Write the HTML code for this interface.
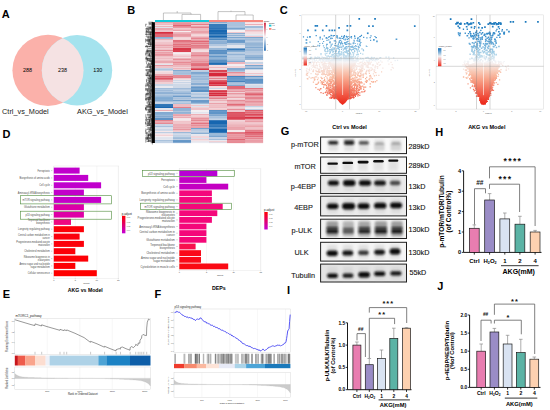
<!DOCTYPE html>
<html><head><meta charset="utf-8"><style>
html,body{margin:0;padding:0;background:#fff;}
svg{display:block;}
text{font-family:"Liberation Sans", sans-serif;}
</style></head><body>
<svg width="550" height="410" viewBox="0 0 550 410" font-family='"Liberation Sans", sans-serif'>
<rect width="550" height="410" fill="#fff"/>
<text x="1.8" y="18" font-size="11" font-weight="bold" fill="#000">A</text>
<text x="127.3" y="13.7" font-size="11" font-weight="bold" fill="#000">B</text>
<text x="279.8" y="13.7" font-size="11" font-weight="bold" fill="#000">C</text>
<text x="2.6" y="137.8" font-size="11" font-weight="bold" fill="#000">D</text>
<text x="2.8" y="297.8" font-size="11" font-weight="bold" fill="#000">E</text>
<text x="154.4" y="298" font-size="11" font-weight="bold" fill="#000">F</text>
<text x="280.8" y="135.2" font-size="11" font-weight="bold" fill="#000">G</text>
<text x="435.2" y="135.8" font-size="11" font-weight="bold" fill="#000">H</text>
<text x="437.2" y="290.4" font-size="11" font-weight="bold" fill="#000">J</text>
<text x="286.9" y="293.7" font-size="11" font-weight="bold" fill="#000">I</text>
<defs><clipPath id="vc"><circle cx="48" cy="70.3" r="35.6"/></clipPath></defs>
<circle cx="48" cy="70.3" r="35.6" fill="#FBB1AA"/>
<circle cx="77" cy="70.3" r="35.2" fill="#A5E3EE"/>
<circle cx="77" cy="70.3" r="35.2" fill="#F5E2E3" clip-path="url(#vc)"/>
<text x="27.6" y="72.2" font-size="5.4" text-anchor="middle" fill="#000">288</text>
<text x="62.6" y="72.2" font-size="5.4" text-anchor="middle" fill="#000">238</text>
<text x="97.8" y="72.2" font-size="5.4" text-anchor="middle" fill="#000">130</text>
<text x="2.1" y="114" font-size="7.3" fill="#222">Ctrl_vs_Model</text>
<text x="77.1" y="114" font-size="7.3" fill="#222">AKG_vs_Model</text>
<rect x="155" y="20" width="54" height="2.2" fill="#12C8DA"/>
<rect x="209" y="20" width="54" height="2.2" fill="#F7877E"/>
<rect x="155" y="22" width="18.1" height="1.6" fill="#eaa3ab"/>
<rect x="155" y="23.5" width="18.1" height="0.6" fill="#edb9c0"/>
<rect x="155" y="24" width="18.1" height="1.1" fill="#edbac1"/>
<rect x="155" y="25" width="18.1" height="1.1" fill="#f4e1e5"/>
<rect x="155" y="26" width="18.1" height="1.1" fill="#ecb3ba"/>
<rect x="155" y="27" width="18.1" height="1.1" fill="#dfe3ec"/>
<rect x="155" y="28" width="18.1" height="2" fill="#eba8b0"/>
<rect x="155" y="30" width="18.1" height="1.1" fill="#efc2c8"/>
<rect x="155" y="31" width="18.1" height="1.1" fill="#efc4ca"/>
<rect x="155" y="32" width="18.1" height="1.1" fill="#d72e3f"/>
<rect x="155" y="33" width="18.1" height="1.1" fill="#da4555"/>
<rect x="155" y="34" width="18.1" height="2" fill="#e06875"/>
<rect x="155" y="36" width="18.1" height="1.1" fill="#e06875"/>
<rect x="155" y="37" width="18.1" height="1.1" fill="#8db0d4"/>
<rect x="155" y="38" width="18.1" height="1.1" fill="#a1bdda"/>
<rect x="155" y="39" width="18.1" height="1.6" fill="#ecb2b9"/>
<rect x="155" y="40.5" width="18.1" height="1.1" fill="#f2d8dc"/>
<rect x="155" y="41.5" width="18.1" height="1.1" fill="#efc1c7"/>
<rect x="155" y="42.5" width="18.1" height="1.1" fill="#ecb2b9"/>
<rect x="155" y="43.5" width="18.1" height="1.1" fill="#edb7be"/>
<rect x="155" y="44.5" width="18.1" height="2" fill="#e9a2aa"/>
<rect x="155" y="46.5" width="18.1" height="2" fill="#ecb0b7"/>
<rect x="155" y="48.5" width="18.1" height="1.6" fill="#efc2c8"/>
<rect x="155" y="50" width="18.1" height="1.1" fill="#e68d97"/>
<rect x="155" y="51" width="18.1" height="1.1" fill="#efc2c8"/>
<rect x="155" y="52" width="18.1" height="1.6" fill="#e9a0a9"/>
<rect x="155" y="53.5" width="18.1" height="1.6" fill="#e7919b"/>
<rect x="155" y="55" width="18.1" height="1.6" fill="#e89aa3"/>
<rect x="155" y="56.5" width="18.1" height="1.1" fill="#eec0c5"/>
<rect x="155" y="57.5" width="18.1" height="2" fill="#eebcc2"/>
<rect x="155" y="59.5" width="18.1" height="1.6" fill="#eebdc3"/>
<rect x="155" y="61" width="18.1" height="2" fill="#eaa8b0"/>
<rect x="155" y="63" width="18.1" height="1.1" fill="#f2d6da"/>
<rect x="155" y="64" width="18.1" height="1.1" fill="#e2e5ed"/>
<rect x="155" y="65" width="18.1" height="1.6" fill="#e89ba4"/>
<rect x="155" y="66.5" width="18.1" height="1.6" fill="#efc4c9"/>
<rect x="155" y="68" width="18.1" height="1.1" fill="#c5d2e4"/>
<rect x="155" y="69" width="18.1" height="1.1" fill="#afc5de"/>
<rect x="155" y="70" width="18.1" height="1.1" fill="#c7d4e5"/>
<rect x="155" y="71" width="18.1" height="1.1" fill="#f4e1e4"/>
<rect x="155" y="72" width="18.1" height="2" fill="#f2d8dc"/>
<rect x="155" y="74" width="18.1" height="2" fill="#eaa7af"/>
<rect x="155" y="76" width="18.1" height="1.6" fill="#e06a77"/>
<rect x="155" y="77.5" width="18.1" height="2" fill="#dd5462"/>
<rect x="155" y="79.5" width="18.1" height="0.6" fill="#db4b5a"/>
<rect x="155" y="80" width="18.1" height="1.1" fill="#ecb0b7"/>
<rect x="155" y="81" width="18.1" height="1.1" fill="#ecb2b9"/>
<rect x="155" y="82" width="18.1" height="2" fill="#f1cfd3"/>
<rect x="155" y="84" width="18.1" height="2" fill="#c9d5e6"/>
<rect x="155" y="86" width="18.1" height="2" fill="#e9e9ef"/>
<rect x="155" y="88" width="18.1" height="1.6" fill="#a0bbd9"/>
<rect x="155" y="89.5" width="18.1" height="2" fill="#9ebad9"/>
<rect x="155" y="91.5" width="18.1" height="1.6" fill="#91b2d5"/>
<rect x="155" y="93" width="18.1" height="1.6" fill="#8fb1d4"/>
<rect x="155" y="94.5" width="18.1" height="2" fill="#a6bfdb"/>
<rect x="155" y="96.5" width="18.1" height="1.1" fill="#6194c6"/>
<rect x="155" y="97.5" width="18.1" height="1.1" fill="#6c9bca"/>
<rect x="155" y="98.5" width="18.1" height="1.1" fill="#5b91c5"/>
<rect x="155" y="99.5" width="18.1" height="0.6" fill="#6e9dca"/>
<rect x="155" y="100" width="18.1" height="1.1" fill="#82a9d0"/>
<rect x="155" y="101" width="18.1" height="1.6" fill="#a7c0dc"/>
<rect x="155" y="102.5" width="18.1" height="1.6" fill="#c5d3e5"/>
<rect x="155" y="104" width="18.1" height="1.1" fill="#3378b8"/>
<rect x="155" y="105" width="18.1" height="2" fill="#2e75b7"/>
<rect x="155" y="107" width="18.1" height="1.1" fill="#1a68b1"/>
<rect x="155" y="108" width="18.1" height="2" fill="#e2e5ed"/>
<rect x="155" y="110" width="18.1" height="1.1" fill="#ebaeb5"/>
<rect x="155" y="111" width="18.1" height="1.1" fill="#edecf1"/>
<rect x="155" y="112" width="18.1" height="1.6" fill="#82a9d0"/>
<rect x="155" y="113.5" width="18.1" height="1.1" fill="#548cc2"/>
<rect x="155" y="114.5" width="18.1" height="1.1" fill="#7da6cf"/>
<rect x="155" y="115.5" width="18.1" height="1.6" fill="#83a9d0"/>
<rect x="155" y="117" width="18.1" height="1.1" fill="#97b6d7"/>
<rect x="155" y="118" width="18.1" height="2" fill="#5f93c6"/>
<rect x="155" y="120" width="18.1" height="1.6" fill="#e4818c"/>
<rect x="155" y="121.5" width="18.1" height="1.6" fill="#eaa4ac"/>
<rect x="155" y="123" width="18.1" height="1.1" fill="#e58993"/>
<rect x="155" y="124" width="18.1" height="2" fill="#ccd7e7"/>
<rect x="155" y="126" width="18.1" height="1.6" fill="#a9c1dc"/>
<rect x="155" y="127.5" width="18.1" height="1.1" fill="#e7e8ef"/>
<rect x="155" y="128.5" width="18.1" height="1.6" fill="#ccd7e7"/>
<rect x="155" y="130" width="18.1" height="1.1" fill="#cfd9e8"/>
<rect x="155" y="131" width="18.1" height="1.1" fill="#f5e7ea"/>
<rect x="155" y="132" width="18.1" height="1.6" fill="#becee2"/>
<rect x="155" y="133.5" width="18.1" height="1.1" fill="#f5e8eb"/>
<rect x="155" y="134.5" width="18.1" height="1.6" fill="#f1d3d7"/>
<rect x="155" y="136" width="18.1" height="1.1" fill="#f6eff1"/>
<rect x="155" y="137" width="18.1" height="1.6" fill="#e2e5ed"/>
<rect x="155" y="138.5" width="18.1" height="1.1" fill="#d2dae8"/>
<rect x="155" y="139.5" width="18.1" height="0.6" fill="#e3e6ee"/>
<rect x="155" y="140" width="18.1" height="1.6" fill="#a9c2dc"/>
<rect x="155" y="141.5" width="18.1" height="1.1" fill="#b8cbe1"/>
<rect x="155" y="142.5" width="18.1" height="0.6" fill="#b2c7df"/>
<rect x="173" y="22" width="18.1" height="1.1" fill="#e99da6"/>
<rect x="173" y="23" width="18.1" height="2" fill="#e7929c"/>
<rect x="173" y="25" width="18.1" height="1.1" fill="#e06673"/>
<rect x="173" y="26" width="18.1" height="1.6" fill="#e68a94"/>
<rect x="173" y="27.5" width="18.1" height="0.6" fill="#e37a86"/>
<rect x="173" y="28" width="18.1" height="1.6" fill="#f0cacf"/>
<rect x="173" y="29.5" width="18.1" height="1.6" fill="#eaa2aa"/>
<rect x="173" y="31" width="18.1" height="1.1" fill="#f6edef"/>
<rect x="173" y="32" width="18.1" height="1.1" fill="#edb7be"/>
<rect x="173" y="33" width="18.1" height="1.1" fill="#ecaeb6"/>
<rect x="173" y="34" width="18.1" height="2" fill="#e899a2"/>
<rect x="173" y="36" width="18.1" height="1.1" fill="#eaa4ac"/>
<rect x="173" y="37" width="18.1" height="1.6" fill="#f1d3d7"/>
<rect x="173" y="38.5" width="18.1" height="1.1" fill="#f1d0d4"/>
<rect x="173" y="39.5" width="18.1" height="0.6" fill="#f0c9ce"/>
<rect x="173" y="40" width="18.1" height="1.1" fill="#e1707c"/>
<rect x="173" y="41" width="18.1" height="1.1" fill="#e2737f"/>
<rect x="173" y="42" width="18.1" height="1.6" fill="#e68b95"/>
<rect x="173" y="43.5" width="18.1" height="2" fill="#e2717d"/>
<rect x="173" y="45.5" width="18.1" height="1.1" fill="#df606d"/>
<rect x="173" y="46.5" width="18.1" height="1.1" fill="#dc4e5d"/>
<rect x="173" y="47.5" width="18.1" height="0.6" fill="#e58791"/>
<rect x="173" y="48" width="18.1" height="2" fill="#d83747"/>
<rect x="173" y="50" width="18.1" height="1.1" fill="#da4353"/>
<rect x="173" y="51" width="18.1" height="1.1" fill="#da4050"/>
<rect x="173" y="52" width="18.1" height="1.6" fill="#f4e4e7"/>
<rect x="173" y="53.5" width="18.1" height="1.1" fill="#f2eff2"/>
<rect x="173" y="54.5" width="18.1" height="1.1" fill="#efc3c9"/>
<rect x="173" y="55.5" width="18.1" height="1.1" fill="#f0cbd0"/>
<rect x="173" y="56.5" width="18.1" height="1.1" fill="#ebacb3"/>
<rect x="173" y="57.5" width="18.1" height="0.6" fill="#f3f0f3"/>
<rect x="173" y="58" width="18.1" height="1.1" fill="#ecb2b9"/>
<rect x="173" y="59" width="18.1" height="1.1" fill="#e68f99"/>
<rect x="173" y="60" width="18.1" height="1.6" fill="#edb4bb"/>
<rect x="173" y="61.5" width="18.1" height="2" fill="#e68a94"/>
<rect x="173" y="63.5" width="18.1" height="1.1" fill="#e5858f"/>
<rect x="173" y="64.5" width="18.1" height="0.6" fill="#e58590"/>
<rect x="173" y="65" width="18.1" height="2" fill="#edbac0"/>
<rect x="173" y="67" width="18.1" height="1.1" fill="#f1d2d7"/>
<rect x="173" y="68" width="18.1" height="1.1" fill="#edb6bd"/>
<rect x="173" y="69" width="18.1" height="1.1" fill="#f0ccd1"/>
<rect x="173" y="70" width="18.1" height="1.1" fill="#84aad1"/>
<rect x="173" y="71" width="18.1" height="2" fill="#a8c1dc"/>
<rect x="173" y="73" width="18.1" height="1.1" fill="#a3bdda"/>
<rect x="173" y="74" width="18.1" height="1.1" fill="#adc4dd"/>
<rect x="173" y="75" width="18.1" height="2" fill="#e68d97"/>
<rect x="173" y="77" width="18.1" height="1.1" fill="#e58691"/>
<rect x="173" y="78" width="18.1" height="1.1" fill="#f0cbd0"/>
<rect x="173" y="79" width="18.1" height="1.1" fill="#f3dee1"/>
<rect x="173" y="80" width="18.1" height="1.1" fill="#cfd9e7"/>
<rect x="173" y="81" width="18.1" height="1.1" fill="#e9e9ef"/>
<rect x="173" y="82" width="18.1" height="1.1" fill="#c9d5e6"/>
<rect x="173" y="83" width="18.1" height="1.1" fill="#e1e4ed"/>
<rect x="173" y="84" width="18.1" height="2" fill="#cfd9e7"/>
<rect x="173" y="86" width="18.1" height="2" fill="#cfd9e7"/>
<rect x="173" y="88" width="18.1" height="1.1" fill="#a0bbd9"/>
<rect x="173" y="89" width="18.1" height="1.6" fill="#b2c7df"/>
<rect x="173" y="90.5" width="18.1" height="1.1" fill="#abc3dd"/>
<rect x="173" y="91.5" width="18.1" height="1.1" fill="#89add2"/>
<rect x="173" y="92.5" width="18.1" height="2" fill="#8baed3"/>
<rect x="173" y="94.5" width="18.1" height="1.1" fill="#9dbad9"/>
<rect x="173" y="95.5" width="18.1" height="2" fill="#6e9cca"/>
<rect x="173" y="97.5" width="18.1" height="1.6" fill="#a7c0db"/>
<rect x="173" y="99" width="18.1" height="1.1" fill="#b4c8df"/>
<rect x="173" y="100" width="18.1" height="1.6" fill="#73a0cc"/>
<rect x="173" y="101.5" width="18.1" height="1.1" fill="#b6cae0"/>
<rect x="173" y="102.5" width="18.1" height="1.1" fill="#a3beda"/>
<rect x="173" y="103.5" width="18.1" height="0.6" fill="#87acd2"/>
<rect x="173" y="104" width="18.1" height="2" fill="#eebcc2"/>
<rect x="173" y="106" width="18.1" height="1.1" fill="#eebcc2"/>
<rect x="173" y="107" width="18.1" height="1.1" fill="#e47f8a"/>
<rect x="173" y="108" width="18.1" height="2" fill="#91b2d5"/>
<rect x="173" y="110" width="18.1" height="1.1" fill="#92b3d5"/>
<rect x="173" y="111" width="18.1" height="1.1" fill="#b1c6de"/>
<rect x="173" y="112" width="18.1" height="1.1" fill="#91b2d5"/>
<rect x="173" y="113" width="18.1" height="1.1" fill="#99b7d7"/>
<rect x="173" y="114" width="18.1" height="1.1" fill="#ebabb2"/>
<rect x="173" y="115" width="18.1" height="1.6" fill="#e9a1aa"/>
<rect x="173" y="116.5" width="18.1" height="1.1" fill="#eec0c6"/>
<rect x="173" y="117.5" width="18.1" height="0.6" fill="#e4808b"/>
<rect x="173" y="118" width="18.1" height="1.1" fill="#f4e2e6"/>
<rect x="173" y="119" width="18.1" height="1.6" fill="#f5e7ea"/>
<rect x="173" y="120.5" width="18.1" height="1.1" fill="#f1d1d6"/>
<rect x="173" y="121.5" width="18.1" height="1.1" fill="#eaa5ad"/>
<rect x="173" y="122.5" width="18.1" height="1.6" fill="#efc6cb"/>
<rect x="173" y="124" width="18.1" height="2" fill="#ecaeb6"/>
<rect x="173" y="126" width="18.1" height="1.1" fill="#ecb3ba"/>
<rect x="173" y="127" width="18.1" height="1.1" fill="#eaa8b0"/>
<rect x="173" y="128" width="18.1" height="1.1" fill="#ecb4bb"/>
<rect x="173" y="129" width="18.1" height="1.1" fill="#e898a1"/>
<rect x="173" y="130" width="18.1" height="1.6" fill="#efc2c8"/>
<rect x="173" y="131.5" width="18.1" height="0.6" fill="#efc4c9"/>
<rect x="173" y="132" width="18.1" height="1.1" fill="#9ab8d8"/>
<rect x="173" y="133" width="18.1" height="1.6" fill="#c9d5e6"/>
<rect x="173" y="134.5" width="18.1" height="2" fill="#c3d1e4"/>
<rect x="173" y="136.5" width="18.1" height="1.6" fill="#a8c1dc"/>
<rect x="173" y="138" width="18.1" height="1.1" fill="#a0bcd9"/>
<rect x="173" y="139" width="18.1" height="1.1" fill="#c4d2e4"/>
<rect x="173" y="140" width="18.1" height="1.1" fill="#6798c8"/>
<rect x="173" y="141" width="18.1" height="1.1" fill="#6396c7"/>
<rect x="173" y="142" width="18.1" height="1.1" fill="#84aad1"/>
<rect x="191" y="22" width="18.1" height="1.1" fill="#ecb2b9"/>
<rect x="191" y="23" width="18.1" height="1.1" fill="#ecb3ba"/>
<rect x="191" y="24" width="18.1" height="1.1" fill="#e47f8a"/>
<rect x="191" y="25" width="18.1" height="1.1" fill="#f0c8cd"/>
<rect x="191" y="26" width="18.1" height="1.1" fill="#e9a1a9"/>
<rect x="191" y="27" width="18.1" height="1.1" fill="#e4838e"/>
<rect x="191" y="28" width="18.1" height="1.1" fill="#edb9bf"/>
<rect x="191" y="29" width="18.1" height="2" fill="#edb9bf"/>
<rect x="191" y="31" width="18.1" height="2" fill="#e9a1a9"/>
<rect x="191" y="33" width="18.1" height="1.6" fill="#edb6bd"/>
<rect x="191" y="34.5" width="18.1" height="1.1" fill="#f1d3d7"/>
<rect x="191" y="35.5" width="18.1" height="1.1" fill="#f1cdd2"/>
<rect x="191" y="36.5" width="18.1" height="0.6" fill="#e9a0a9"/>
<rect x="191" y="37" width="18.1" height="1.1" fill="#eaa4ad"/>
<rect x="191" y="38" width="18.1" height="1.6" fill="#e58691"/>
<rect x="191" y="39.5" width="18.1" height="1.1" fill="#e99fa8"/>
<rect x="191" y="40.5" width="18.1" height="2" fill="#e06875"/>
<rect x="191" y="42.5" width="18.1" height="1.6" fill="#e37b86"/>
<rect x="191" y="44" width="18.1" height="1.1" fill="#eaa2aa"/>
<rect x="191" y="45" width="18.1" height="1.1" fill="#e37a85"/>
<rect x="191" y="46" width="18.1" height="2" fill="#e5848f"/>
<rect x="191" y="48" width="18.1" height="1.6" fill="#e9a2aa"/>
<rect x="191" y="49.5" width="18.1" height="1.6" fill="#f3dcdf"/>
<rect x="191" y="51" width="18.1" height="1.1" fill="#f3dee2"/>
<rect x="191" y="52" width="18.1" height="1.1" fill="#eaa5ad"/>
<rect x="191" y="53" width="18.1" height="2" fill="#e99fa8"/>
<rect x="191" y="55" width="18.1" height="1.6" fill="#e4818c"/>
<rect x="191" y="56.5" width="18.1" height="1.1" fill="#e7939d"/>
<rect x="191" y="57.5" width="18.1" height="1.1" fill="#e99fa7"/>
<rect x="191" y="58.5" width="18.1" height="1.1" fill="#e89ba4"/>
<rect x="191" y="59.5" width="18.1" height="1.1" fill="#e58993"/>
<rect x="191" y="60.5" width="18.1" height="1.6" fill="#e68f99"/>
<rect x="191" y="62" width="18.1" height="1.1" fill="#e99fa8"/>
<rect x="191" y="63" width="18.1" height="1.1" fill="#e27782"/>
<rect x="191" y="64" width="18.1" height="2" fill="#e16f7c"/>
<rect x="191" y="66" width="18.1" height="2" fill="#e89aa3"/>
<rect x="191" y="68" width="18.1" height="1.1" fill="#df6370"/>
<rect x="191" y="69" width="18.1" height="1.1" fill="#d83546"/>
<rect x="191" y="70" width="18.1" height="1.1" fill="#c1d0e3"/>
<rect x="191" y="71" width="18.1" height="1.1" fill="#bacce1"/>
<rect x="191" y="72" width="18.1" height="1.1" fill="#7da6cf"/>
<rect x="191" y="73" width="18.1" height="1.1" fill="#81a8d0"/>
<rect x="191" y="74" width="18.1" height="1.6" fill="#9ebbd9"/>
<rect x="191" y="75.5" width="18.1" height="2" fill="#94b4d6"/>
<rect x="191" y="77.5" width="18.1" height="0.6" fill="#84aad1"/>
<rect x="191" y="78" width="18.1" height="1.1" fill="#9dbad9"/>
<rect x="191" y="79" width="18.1" height="1.1" fill="#9bb8d8"/>
<rect x="191" y="80" width="18.1" height="1.1" fill="#b3c8df"/>
<rect x="191" y="81" width="18.1" height="1.1" fill="#abc3dd"/>
<rect x="191" y="82" width="18.1" height="1.1" fill="#b3c7df"/>
<rect x="191" y="83" width="18.1" height="2" fill="#8aaed3"/>
<rect x="191" y="85" width="18.1" height="1.1" fill="#bccde2"/>
<rect x="191" y="86" width="18.1" height="1.1" fill="#8cafd3"/>
<rect x="191" y="87" width="18.1" height="1.1" fill="#6597c8"/>
<rect x="191" y="88" width="18.1" height="2" fill="#79a4ce"/>
<rect x="191" y="90" width="18.1" height="2" fill="#5990c4"/>
<rect x="191" y="92" width="18.1" height="1.6" fill="#cdd8e7"/>
<rect x="191" y="93.5" width="18.1" height="1.1" fill="#92b3d5"/>
<rect x="191" y="94.5" width="18.1" height="1.1" fill="#a7c0db"/>
<rect x="191" y="95.5" width="18.1" height="1.6" fill="#c0d0e3"/>
<rect x="191" y="97" width="18.1" height="1.1" fill="#8db0d3"/>
<rect x="191" y="98" width="18.1" height="1.1" fill="#b4c8df"/>
<rect x="191" y="99" width="18.1" height="1.1" fill="#c6d4e5"/>
<rect x="191" y="100" width="18.1" height="2" fill="#6a9ac9"/>
<rect x="191" y="102" width="18.1" height="1.6" fill="#77a2cd"/>
<rect x="191" y="103.5" width="18.1" height="0.6" fill="#8fb1d4"/>
<rect x="191" y="104" width="18.1" height="1.1" fill="#dfe3ec"/>
<rect x="191" y="105" width="18.1" height="1.1" fill="#f0c7cc"/>
<rect x="191" y="106" width="18.1" height="1.1" fill="#dde2ec"/>
<rect x="191" y="107" width="18.1" height="1.1" fill="#f1d1d5"/>
<rect x="191" y="108" width="18.1" height="2" fill="#efc2c8"/>
<rect x="191" y="110" width="18.1" height="2" fill="#f3f0f3"/>
<rect x="191" y="112" width="18.1" height="1.1" fill="#e3e5ee"/>
<rect x="191" y="113" width="18.1" height="1.1" fill="#ebeaf0"/>
<rect x="191" y="114" width="18.1" height="1.6" fill="#ecb0b7"/>
<rect x="191" y="115.5" width="18.1" height="1.1" fill="#f0ccd1"/>
<rect x="191" y="116.5" width="18.1" height="1.6" fill="#edb5bc"/>
<rect x="191" y="118" width="18.1" height="1.6" fill="#e7949e"/>
<rect x="191" y="119.5" width="18.1" height="2" fill="#e58993"/>
<rect x="191" y="121.5" width="18.1" height="1.1" fill="#eaa5ad"/>
<rect x="191" y="122.5" width="18.1" height="2" fill="#e27581"/>
<rect x="191" y="124.5" width="18.1" height="2" fill="#e68f99"/>
<rect x="191" y="126.5" width="18.1" height="1.1" fill="#e58792"/>
<rect x="191" y="127.5" width="18.1" height="0.6" fill="#e68e98"/>
<rect x="191" y="128" width="18.1" height="1.6" fill="#76a2cd"/>
<rect x="191" y="129.5" width="18.1" height="1.6" fill="#bbcce2"/>
<rect x="191" y="131" width="18.1" height="1.1" fill="#c4d2e4"/>
<rect x="191" y="132" width="18.1" height="1.1" fill="#b0c6de"/>
<rect x="191" y="133" width="18.1" height="1.1" fill="#8aaed3"/>
<rect x="191" y="134" width="18.1" height="1.1" fill="#e8e9ef"/>
<rect x="191" y="135" width="18.1" height="1.1" fill="#e5e6ee"/>
<rect x="191" y="136" width="18.1" height="2" fill="#f2d6db"/>
<rect x="191" y="138" width="18.1" height="1.1" fill="#dce1ec"/>
<rect x="191" y="139" width="18.1" height="1.1" fill="#f1d0d4"/>
<rect x="191" y="140" width="18.1" height="1.6" fill="#f4e2e5"/>
<rect x="191" y="141.5" width="18.1" height="1.1" fill="#d9dfeb"/>
<rect x="191" y="142.5" width="18.1" height="0.6" fill="#edecf1"/>
<rect x="209" y="22" width="18.1" height="1.6" fill="#85abd1"/>
<rect x="209" y="23.5" width="18.1" height="0.6" fill="#b6cae0"/>
<rect x="209" y="24" width="18.1" height="2" fill="#377bba"/>
<rect x="209" y="26" width="18.1" height="2" fill="#397cba"/>
<rect x="209" y="28" width="18.1" height="1.1" fill="#2b73b6"/>
<rect x="209" y="29" width="18.1" height="1.1" fill="#3b7dbb"/>
<rect x="209" y="30" width="18.1" height="2" fill="#1867b0"/>
<rect x="209" y="32" width="18.1" height="1.1" fill="#2670b5"/>
<rect x="209" y="33" width="18.1" height="1.6" fill="#1b69b1"/>
<rect x="209" y="34.5" width="18.1" height="1.1" fill="#1666b0"/>
<rect x="209" y="35.5" width="18.1" height="1.6" fill="#1666b0"/>
<rect x="209" y="37" width="18.1" height="1.6" fill="#4583be"/>
<rect x="209" y="38.5" width="18.1" height="1.6" fill="#508ac1"/>
<rect x="209" y="40" width="18.1" height="1.1" fill="#9dbad8"/>
<rect x="209" y="41" width="18.1" height="2" fill="#8eb0d4"/>
<rect x="209" y="43" width="18.1" height="1.1" fill="#8aaed3"/>
<rect x="209" y="44" width="18.1" height="2" fill="#b2c7df"/>
<rect x="209" y="46" width="18.1" height="2" fill="#d2dbe8"/>
<rect x="209" y="48" width="18.1" height="2" fill="#98b7d7"/>
<rect x="209" y="50" width="18.1" height="1.1" fill="#588fc4"/>
<rect x="209" y="51" width="18.1" height="1.1" fill="#6094c6"/>
<rect x="209" y="52" width="18.1" height="1.1" fill="#5e93c5"/>
<rect x="209" y="53" width="18.1" height="1.6" fill="#5990c4"/>
<rect x="209" y="54.5" width="18.1" height="1.1" fill="#8aaed3"/>
<rect x="209" y="55.5" width="18.1" height="2" fill="#6396c7"/>
<rect x="209" y="57.5" width="18.1" height="1.1" fill="#6295c7"/>
<rect x="209" y="58.5" width="18.1" height="1.6" fill="#7fa7cf"/>
<rect x="209" y="60" width="18.1" height="2" fill="#5b91c4"/>
<rect x="209" y="62" width="18.1" height="1.1" fill="#508ac1"/>
<rect x="209" y="63" width="18.1" height="1.1" fill="#1f6cb2"/>
<rect x="209" y="64" width="18.1" height="1.1" fill="#3478b9"/>
<rect x="209" y="65" width="18.1" height="2" fill="#f3dbdf"/>
<rect x="209" y="67" width="18.1" height="1.6" fill="#edb8bf"/>
<rect x="209" y="68.5" width="18.1" height="1.1" fill="#e9e9ef"/>
<rect x="209" y="69.5" width="18.1" height="0.6" fill="#efc3c9"/>
<rect x="209" y="70" width="18.1" height="2" fill="#da4453"/>
<rect x="209" y="72" width="18.1" height="1.1" fill="#e5858f"/>
<rect x="209" y="73" width="18.1" height="2" fill="#d6283a"/>
<rect x="209" y="75" width="18.1" height="1.1" fill="#d6283a"/>
<rect x="209" y="76" width="18.1" height="1.1" fill="#e68e97"/>
<rect x="209" y="77" width="18.1" height="1.1" fill="#eebdc3"/>
<rect x="209" y="78" width="18.1" height="1.1" fill="#e4828d"/>
<rect x="209" y="79" width="18.1" height="1.1" fill="#efc2c8"/>
<rect x="209" y="80" width="18.1" height="1.1" fill="#df5f6d"/>
<rect x="209" y="81" width="18.1" height="1.1" fill="#dc505f"/>
<rect x="209" y="82" width="18.1" height="1.1" fill="#d83546"/>
<rect x="209" y="83" width="18.1" height="1.6" fill="#d6283a"/>
<rect x="209" y="84.5" width="18.1" height="1.6" fill="#d93d4d"/>
<rect x="209" y="86" width="18.1" height="2" fill="#f3dcdf"/>
<rect x="209" y="88" width="18.1" height="1.1" fill="#cad6e6"/>
<rect x="209" y="89" width="18.1" height="1.1" fill="#f6eef0"/>
<rect x="209" y="90" width="18.1" height="1.1" fill="#dc5260"/>
<rect x="209" y="91" width="18.1" height="1.1" fill="#d83848"/>
<rect x="209" y="92" width="18.1" height="1.1" fill="#e16b78"/>
<rect x="209" y="93" width="18.1" height="1.6" fill="#d62b3c"/>
<rect x="209" y="94.5" width="18.1" height="1.6" fill="#d62d3f"/>
<rect x="209" y="96" width="18.1" height="1.1" fill="#eaa4ac"/>
<rect x="209" y="97" width="18.1" height="1.1" fill="#e99fa7"/>
<rect x="209" y="98" width="18.1" height="1.1" fill="#e4818c"/>
<rect x="209" y="99" width="18.1" height="1.1" fill="#efc5ca"/>
<rect x="209" y="100" width="18.1" height="1.1" fill="#ecb0b7"/>
<rect x="209" y="101" width="18.1" height="2" fill="#f1d2d6"/>
<rect x="209" y="103" width="18.1" height="1.1" fill="#eaa3ab"/>
<rect x="209" y="104" width="18.1" height="1.6" fill="#efc5cb"/>
<rect x="209" y="105.5" width="18.1" height="1.1" fill="#e9a1a9"/>
<rect x="209" y="106.5" width="18.1" height="2" fill="#eebbc1"/>
<rect x="209" y="108.5" width="18.1" height="1.6" fill="#f0c8cd"/>
<rect x="209" y="110" width="18.1" height="1.6" fill="#5b91c5"/>
<rect x="209" y="111.5" width="18.1" height="1.1" fill="#3479b9"/>
<rect x="209" y="112.5" width="18.1" height="1.1" fill="#3c7dbb"/>
<rect x="209" y="113.5" width="18.1" height="0.6" fill="#367ab9"/>
<rect x="209" y="114" width="18.1" height="1.1" fill="#8bafd3"/>
<rect x="209" y="115" width="18.1" height="1.6" fill="#7fa7cf"/>
<rect x="209" y="116.5" width="18.1" height="2" fill="#a7c0dc"/>
<rect x="209" y="118.5" width="18.1" height="1.1" fill="#9dbad8"/>
<rect x="209" y="119.5" width="18.1" height="0.6" fill="#c5d3e5"/>
<rect x="209" y="120" width="18.1" height="1.1" fill="#3a7cbb"/>
<rect x="209" y="121" width="18.1" height="1.1" fill="#1666b0"/>
<rect x="209" y="122" width="18.1" height="1.1" fill="#1666b0"/>
<rect x="209" y="123" width="18.1" height="1.1" fill="#1666b0"/>
<rect x="209" y="124" width="18.1" height="2" fill="#387bba"/>
<rect x="209" y="126" width="18.1" height="1.6" fill="#2c74b6"/>
<rect x="209" y="127.5" width="18.1" height="1.1" fill="#3b7dbb"/>
<rect x="209" y="128.5" width="18.1" height="1.6" fill="#1666b0"/>
<rect x="209" y="130" width="18.1" height="2" fill="#1666b0"/>
<rect x="209" y="132" width="18.1" height="1.1" fill="#3479b9"/>
<rect x="209" y="133" width="18.1" height="1.6" fill="#99b8d7"/>
<rect x="209" y="134.5" width="18.1" height="1.1" fill="#76a2cd"/>
<rect x="209" y="135.5" width="18.1" height="1.6" fill="#7ca6cf"/>
<rect x="209" y="137" width="18.1" height="2" fill="#c6d3e5"/>
<rect x="209" y="139" width="18.1" height="1.1" fill="#a3beda"/>
<rect x="209" y="140" width="18.1" height="1.1" fill="#e7e8ef"/>
<rect x="209" y="141" width="18.1" height="1.6" fill="#f1d1d5"/>
<rect x="209" y="142.5" width="18.1" height="0.6" fill="#c9d5e6"/>
<rect x="227" y="22" width="18.1" height="2" fill="#abc2dd"/>
<rect x="227" y="24" width="18.1" height="2" fill="#aac2dd"/>
<rect x="227" y="26" width="18.1" height="1.6" fill="#b2c7df"/>
<rect x="227" y="27.5" width="18.1" height="2" fill="#78a3cd"/>
<rect x="227" y="29.5" width="18.1" height="0.6" fill="#8aaed3"/>
<rect x="227" y="30" width="18.1" height="2" fill="#f5f1f3"/>
<rect x="227" y="32" width="18.1" height="1.1" fill="#f0c8ce"/>
<rect x="227" y="33" width="18.1" height="1.1" fill="#8aaed3"/>
<rect x="227" y="34" width="18.1" height="1.1" fill="#c0d0e3"/>
<rect x="227" y="35" width="18.1" height="1.6" fill="#93b3d5"/>
<rect x="227" y="36.5" width="18.1" height="0.6" fill="#c6d3e5"/>
<rect x="227" y="37" width="18.1" height="1.1" fill="#7ca6cf"/>
<rect x="227" y="38" width="18.1" height="1.6" fill="#b3c7df"/>
<rect x="227" y="39.5" width="18.1" height="1.6" fill="#6899c9"/>
<rect x="227" y="41" width="18.1" height="1.1" fill="#6a9ac9"/>
<rect x="227" y="42" width="18.1" height="1.1" fill="#709ecb"/>
<rect x="227" y="43" width="18.1" height="2" fill="#b5c9e0"/>
<rect x="227" y="45" width="18.1" height="2" fill="#e2e5ed"/>
<rect x="227" y="47" width="18.1" height="1.1" fill="#e4e6ee"/>
<rect x="227" y="48" width="18.1" height="1.1" fill="#78a3cd"/>
<rect x="227" y="49" width="18.1" height="1.1" fill="#3378b8"/>
<rect x="227" y="50" width="18.1" height="1.6" fill="#6f9dcb"/>
<rect x="227" y="51.5" width="18.1" height="0.6" fill="#5f93c6"/>
<rect x="227" y="52" width="18.1" height="1.6" fill="#bdcee2"/>
<rect x="227" y="53.5" width="18.1" height="2" fill="#93b3d5"/>
<rect x="227" y="55.5" width="18.1" height="1.1" fill="#9fbbd9"/>
<rect x="227" y="56.5" width="18.1" height="2" fill="#b3c8df"/>
<rect x="227" y="58.5" width="18.1" height="1.1" fill="#96b6d6"/>
<rect x="227" y="59.5" width="18.1" height="1.1" fill="#9dbad8"/>
<rect x="227" y="60.5" width="18.1" height="1.6" fill="#83a9d1"/>
<rect x="227" y="62" width="18.1" height="2" fill="#edb5bc"/>
<rect x="227" y="64" width="18.1" height="1.1" fill="#f6ecef"/>
<rect x="227" y="65" width="18.1" height="1.1" fill="#f3eff3"/>
<rect x="227" y="66" width="18.1" height="2" fill="#f2d5d9"/>
<rect x="227" y="68" width="18.1" height="2" fill="#84aad1"/>
<rect x="227" y="70" width="18.1" height="1.1" fill="#97b6d7"/>
<rect x="227" y="71" width="18.1" height="1.1" fill="#b3c8df"/>
<rect x="227" y="72" width="18.1" height="1.1" fill="#e68e98"/>
<rect x="227" y="73" width="18.1" height="1.6" fill="#ecb2b9"/>
<rect x="227" y="74.5" width="18.1" height="1.6" fill="#ebacb3"/>
<rect x="227" y="76" width="18.1" height="1.6" fill="#4181bd"/>
<rect x="227" y="77.5" width="18.1" height="1.1" fill="#4080bc"/>
<rect x="227" y="78.5" width="18.1" height="1.1" fill="#3e7ebc"/>
<rect x="227" y="79.5" width="18.1" height="1.1" fill="#4a86bf"/>
<rect x="227" y="80.5" width="18.1" height="1.6" fill="#4583be"/>
<rect x="227" y="82" width="18.1" height="1.1" fill="#9fbbd9"/>
<rect x="227" y="83" width="18.1" height="1.1" fill="#abc2dd"/>
<rect x="227" y="84" width="18.1" height="1.1" fill="#abc2dd"/>
<rect x="227" y="85" width="18.1" height="1.1" fill="#7ea7cf"/>
<rect x="227" y="86" width="18.1" height="2" fill="#e06774"/>
<rect x="227" y="88" width="18.1" height="1.1" fill="#e06a77"/>
<rect x="227" y="89" width="18.1" height="1.6" fill="#eaa2ab"/>
<rect x="227" y="90.5" width="18.1" height="1.6" fill="#e7949e"/>
<rect x="227" y="92" width="18.1" height="1.1" fill="#f1d0d5"/>
<rect x="227" y="93" width="18.1" height="1.1" fill="#e897a0"/>
<rect x="227" y="94" width="18.1" height="1.6" fill="#edb6bd"/>
<rect x="227" y="95.5" width="18.1" height="1.1" fill="#eebbc1"/>
<rect x="227" y="96.5" width="18.1" height="1.6" fill="#eaa2aa"/>
<rect x="227" y="98" width="18.1" height="1.1" fill="#f2d8dc"/>
<rect x="227" y="99" width="18.1" height="1.1" fill="#f1ced3"/>
<rect x="227" y="100" width="18.1" height="1.6" fill="#e68d97"/>
<rect x="227" y="101.5" width="18.1" height="1.1" fill="#e896a0"/>
<rect x="227" y="102.5" width="18.1" height="1.6" fill="#eaa3ab"/>
<rect x="227" y="104" width="18.1" height="1.1" fill="#e16c78"/>
<rect x="227" y="105" width="18.1" height="1.1" fill="#e58892"/>
<rect x="227" y="106" width="18.1" height="1.6" fill="#edbac1"/>
<rect x="227" y="107.5" width="18.1" height="1.6" fill="#efc3c8"/>
<rect x="227" y="109" width="18.1" height="1.1" fill="#e68d97"/>
<rect x="227" y="110" width="18.1" height="2" fill="#efc4ca"/>
<rect x="227" y="112" width="18.1" height="1.1" fill="#dc4f5e"/>
<rect x="227" y="113" width="18.1" height="1.1" fill="#de5967"/>
<rect x="227" y="114" width="18.1" height="1.1" fill="#dd5866"/>
<rect x="227" y="115" width="18.1" height="2" fill="#dd5564"/>
<rect x="227" y="117" width="18.1" height="2" fill="#da4252"/>
<rect x="227" y="119" width="18.1" height="1.1" fill="#e06875"/>
<rect x="227" y="120" width="18.1" height="1.1" fill="#f2d5da"/>
<rect x="227" y="121" width="18.1" height="1.6" fill="#f0cdd2"/>
<rect x="227" y="122.5" width="18.1" height="1.1" fill="#eba9b1"/>
<rect x="227" y="123.5" width="18.1" height="1.6" fill="#edbac0"/>
<rect x="227" y="125" width="18.1" height="2" fill="#ecb3ba"/>
<rect x="227" y="127" width="18.1" height="1.1" fill="#eaa3ab"/>
<rect x="227" y="128" width="18.1" height="2" fill="#eaa6ae"/>
<rect x="227" y="130" width="18.1" height="2" fill="#f5e9eb"/>
<rect x="227" y="132" width="18.1" height="1.1" fill="#e37b87"/>
<rect x="227" y="133" width="18.1" height="1.6" fill="#e37883"/>
<rect x="227" y="134.5" width="18.1" height="1.1" fill="#e68f99"/>
<rect x="227" y="135.5" width="18.1" height="1.1" fill="#e2717d"/>
<rect x="227" y="136.5" width="18.1" height="2" fill="#e7929b"/>
<rect x="227" y="138.5" width="18.1" height="1.6" fill="#e06572"/>
<rect x="227" y="140" width="18.1" height="1.1" fill="#e68e98"/>
<rect x="227" y="141" width="18.1" height="1.6" fill="#e68c96"/>
<rect x="227" y="142.5" width="18.1" height="0.6" fill="#dd5866"/>
<rect x="245" y="22" width="18.1" height="1.1" fill="#f4e0e3"/>
<rect x="245" y="23" width="18.1" height="1.1" fill="#f5e8eb"/>
<rect x="245" y="24" width="18.1" height="1.1" fill="#ecaeb6"/>
<rect x="245" y="25" width="18.1" height="1.1" fill="#f5e7ea"/>
<rect x="245" y="26" width="18.1" height="2" fill="#a1bdda"/>
<rect x="245" y="28" width="18.1" height="1.1" fill="#d3dbe9"/>
<rect x="245" y="29" width="18.1" height="1.1" fill="#d1dae8"/>
<rect x="245" y="30" width="18.1" height="1.1" fill="#edbac0"/>
<rect x="245" y="31" width="18.1" height="1.1" fill="#f1cfd4"/>
<rect x="245" y="32" width="18.1" height="1.1" fill="#f3dee2"/>
<rect x="245" y="33" width="18.1" height="1.1" fill="#f4e0e3"/>
<rect x="245" y="34" width="18.1" height="1.1" fill="#ecebf0"/>
<rect x="245" y="35" width="18.1" height="1.1" fill="#e0e3ed"/>
<rect x="245" y="36" width="18.1" height="1.1" fill="#efc7cc"/>
<rect x="245" y="37" width="18.1" height="1.6" fill="#7fa7cf"/>
<rect x="245" y="38.5" width="18.1" height="1.6" fill="#a2bdda"/>
<rect x="245" y="40" width="18.1" height="1.6" fill="#abc2dd"/>
<rect x="245" y="41.5" width="18.1" height="1.6" fill="#a5bfdb"/>
<rect x="245" y="43" width="18.1" height="2" fill="#95b5d6"/>
<rect x="245" y="45" width="18.1" height="1.6" fill="#9ab8d7"/>
<rect x="245" y="46.5" width="18.1" height="1.6" fill="#84aad1"/>
<rect x="245" y="48" width="18.1" height="1.1" fill="#a8c1dc"/>
<rect x="245" y="49" width="18.1" height="2" fill="#9bb9d8"/>
<rect x="245" y="51" width="18.1" height="2" fill="#b4c8e0"/>
<rect x="245" y="53" width="18.1" height="2" fill="#bbcce1"/>
<rect x="245" y="55" width="18.1" height="2" fill="#96b5d6"/>
<rect x="245" y="57" width="18.1" height="1.1" fill="#80a8d0"/>
<rect x="245" y="58" width="18.1" height="2" fill="#93b4d5"/>
<rect x="245" y="60" width="18.1" height="2" fill="#f6f1f3"/>
<rect x="245" y="62" width="18.1" height="1.1" fill="#c5d3e5"/>
<rect x="245" y="63" width="18.1" height="1.1" fill="#c9d5e6"/>
<rect x="245" y="64" width="18.1" height="1.1" fill="#f2d5d9"/>
<rect x="245" y="65" width="18.1" height="1.1" fill="#7aa4ce"/>
<rect x="245" y="66" width="18.1" height="2" fill="#abc2dd"/>
<rect x="245" y="68" width="18.1" height="1.1" fill="#78a3cd"/>
<rect x="245" y="69" width="18.1" height="1.1" fill="#c9d5e6"/>
<rect x="245" y="70" width="18.1" height="1.1" fill="#f1eef2"/>
<rect x="245" y="71" width="18.1" height="2" fill="#f5eaec"/>
<rect x="245" y="73" width="18.1" height="1.1" fill="#efc5cb"/>
<rect x="245" y="74" width="18.1" height="1.1" fill="#e2e5ed"/>
<rect x="245" y="75" width="18.1" height="1.1" fill="#f0cbd0"/>
<rect x="245" y="76" width="18.1" height="1.6" fill="#6094c6"/>
<rect x="245" y="77.5" width="18.1" height="1.6" fill="#9ab8d8"/>
<rect x="245" y="79" width="18.1" height="2" fill="#5e93c6"/>
<rect x="245" y="81" width="18.1" height="2" fill="#6396c7"/>
<rect x="245" y="83" width="18.1" height="1.1" fill="#83a9d1"/>
<rect x="245" y="84" width="18.1" height="1.1" fill="#e0e4ed"/>
<rect x="245" y="85" width="18.1" height="1.1" fill="#d4dce9"/>
<rect x="245" y="86" width="18.1" height="2" fill="#d0dae8"/>
<rect x="245" y="88" width="18.1" height="1.6" fill="#e27581"/>
<rect x="245" y="89.5" width="18.1" height="2" fill="#e899a2"/>
<rect x="245" y="91.5" width="18.1" height="1.6" fill="#e99da6"/>
<rect x="245" y="93" width="18.1" height="1.1" fill="#e37884"/>
<rect x="245" y="94" width="18.1" height="1.6" fill="#df626f"/>
<rect x="245" y="95.5" width="18.1" height="0.6" fill="#e47e89"/>
<rect x="245" y="96" width="18.1" height="1.1" fill="#eaa7af"/>
<rect x="245" y="97" width="18.1" height="2" fill="#e5848f"/>
<rect x="245" y="99" width="18.1" height="1.6" fill="#eaa6ae"/>
<rect x="245" y="100.5" width="18.1" height="1.6" fill="#e68f99"/>
<rect x="245" y="102" width="18.1" height="1.6" fill="#e9a1aa"/>
<rect x="245" y="103.5" width="18.1" height="1.1" fill="#e899a2"/>
<rect x="245" y="104.5" width="18.1" height="1.1" fill="#e68d97"/>
<rect x="245" y="105.5" width="18.1" height="0.6" fill="#eaa4ac"/>
<rect x="245" y="106" width="18.1" height="1.6" fill="#c5d3e4"/>
<rect x="245" y="107.5" width="18.1" height="1.6" fill="#f0eef2"/>
<rect x="245" y="109" width="18.1" height="1.1" fill="#bdcee2"/>
<rect x="245" y="110" width="18.1" height="1.6" fill="#de5b69"/>
<rect x="245" y="111.5" width="18.1" height="2" fill="#e06875"/>
<rect x="245" y="113.5" width="18.1" height="1.6" fill="#db4858"/>
<rect x="245" y="115" width="18.1" height="1.1" fill="#df6370"/>
<rect x="245" y="116" width="18.1" height="1.1" fill="#e4838e"/>
<rect x="245" y="117" width="18.1" height="1.1" fill="#d72f40"/>
<rect x="245" y="118" width="18.1" height="1.1" fill="#dc4c5b"/>
<rect x="245" y="119" width="18.1" height="1.6" fill="#e9a0a8"/>
<rect x="245" y="120.5" width="18.1" height="2" fill="#e99ca5"/>
<rect x="245" y="122.5" width="18.1" height="1.1" fill="#edb9bf"/>
<rect x="245" y="123.5" width="18.1" height="2" fill="#eebcc3"/>
<rect x="245" y="125.5" width="18.1" height="1.1" fill="#e4838d"/>
<rect x="245" y="126.5" width="18.1" height="1.1" fill="#e7939c"/>
<rect x="245" y="127.5" width="18.1" height="2" fill="#efc1c7"/>
<rect x="245" y="129.5" width="18.1" height="0.6" fill="#e58792"/>
<rect x="245" y="130" width="18.1" height="1.6" fill="#e37c87"/>
<rect x="245" y="131.5" width="18.1" height="1.6" fill="#dd5564"/>
<rect x="245" y="133" width="18.1" height="1.1" fill="#e16b78"/>
<rect x="245" y="134" width="18.1" height="1.6" fill="#e16e7b"/>
<rect x="245" y="135.5" width="18.1" height="2" fill="#e16e7a"/>
<rect x="245" y="137.5" width="18.1" height="2" fill="#e58691"/>
<rect x="245" y="139.5" width="18.1" height="1.1" fill="#e7959e"/>
<rect x="245" y="140.5" width="18.1" height="1.1" fill="#e37b87"/>
<rect x="245" y="141.5" width="18.1" height="1.1" fill="#e68d97"/>
<rect x="245" y="142.5" width="18.1" height="0.6" fill="#e897a0"/>
<line x1="163.4" y1="13" x2="191" y2="13" stroke="#8a8a8a" stroke-width="0.5"/>
<line x1="163.4" y1="13" x2="163.4" y2="20" stroke="#8a8a8a" stroke-width="0.5"/>
<line x1="191" y1="13" x2="191" y2="14.4" stroke="#8a8a8a" stroke-width="0.5"/>
<line x1="182" y1="14.4" x2="200.6" y2="14.4" stroke="#8a8a8a" stroke-width="0.5"/>
<line x1="182" y1="14.4" x2="182" y2="20" stroke="#8a8a8a" stroke-width="0.5"/>
<line x1="200.6" y1="14.4" x2="200.6" y2="20" stroke="#8a8a8a" stroke-width="0.5"/>
<line x1="177.2" y1="11" x2="177.2" y2="13" stroke="#8a8a8a" stroke-width="0.5"/>
<line x1="218" y1="11.6" x2="245" y2="11.6" stroke="#8a8a8a" stroke-width="0.5"/>
<line x1="218" y1="11.6" x2="218" y2="20" stroke="#8a8a8a" stroke-width="0.5"/>
<line x1="245" y1="11.6" x2="245" y2="15" stroke="#8a8a8a" stroke-width="0.5"/>
<line x1="236" y1="15" x2="253.2" y2="15" stroke="#8a8a8a" stroke-width="0.5"/>
<line x1="236" y1="15" x2="236" y2="20" stroke="#8a8a8a" stroke-width="0.5"/>
<line x1="253.2" y1="15" x2="253.2" y2="20" stroke="#8a8a8a" stroke-width="0.5"/>
<line x1="231" y1="10.6" x2="231" y2="11.6" stroke="#8a8a8a" stroke-width="0.5"/>
<path d="M148.4 22.2H153M151.2 22.6H153M148.6 23.1H153M148.7 23.7H153M149.3 24.4H153M151 25H153M151.7 25.6H153M151.7 26.2H153M146.7 26.9H153M148.5 27.5H153M146.2 28.1H153M145.7 28.7H153M147 29.2H153M151 29.7H153M150.4 30.2H153M151.8 30.8H153M145.8 31.4H153M145.4 32H153M147.2 32.6H153M147.7 33.1H153M149.2 33.8H153M145.2 34.4H153M147.7 35H153M151.5 35.4H153M151.9 36.1H153M145.7 36.6H153M150.8 37.3H153M146.9 37.7H153M150.9 38.3H153M149.9 38.8H153M149.6 39.3H153M145.6 39.9H153M146.2 40.6H153M149 41.2H153M147.3 41.9H153M149.2 42.3H153M150.6 43H153M146.6 43.5H153M147.8 44.1H153M148.3 44.5H153M151.2 45H153M151.4 45.4H153M145.5 46.1H153M145.2 46.6H153M151.9 47.3H153M151.2 47.7H153M147.8 48.4H153M151.6 49H153M151.6 49.5H153M146.8 50.1H153M146.4 50.6H153M145.8 51.2H153M145.9 51.7H153M145.4 52.3H153M150.5 52.8H153M151.4 53.2H153M145.4 53.7H153M151.5 54.3H153M147.8 55H153M151.4 55.5H153M146.6 56H153M150.8 56.6H153M149.9 57.2H153M151.9 57.7H153M145.5 58.3H153M147.2 58.7H153M145.7 59.3H153M148.7 59.9H153M147.9 60.5H153M146.6 60.9H153M149.2 61.4H153M149.8 61.8H153M151.8 62.5H153M150.7 63.1H153M148.2 63.6H153M151 64.1H153M148.6 64.6H153M146.8 65.1H153M152 65.6H153M151.5 66.1H153M146.5 66.8H153M145.3 67.2H153M149.8 67.9H153M150.4 68.5H153M150.2 69H153M145.5 69.5H153M148.7 69.9H153M145.5 70.4H153M148.8 70.8H153M148.3 71.5H153M147.8 71.9H153M151.5 72.5H153M145.8 73H153M151.5 73.7H153M151.9 74.3H153M150.1 74.8H153M145.8 75.3H153M151 76H153M150.6 76.6H153M151.3 77.2H153M146.9 77.8H153M147.7 78.5H153M148.1 79H153M151.1 79.7H153M147.6 80.2H153M150 80.9H153M149.2 81.4H153M148.2 82H153M149.9 82.4H153M145.9 83.1H153M148.7 83.5H153M150.1 84.1H153M146.3 84.7H153M151.1 85.4H153M145.2 85.8H153M150 86.5H153M149.8 87.1H153M149.9 87.6H153M150.4 88H153M145 88.7H153M145.3 89.1H153M150.8 89.6H153M145.1 90H153M147 90.6H153M150.3 91.1H153M147.7 91.6H153M150.3 92H153M149 92.6H153M149.5 93H153M147.3 93.6H153M145.1 94.2H153M149 94.8H153M150.4 95.2H153M149.4 95.9H153M150.5 96.5H153M147.3 97.1H153M146.9 97.7H153M146.2 98.3H153M147.1 98.9H153M147.3 99.6H153M147.4 100H153M151.3 100.7H153M150 101.2H153M147.3 101.9H153M150.5 102.4H153M147.2 103H153M151.1 103.6H153M148.9 104.2H153M147.9 104.6H153M148.6 105.2H153M145.5 105.8H153M145.8 106.3H153M146.7 106.8H153M146.3 107.4H153M151.8 107.8H153M150.7 108.5H153M146.7 109.1H153M148.6 109.6H153M146.2 110H153M148.4 110.6H153M148.9 111.2H153M147.7 111.7H153M148.6 112.2H153M147 112.8H153M150.7 113.3H153M150.9 114H153M146.8 114.6H153M147.1 115.1H153M149.8 115.7H153M150.5 116.2H153M149.4 116.7H153M151.6 117.2H153M147.8 117.7H153M149.8 118.4H153M151.4 118.9H153M147 119.5H153M145.2 120.1H153M149 120.7H153M151.3 121.1H153M146.5 121.6H153M150.9 122.2H153M148.3 122.9H153M146.4 123.3H153M149.8 123.8H153M146.3 124.4H153M149 125H153M146.8 125.5H153M151.3 126.2H153M149.8 126.7H153M150.4 127.2H153M147.4 127.7H153M147.4 128.3H153M152 128.8H153M146.5 129.5H153M150.5 130H153M150 130.6H153M149.2 131.1H153M151.5 131.8H153M151.1 132.3H153M146.1 132.9H153M151.5 133.3H153M145.7 134H153M148.5 134.4H153M147.8 135H153M147.6 135.4H153M145.4 135.9H153M150.2 136.5H153M151.4 137.2H153M146.1 137.6H153M146.7 138.1H153M146.6 138.6H153M145.7 139.1H153M151 139.7H153M147.9 140.4H153M147.5 140.8H153M146.6 141.5H153M150.8 142H153M150.7 142.7H153" stroke="#111" stroke-width="0.45" fill="none"/>
<path d="M150.7 74.2V77.8M149.4 53.5V55M146.5 80.7V81.7M148.8 39.2V41.6M149 86.2V89.8M145.5 122.1V124.3M149.4 101.2V104.7M148.1 71.8V75.7M146 97.8V100.6M145.7 94.6V97.5M152 61.3V65.3M149.1 79.7V83.3M145.7 107.5V110.3M147.9 124.5V126.5M148.8 84.5V87.8M147 73.8V75.9M149.4 120.4V122.1M151.3 70V72.5M147.4 82.3V86.2M150.1 116.2V118.1M147.7 57.6V60.3M149.9 115.3V116.2M150.6 127.4V129.9M145.8 57.7V58.6M146.8 131.7V134.4M150.1 115.9V119.6M149.8 95.4V98.2M150.4 93V95.9M147 101.4V103.6M150.8 34.1V35.4M145.8 114.2V117.9M150.1 65.9V69.3M151 88.9V90.5M147.6 72.2V74M148.5 98.4V102.2M145.9 89.5V90.5M146.3 118.4V121.1M151.9 75.1V76M148.2 92.4V96.2M152.4 78.6V80.7M146.2 98.7V100.2M146.6 23.8V24.7M150.3 36.5V40.4M146.1 125.5V126.7M145.6 107.6V109.2M150.6 44.3V45.3M150.9 106.9V110.5M150.6 32V34.8M150.5 76.8V80.6M147.3 136.8V139.8M145.6 23.8V26.6M151.2 31.5V33.3M150.6 41.8V45.3M148.9 29.1V31.1M149.5 74.2V77.2M146.5 116.9V118.8M150 96.9V99.1M148.2 115.6V119.4M151 89.5V91.2M145.9 137.9V141M151.3 61.5V64.3M152.3 120.9V123.6M147.7 73V76.6M148.1 103.5V106.2M151.8 118.1V119.8M145.5 53.3V55.5M149.6 119.1V122.7M145.8 121.2V124.6M151.6 90.1V91.7M151.5 118V121M151.9 63.3V64.3M149.4 116.9V118.3M150.8 132.9V134.4M149.7 102.6V104.9M146.9 52.3V55.5M151 76.7V77.8M151.1 113.9V115.4M149.6 128.7V132.4M149.2 78.7V81.4M146.8 44.9V46.3M150.4 65.2V67.8M148.3 83.5V84.8M145.8 140.7V142.7M146.2 97.3V100.6M146.6 93.1V95M149.1 24.4V25.4M152.4 125.1V127.4M149.5 53.1V56.4M148.5 134.6V137.9M151.2 136.7V138.3M145.8 45.9V47.3M146.1 28.1V30.7M151.6 76.5V80.4M151.9 29.6V32.4M148.3 36.3V40.1M147.3 89.2V92M152.2 101.7V103.8M148.6 41V44.9M152.4 48.4V49.3M147.3 63.9V67.6M151.8 121.6V122.6M151 106.4V109.3M152.4 28.6V29.9M150.8 133.8V136.8M147.6 92.4V95.6M146.2 60.5V62.2M146.4 79.3V80.6M147.2 39V42M145.6 107.3V108.8M145.8 132.4V133.9M152 125.1V128.8M146.5 75.2V76.3M152 122.2V125M148.7 62.4V65.9M148.8 96.8V98M147.1 28.8V31.8M149.4 39.2V42.8M147.4 71V72.3M147.4 121.9V123.8M146.7 80.4V82.2M151.8 35.6V39.5M145.9 128.5V131.4M147 78.8V80.5M147.3 46V48M152.4 140.8V144.5M146.2 56.4V60.1M145.9 108.5V110.2M152.4 23.9V27.3M147.9 38.7V39.5M151.3 84.7V86.1M148.5 130.5V132M149.5 38.4V39.8M150.9 106.7V108.1M146.1 32.4V35.2M149 54.6V56.1M149.8 106.2V109.6M149.6 46.1V47.1M150.6 70.6V73.7M145.9 118.5V120.3M151.4 124.9V127.3M145.6 130.3V132.6M151.6 53.7V55.1M151.3 65.7V67M148.1 92.8V93.6M149.1 75V77.5M146.3 107V110.4M151.6 60.2V63.3M148.2 111.4V112.4M151.6 135.5V137.9M149.1 85.1V87.7M145.6 137.1V138.6M146.8 34.2V35.8M151.2 25.6V26.7M150.4 45.2V46.1M149.7 90.6V93.1M150.4 34.2V37.8M150.5 27.4V28.6M149 81.6V83.3M146.4 70.3V71.5M149.6 124.5V125.7M149.5 110.8V112.2M151.3 133.6V135.6M148.4 121.9V124.4M148.3 134V137.3M147.9 50.6V52.5M148.5 138.8V142.1M151.9 119V122.5M145.9 83.6V87.4M152 51.7V53.8M149.9 65.4V67.9M146 73.5V75.9M145.6 38.6V42.5M150.9 133.5V136.3M151.2 127.2V130.9M145.7 98.3V100M150.2 54.5V57.1M152 95.9V97.5M149.1 73.6V77.5M147.5 58.3V61.2M146.3 92.7V96.6M149.1 53.9V56.2M149.2 39.7V40.9M146.4 56.9V59M147.5 51V52M149.3 121.9V124.7M149.5 99.4V100.8M150.5 76.8V79.4M149.8 77.8V79.6M147.2 48.4V50.8M148.2 91.7V92.5M148 124.6V126.1M149.4 80.5V82.2M152.4 57.2V60.4M146.6 29.9V33.5M148.6 29.4V31.4M148.6 109.5V110.7M147.1 136.2V139.3M146.6 62.1V64M150.2 95.3V98.9M151.2 83.6V86.8" stroke="#222" stroke-width="0.45" fill="none"/>
<rect x="152" y="22.2" width="2.9" height="120.8" fill="#000"/>
<defs><linearGradient id="hmg" x1="0" y1="0" x2="0" y2="1"><stop offset="0" stop-color="#C8102E"/><stop offset="0.5" stop-color="#F7F4F6"/><stop offset="1" stop-color="#1061B0"/></linearGradient></defs>
<rect x="264.1" y="22.7" width="1.7" height="28" fill="url(#hmg)"/>
<text x="263.8" y="21.6" font-size="1.6" fill="#000">Groups</text>
<text x="269" y="24" font-size="1.6" fill="#000">Groups</text>
<rect x="269" y="24.7" width="2.4" height="1.8" fill="#12C8DA"/>
<rect x="269" y="28" width="2.4" height="1.8" fill="#F7877E"/>
<text x="272" y="26.2" font-size="1.3" fill="#444">AKG</text>
<text x="272" y="29.5" font-size="1.3" fill="#444">Model</text>
<text x="266.6" y="29.5" font-size="1.5" fill="#555">1</text>
<text x="266.6" y="37.5" font-size="1.5" fill="#555">0</text>
<text x="266.6" y="44.5" font-size="1.5" fill="#555">-1</text>
<text x="266.6" y="50.5" font-size="1.5" fill="#555">-2</text>
<rect x="301.8" y="14.9" width="117.4" height="94.3" fill="#fff" stroke="#d5d5d5" stroke-width="0.5"/>
<defs><linearGradient id="vg1c" gradientUnits="userSpaceOnUse" x1="0" y1="105" x2="0" y2="18.9"><stop offset="0" stop-color="#ec2416"/><stop offset="0.1" stop-color="#f04e3c"/><stop offset="0.2" stop-color="#f47963"/><stop offset="0.3" stop-color="#f8a48a"/><stop offset="0.4" stop-color="#f8cdbb"/><stop offset="0.5" stop-color="#f5f4f6"/><stop offset="0.6" stop-color="#aad2e8"/><stop offset="0.7" stop-color="#74b2db"/><stop offset="0.8" stop-color="#3e92ce"/><stop offset="0.9" stop-color="#2983c4"/><stop offset="1" stop-color="#1474ba"/></linearGradient></defs>
<polygon points="342.6,105 339.8,102.8 338.1,100.6 336.6,98.4 335.3,96.2 334.8,94 334.8,91.8 334.8,89.6 334.8,87.4 334.8,85.2 334.8,83 334.8,80.8 334.8,78.6 334.8,76.4 334.4,74.2 333.3,72 332.2,69.8 331.1,67.6 330,65.4 328.9,63.2 327.8,61 335.2,58 350,58 357.4,61 356.3,63.2 355.2,65.4 354.1,67.6 353,69.8 351.9,72 350.8,74.2 350.4,76.4 350.4,78.6 350.4,80.8 350.4,83 350.4,85.2 350.4,87.4 350.4,89.6 350.4,91.8 350.4,94 349.9,96.2 348.6,98.4 347.1,100.6 345.4,102.8 342.6,105" fill="url(#vg1c)"/>
<path d="M353.8 67.2h1.2v1.2h-1.2zM369.5 67.2h1.2v1.2h-1.2zM308.1 71.4h1.3v1.3h-1.3zM326.2 71.5h1.3v1.3h-1.3z" fill="#f6e5df"/>
<path d="M318.6 71.9h1.2v1.2h-1.2zM319.3 71.7h1.2v1.2h-1.2zM329.8 76h1.3v1.3h-1.3z" fill="#f8d0c0"/>
<path d="M321.3 81.1h1.2v1.2h-1.2zM349.5 81h1.2v1.2h-1.2zM365.7 81h1.2v1.2h-1.2zM332.7 81.1h1.2v1.2h-1.2zM360.5 81h1.2v1.2h-1.2z" fill="#f8a58b"/>
<path d="M349.4 73.8h1.2v1.2h-1.2zM322.6 73.8h1.2v1.2h-1.2zM324.3 73.9h1.2v1.2h-1.2zM349.2 73.8h1.2v1.2h-1.2z" fill="#f8c7b2"/>
<path d="M323.1 81.7h1.2v1.2h-1.2z" fill="#f7a188"/>
<path d="M317.5 61.7h1.2v1.2h-1.2zM359.9 66.2h1.2v1.2h-1.2zM318.8 64.1h1.2v1.2h-1.2zM367.8 63.8h1.2v1.2h-1.2zM319.1 64.5h1.2v1.2h-1.2zM379.9 64.1h1.2v1.2h-1.2zM324.5 65.1h1.2v1.2h-1.2zM359.2 62.6h1.2v1.2h-1.2zM323.3 65.8h1.2v1.2h-1.2zM360.4 64.6h1.2v1.2h-1.2zM355 65.8h1.2v1.2h-1.2zM358.5 64.6h1.2v1.2h-1.2zM329.3 65.9h1.2v1.2h-1.2zM377.1 63.2h1.2v1.2h-1.2zM323.1 63.7h1.2v1.2h-1.2zM324.2 62.1h1.2v1.2h-1.2zM315 64.8h1.2v1.2h-1.2zM304.7 62.1h1.2v1.2h-1.2zM388.3 63.5h1.2v1.2h-1.2zM319 65.9h1.2v1.2h-1.2zM329.7 63.7h1.2v1.2h-1.2zM302.2 64.7h1.2v1.2h-1.2zM364 61.7h1.2v1.2h-1.2zM312 61.7h1.2v1.2h-1.2zM325.1 63h1.2v1.2h-1.2zM314 61.6h1.2v1.2h-1.2zM324.8 65.9h1.2v1.2h-1.2zM323.1 65h1.2v1.2h-1.2zM324.4 66h1.2v1.2h-1.2zM362.5 63.2h1.2v1.2h-1.2zM352.2 66.5h1.2v1.2h-1.2zM366.7 61.6h1.2v1.2h-1.2zM370.7 61.6h1.2v1.2h-1.2zM307.5 65h1.2v1.2h-1.2zM313.4 61.7h1.2v1.2h-1.2zM371.8 64.2h1.2v1.2h-1.2zM361.6 66.3h1.2v1.2h-1.2zM312.8 65.7h1.2v1.2h-1.2zM327.5 66.1h1.2v1.2h-1.2zM354.2 63.8h1.2v1.2h-1.2zM329.3 61.8h1.2v1.2h-1.2zM356.6 65.5h1.2v1.2h-1.2zM324.9 63.1h1.2v1.2h-1.2zM369.8 62.4h1.2v1.2h-1.2zM328.5 64.2h1.2v1.2h-1.2zM360.4 64.7h1.2v1.2h-1.2zM361.7 64.7h1.2v1.2h-1.2zM319.2 62.3h1.2v1.2h-1.2zM359 66.1h1.2v1.2h-1.2zM355.2 64.7h1.2v1.2h-1.2zM360.2 61.7h1.2v1.2h-1.2zM360.8 65.3h1.2v1.2h-1.2zM367.1 64.4h1.2v1.2h-1.2zM362 65.3h1.2v1.2h-1.2zM378.2 61.7h1.2v1.2h-1.2zM327.8 65.1h1.2v1.2h-1.2zM313.1 63.1h1.2v1.2h-1.2zM313.8 65.5h1.2v1.2h-1.2zM372.9 64.2h1.2v1.2h-1.2zM328.2 65.3h1.2v1.2h-1.2zM315.8 62h1.2v1.2h-1.2zM372.3 65.1h1.2v1.2h-1.2zM325.7 65.1h1.2v1.2h-1.2zM364.1 64.1h1.2v1.2h-1.2zM328.8 62.4h1.2v1.2h-1.2zM329.1 62.6h1.2v1.2h-1.2zM328.9 62.6h1.2v1.2h-1.2zM310.7 65.4h1.2v1.2h-1.2zM312.1 61.5h1.2v1.2h-1.2zM361.2 64.3h1.2v1.2h-1.2zM330.2 65.2h1.2v1.2h-1.2zM358.2 65.9h1.2v1.2h-1.2zM357 65.7h1.2v1.2h-1.2zM363.3 62.7h1.2v1.2h-1.2zM367.1 65.9h1.2v1.2h-1.2zM326.9 66.4h1.2v1.2h-1.2zM328.4 66.1h1.2v1.2h-1.2zM317.4 61.5h1.2v1.2h-1.2zM327.6 62.9h1.2v1.2h-1.2zM353.5 66.4h1.2v1.2h-1.2zM326.3 66h1.2v1.2h-1.2zM354.5 63.7h1.2v1.2h-1.2zM368.6 62.2h1.2v1.2h-1.2zM323.6 62.9h1.2v1.2h-1.2zM326.1 63.3h1.2v1.2h-1.2zM319.5 66.3h1.2v1.2h-1.2zM324.2 63.3h1.2v1.2h-1.2zM365.2 62.4h1.2v1.2h-1.2zM353.5 63.2h1.2v1.2h-1.2zM321.7 63.4h1.2v1.2h-1.2zM331.7 66.1h1.2v1.2h-1.2zM367.5 65.2h1.2v1.2h-1.2zM367.4 62.3h1.2v1.2h-1.2zM322.7 64h1.2v1.2h-1.2zM390.5 61.8h1.2v1.2h-1.2zM316.3 64.8h1.2v1.2h-1.2zM322.2 61.5h1.2v1.2h-1.2zM325.1 63.3h1.2v1.2h-1.2zM369.5 63.9h1.2v1.2h-1.2zM330.2 63.2h1.2v1.2h-1.2zM359.7 61.7h1.2v1.2h-1.2zM362.4 65.1h1.2v1.2h-1.2zM324.1 64.7h1.2v1.2h-1.2zM355.7 65.1h1.2v1.2h-1.2zM313.1 64.6h1.2v1.2h-1.2zM357.4 63.1h1.2v1.2h-1.2zM376.7 63.7h1.2v1.2h-1.2zM381.4 61.6h1.2v1.2h-1.2zM356.9 65.7h1.2v1.2h-1.2zM359.2 62.6h1.2v1.2h-1.2zM316 63.4h1.2v1.2h-1.2zM330.8 64.7h1.2v1.2h-1.2zM309.4 62.8h1.2v1.2h-1.2zM374.8 65.3h1.2v1.2h-1.2zM308.5 62.8h1.2v1.2h-1.2zM366.8 65.1h1.2v1.2h-1.2zM365.1 63.2h1.2v1.2h-1.2zM320.9 62.1h1.2v1.2h-1.2zM358.7 65.9h1.2v1.2h-1.2zM357 65.5h1.2v1.2h-1.2zM321.1 61.8h1.2v1.2h-1.2zM322.5 66.2h1.2v1.2h-1.2zM354.2 61.9h1.2v1.2h-1.2zM362.5 66.1h1.2v1.2h-1.2zM312.2 64.8h1.2v1.2h-1.2zM322.8 63.2h1.2v1.2h-1.2zM308.4 62.3h1.2v1.2h-1.2zM377.2 66.1h1.2v1.2h-1.2zM376.1 62.4h1.2v1.2h-1.2zM328.1 64.2h1.2v1.2h-1.2zM366.2 66.4h1.2v1.2h-1.2zM367.8 63.6h1.2v1.2h-1.2zM328.6 61.8h1.2v1.2h-1.2zM314.8 66.5h1.3v1.3h-1.3zM365.5 66.3h1.3v1.3h-1.3zM376.4 65.9h1.3v1.3h-1.3zM309 67.4h1.3v1.3h-1.3zM321.8 70.5h1.3v1.3h-1.3zM366.3 69.6h1.3v1.3h-1.3zM361 69.9h1.3v1.3h-1.3zM373.8 70.2h1.3v1.3h-1.3zM361.6 65h1.3v1.3h-1.3zM308.9 69.7h1.3v1.3h-1.3zM323.4 65.9h1.3v1.3h-1.3zM369.1 69.3h1.3v1.3h-1.3zM392.7 67.4h1.3v1.3h-1.3zM312.6 70.6h1.3v1.3h-1.3zM373.5 69h1.3v1.3h-1.3zM376.9 63.3h1.3v1.3h-1.3zM374.2 69.4h1.3v1.3h-1.3zM310.9 68.4h1.3v1.3h-1.3zM369.3 63.8h1.3v1.3h-1.3zM308.6 63.7h1.3v1.3h-1.3zM374.3 66.4h1.3v1.3h-1.3zM363.7 64h1.3v1.3h-1.3zM316.7 67.4h1.3v1.3h-1.3zM323.5 63h1.3v1.3h-1.3zM309.3 61.8h1.3v1.3h-1.3zM390.5 69.1h1.3v1.3h-1.3zM317.9 70.1h1.3v1.3h-1.3zM324.3 61.3h1.3v1.3h-1.3zM373.4 70h1.3v1.3h-1.3zM325 65.5h1.3v1.3h-1.3zM367.1 66.6h1.3v1.3h-1.3zM305.8 69.9h1.3v1.3h-1.3zM376.9 67.6h1.3v1.3h-1.3zM374.5 67.2h1.3v1.3h-1.3zM361.6 62.3h1.3v1.3h-1.3zM378.8 64.6h1.3v1.3h-1.3zM313.1 63.3h1.3v1.3h-1.3zM323.2 68.4h1.3v1.3h-1.3zM317.3 68h1.3v1.3h-1.3zM310.2 63.3h1.3v1.3h-1.3zM321.6 64.4h1.3v1.3h-1.3zM370.9 67.2h1.3v1.3h-1.3zM359.1 70.7h1.3v1.3h-1.3zM391.6 66.8h1.3v1.3h-1.3zM316.7 65.1h1.3v1.3h-1.3zM366.7 65.3h1.3v1.3h-1.3zM369.6 69.9h1.3v1.3h-1.3zM360.6 70.1h1.3v1.3h-1.3zM367.7 62.1h1.3v1.3h-1.3zM369.4 63.2h1.3v1.3h-1.3zM302.3 62.3h1.3v1.3h-1.3zM382.2 67.4h1.3v1.3h-1.3zM319.8 66.3h1.3v1.3h-1.3zM365.5 64.5h1.3v1.3h-1.3zM391.6 64h1.3v1.3h-1.3z" fill="#f6e8e4"/>
<path d="M350.9 82.5h1.2v1.2h-1.2zM351.3 82.4h1.2v1.2h-1.2zM349.1 82.4h1.2v1.2h-1.2zM360.1 82.4h1.2v1.2h-1.2z" fill="#f79e84"/>
<path d="M354.4 83.6h1.2v1.2h-1.2zM335 83.6h1.2v1.2h-1.2zM333.8 83.6h1.2v1.2h-1.2zM321.6 83.7h1.2v1.2h-1.2zM350.9 83.6h1.2v1.2h-1.2zM349.2 83.5h1.2v1.2h-1.2zM363.5 83.5h1.2v1.2h-1.2zM332.8 83.5h1.2v1.2h-1.2zM348.6 83.6h1.2v1.2h-1.2zM358.6 83.5h1.2v1.2h-1.2zM328 87.8h1.3v1.3h-1.3z" fill="#f6987f"/>
<path d="M349.2 82h1.2v1.2h-1.2zM360.6 82h1.2v1.2h-1.2zM330.1 86.3h1.3v1.3h-1.3z" fill="#f7a086"/>
<path d="M352.9 67.1h1.2v1.2h-1.2zM355.6 67.1h1.2v1.2h-1.2z" fill="#f6e5e0"/>
<path d="M352.3 92.3h1.2v1.2h-1.2zM359.2 92.2h1.2v1.2h-1.2zM356.2 92.2h1.2v1.2h-1.2zM352.5 92.2h1.2v1.2h-1.2z" fill="#f26d58"/>
<path d="M331.1 74h1.2v1.2h-1.2zM329.7 74h1.2v1.2h-1.2zM324.8 74h1.2v1.2h-1.2zM307.2 78.2h1.3v1.3h-1.3zM358.6 78.3h1.3v1.3h-1.3z" fill="#f8c6b1"/>
<path d="M315.6 57.7h1.2v1.2h-1.2zM317 57.7h1.2v1.2h-1.2zM319.4 57.8h1.2v1.2h-1.2zM360 57.8h1.2v1.2h-1.2zM369.6 57.8h1.2v1.2h-1.2zM376.3 57.8h1.2v1.2h-1.2zM346.4 57.7h1.2v1.2h-1.2zM346.1 57.7h1.2v1.2h-1.2zM345.8 57.7h1.2v1.2h-1.2zM337.9 57.7h1.2v1.2h-1.2z" fill="#d5e5f0"/>
<path d="M322.8 58.3h1.2v1.2h-1.2z" fill="#dae7f0"/>
<path d="M349.1 96.4h1.2v1.2h-1.2zM348.5 96.4h1.2v1.2h-1.2zM350.6 96.5h1.2v1.2h-1.2zM335.3 96.4h1.2v1.2h-1.2z" fill="#f05845"/>
<path d="M356.8 85.3h1.2v1.2h-1.2z" fill="#f69077"/>
<path d="M355.6 76.7h1.2v1.2h-1.2zM332.1 76.6h1.2v1.2h-1.2zM329.4 76.7h1.2v1.2h-1.2zM331.6 80.9h1.3v1.3h-1.3z" fill="#f9ba9f"/>
<path d="M355.5 73.4h1.2v1.2h-1.2zM357.8 73.4h1.2v1.2h-1.2zM352.6 73.3h1.2v1.2h-1.2z" fill="#f8c9b5"/>
<path d="M330.6 79.4h1.2v1.2h-1.2zM334.2 79.4h1.2v1.2h-1.2zM330.4 79.3h1.2v1.2h-1.2zM329 79.4h1.2v1.2h-1.2z" fill="#f8ad92"/>
<path d="M353.1 94.2h1.2v1.2h-1.2z" fill="#f1634f"/>
<path d="M317.6 77.4h1.2v1.2h-1.2zM331.6 77.3h1.2v1.2h-1.2zM333.8 77.4h1.2v1.2h-1.2zM330.4 77.4h1.2v1.2h-1.2zM317.9 81.6h1.3v1.3h-1.3z" fill="#f9b79b"/>
<path d="M365 78h1.2v1.2h-1.2zM321.4 78h1.2v1.2h-1.2zM320.5 82.3h1.3v1.3h-1.3z" fill="#f9b498"/>
<path d="M354.8 94.5h1.2v1.2h-1.2zM331 94.4h1.2v1.2h-1.2zM354.4 94.5h1.2v1.2h-1.2zM326.4 94.5h1.2v1.2h-1.2z" fill="#f1624e"/>
<path d="M331.5 85h1.2v1.2h-1.2zM359 85h1.2v1.2h-1.2zM329.9 89.3h1.3v1.3h-1.3z" fill="#f69179"/>
<path d="M353.1 93.8h1.2v1.2h-1.2zM354.2 93.8h1.2v1.2h-1.2zM350.6 93.8h1.2v1.2h-1.2zM349.3 93.8h1.2v1.2h-1.2zM354.6 93.9h1.2v1.2h-1.2zM332.7 93.8h1.2v1.2h-1.2zM333.4 93.8h1.2v1.2h-1.2zM351.7 93.8h1.2v1.2h-1.2z" fill="#f26551"/>
<path d="M360.7 69.4h1.2v1.2h-1.2zM325.6 73.7h1.3v1.3h-1.3z" fill="#f7dbd0"/>
<path d="M332.5 77.2h1.2v1.2h-1.2zM326.4 77.2h1.2v1.2h-1.2zM323.7 77.2h1.2v1.2h-1.2zM356 77.1h1.2v1.2h-1.2zM313.3 77.2h1.2v1.2h-1.2zM333.2 77.1h1.2v1.2h-1.2zM357.7 81.4h1.3v1.3h-1.3zM312.8 81.5h1.3v1.3h-1.3z" fill="#f9b89c"/>
<path d="M333.5 74.7h1.2v1.2h-1.2zM359.9 74.7h1.2v1.2h-1.2zM349.1 74.7h1.2v1.2h-1.2zM357 74.8h1.2v1.2h-1.2zM354.3 74.8h1.2v1.2h-1.2zM316.9 78.9h1.3v1.3h-1.3z" fill="#f9c3ac"/>
<path d="M336.8 98.3h1.2v1.2h-1.2zM347.5 98.3h1.2v1.2h-1.2zM336.6 98.3h1.2v1.2h-1.2zM347.8 98.3h1.2v1.2h-1.2z" fill="#f04f3d"/>
<path d="M365.7 59.9h1.2v1.2h-1.2zM325.9 59.9h1.2v1.2h-1.2zM304.7 59.9h1.2v1.2h-1.2zM346.4 59.9h1.2v1.2h-1.2zM349.2 59.9h1.2v1.2h-1.2zM343.7 59.9h1.2v1.2h-1.2zM346.9 59.9h1.2v1.2h-1.2z" fill="#e8eef3"/>
<path d="M320.6 70.3h1.2v1.2h-1.2zM362 70.3h1.2v1.2h-1.2zM330.9 70.2h1.2v1.2h-1.2zM326.3 70.3h1.2v1.2h-1.2zM332.7 70.3h1.2v1.2h-1.2zM328.5 70.2h1.2v1.2h-1.2zM306.8 74.6h1.3v1.3h-1.3z" fill="#f7d7ca"/>
<path d="M356.1 91h1.2v1.2h-1.2zM328.3 91.1h1.2v1.2h-1.2z" fill="#f3735d"/>
<path d="M320.5 76.8h1.2v1.2h-1.2zM366.1 76.8h1.2v1.2h-1.2zM362.6 76.7h1.2v1.2h-1.2zM364.8 81h1.3v1.3h-1.3zM372.9 81.1h1.3v1.3h-1.3zM370.9 81h1.3v1.3h-1.3zM374.8 81.1h1.3v1.3h-1.3z" fill="#f9ba9e"/>
<path d="M353.4 74.3h1.2v1.2h-1.2zM335 74.3h1.2v1.2h-1.2zM332.9 74.3h1.2v1.2h-1.2zM305.8 74.3h1.2v1.2h-1.2zM362.9 74.3h1.2v1.2h-1.2zM328.7 78.6h1.3v1.3h-1.3z" fill="#f9c5af"/>
<path d="M334.8 97.2h1.2v1.2h-1.2zM335.4 97.2h1.2v1.2h-1.2zM350.5 97.2h1.2v1.2h-1.2z" fill="#f05442"/>
<path d="M322.3 74.1h1.2v1.2h-1.2zM362.7 74.1h1.2v1.2h-1.2zM352.5 74.1h1.2v1.2h-1.2zM361.1 74.2h1.2v1.2h-1.2z" fill="#f8c6b0"/>
<path d="M351.7 68.4h1.2v1.2h-1.2z" fill="#f6e0d7"/>
<path d="M331.5 72h1.2v1.2h-1.2zM375.2 72h1.2v1.2h-1.2zM315.9 76.2h1.3v1.3h-1.3zM314.7 76.2h1.3v1.3h-1.3zM331.7 76.2h1.3v1.3h-1.3z" fill="#f8cfbf"/>
<path d="M349.7 83.7h1.2v1.2h-1.2zM332 83.8h1.2v1.2h-1.2zM323.7 83.8h1.2v1.2h-1.2zM328 88.1h1.3v1.3h-1.3z" fill="#f6977e"/>
<path d="M349.4 89.2h1.2v1.2h-1.2zM353.8 89.2h1.2v1.2h-1.2zM334.5 89.1h1.2v1.2h-1.2zM350.8 89.2h1.2v1.2h-1.2zM353 89.2h1.2v1.2h-1.2zM358.2 89.1h1.2v1.2h-1.2z" fill="#f47c66"/>
<path d="M321.5 73.9h1.2v1.2h-1.2zM357 73.9h1.2v1.2h-1.2z" fill="#f8c7b1"/>
<path d="M332.2 87.9h1.2v1.2h-1.2zM332.3 88.1h1.2v1.2h-1.2zM356.5 88h1.2v1.2h-1.2zM353.3 88h1.2v1.2h-1.2z" fill="#f4826b"/>
<path d="M331.2 91.7h1.2v1.2h-1.2zM356.2 91.7h1.2v1.2h-1.2z" fill="#f3705a"/>
<path d="M358.1 80.8h1.2v1.2h-1.2zM331 80.8h1.2v1.2h-1.2zM355.9 80.8h1.2v1.2h-1.2zM358.8 80.7h1.2v1.2h-1.2zM330 80.7h1.2v1.2h-1.2zM329.9 85h1.3v1.3h-1.3z" fill="#f8a68c"/>
<path d="M324.1 58.5h1.2v1.2h-1.2zM312.3 58.5h1.2v1.2h-1.2z" fill="#dce8f1"/>
<path d="M323.3 70h1.2v1.2h-1.2zM354.4 70h1.2v1.2h-1.2zM321.9 70h1.2v1.2h-1.2zM360.7 74.2h1.3v1.3h-1.3z" fill="#f7d8cc"/>
<path d="M326.5 68.5h1.2v1.2h-1.2zM361.2 68.5h1.2v1.2h-1.2zM360.9 68.6h1.2v1.2h-1.2zM371.9 68.5h1.2v1.2h-1.2zM331.8 68.6h1.2v1.2h-1.2zM305.9 72.8h1.3v1.3h-1.3z" fill="#f6dfd6"/>
<path d="M332.9 82.5h1.2v1.2h-1.2zM325.9 82.5h1.2v1.2h-1.2z" fill="#f79d84"/>
<path d="M367.7 57.6h1.2v1.2h-1.2zM305.8 57.6h1.2v1.2h-1.2zM325.1 57.6h1.2v1.2h-1.2zM351 57.6h1.2v1.2h-1.2z" fill="#d4e5ef"/>
<path d="M352.8 84.3h1.2v1.2h-1.2zM328 84.3h1.2v1.2h-1.2zM332.5 84.4h1.2v1.2h-1.2zM355.6 84.3h1.2v1.2h-1.2zM363 88.6h1.3v1.3h-1.3z" fill="#f6947c"/>
<path d="M325.5 60.1h1.2v1.2h-1.2zM322.5 60.1h1.2v1.2h-1.2zM373.5 60h1.2v1.2h-1.2zM394.5 59.9h1.3v1.3h-1.3zM333.3 60.1h1.2v1.2h-1.2zM335.2 60h1.2v1.2h-1.2zM348.6 60h1.2v1.2h-1.2zM352.2 60h1.2v1.2h-1.2z" fill="#e9eef3"/>
<path d="M349.9 82.1h1.2v1.2h-1.2zM359.2 82.1h1.2v1.2h-1.2zM365 86.4h1.3v1.3h-1.3z" fill="#f79f86"/>
<path d="M334.1 96.9h1.2v1.2h-1.2zM335.7 96.9h1.2v1.2h-1.2zM352.1 96.8h1.2v1.2h-1.2zM332.4 96.8h1.2v1.2h-1.2zM334.6 96.9h1.2v1.2h-1.2z" fill="#f05643"/>
<path d="M335.2 84.1h1.2v1.2h-1.2zM324.8 84.1h1.2v1.2h-1.2zM323.1 84h1.2v1.2h-1.2zM354.9 84h1.2v1.2h-1.2zM325.4 88.3h1.3v1.3h-1.3zM353.5 88.3h1.3v1.3h-1.3zM319.8 88.2h1.3v1.3h-1.3z" fill="#f6967d"/>
<path d="M332.5 90.2h1.2v1.2h-1.2zM364.4 90.3h1.2v1.2h-1.2zM329.6 90.1h1.2v1.2h-1.2zM334.4 90.2h1.2v1.2h-1.2zM351.8 90.3h1.2v1.2h-1.2zM349.4 90.2h1.2v1.2h-1.2z" fill="#f37761"/>
<path d="M358.1 75.1h1.2v1.2h-1.2zM354.8 75.1h1.2v1.2h-1.2z" fill="#f9c1a9"/>
<path d="M358.8 89.3h1.2v1.2h-1.2zM352.6 89.4h1.2v1.2h-1.2zM350 89.4h1.2v1.2h-1.2zM349.6 89.4h1.2v1.2h-1.2zM350.3 89.4h1.2v1.2h-1.2z" fill="#f47b65"/>
<path d="M358.3 89.7h1.2v1.2h-1.2zM334.5 89.6h1.2v1.2h-1.2zM351.4 89.7h1.2v1.2h-1.2zM327.9 89.6h1.2v1.2h-1.2zM331.3 89.5h1.2v1.2h-1.2zM318.9 89.5h1.2v1.2h-1.2zM352.8 94h1.3v1.3h-1.3zM356.2 93.9h1.3v1.3h-1.3zM357.8 93.9h1.3v1.3h-1.3z" fill="#f47a64"/>
<path d="M373.2 58.8h1.2v1.2h-1.2zM321.8 58.9h1.2v1.2h-1.2zM377.7 58.8h1.2v1.2h-1.2zM328 58.9h1.2v1.2h-1.2zM349.4 58.8h1.2v1.2h-1.2zM349 58.9h1.2v1.2h-1.2z" fill="#dfeaf1"/>
<path d="M334.5 93.1h1.2v1.2h-1.2zM328.4 93.2h1.2v1.2h-1.2zM335 93.2h1.2v1.2h-1.2z" fill="#f26854"/>
<path d="M331.8 94.8h1.2v1.2h-1.2z" fill="#f1604d"/>
<path d="M354.4 94.7h1.2v1.2h-1.2zM332.7 94.6h1.2v1.2h-1.2zM350.8 94.7h1.2v1.2h-1.2zM334.5 94.6h1.2v1.2h-1.2zM350.8 94.6h1.2v1.2h-1.2zM333.5 94.7h1.2v1.2h-1.2zM359.2 94.7h1.2v1.2h-1.2z" fill="#f1614d"/>
<path d="M349.5 93.1h1.2v1.2h-1.2z" fill="#f26954"/>
<path d="M314.5 60.2h1.2v1.2h-1.2zM307.6 60.2h1.2v1.2h-1.2zM327.3 60.2h1.2v1.2h-1.2zM380.1 60.3h1.2v1.2h-1.2zM328 60.3h1.2v1.2h-1.2zM326.1 60.2h1.2v1.2h-1.2zM375 60.2h1.3v1.3h-1.3zM324.3 60.2h1.3v1.3h-1.3zM387.4 60.2h1.3v1.3h-1.3zM335.8 60.3h1.2v1.2h-1.2zM349.7 60.2h1.2v1.2h-1.2zM346.1 60.2h1.2v1.2h-1.2z" fill="#ebeff4"/>
<path d="M306.1 59.1h1.2v1.2h-1.2zM319.1 59.1h1.2v1.2h-1.2z" fill="#e1eaf2"/>
<path d="M353.5 70.5h1.2v1.2h-1.2zM322.5 70.5h1.2v1.2h-1.2zM378.2 74.8h1.3v1.3h-1.3z" fill="#f7d6c9"/>
<path d="M317.2 60.7h1.2v1.2h-1.2zM311.5 60.7h1.2v1.2h-1.2zM356.2 60.7h1.2v1.2h-1.2zM339.7 60.7h1.2v1.2h-1.2zM346.3 60.7h1.2v1.2h-1.2z" fill="#eff1f4"/>
<path d="M318.9 68.5h1.2v1.2h-1.2zM359.1 68.4h1.2v1.2h-1.2z" fill="#f6dfd7"/>
<path d="M355.2 80.3h1.2v1.2h-1.2zM352.9 80.3h1.2v1.2h-1.2zM329.3 80.3h1.2v1.2h-1.2z" fill="#f8a88e"/>
<path d="M328.9 91.8h1.2v1.2h-1.2zM348.8 91.8h1.2v1.2h-1.2zM329.7 91.7h1.2v1.2h-1.2zM333.4 91.8h1.2v1.2h-1.2zM335.2 91.8h1.2v1.2h-1.2zM357.8 91.7h1.2v1.2h-1.2z" fill="#f36f5a"/>
<path d="M362.4 74.5h1.2v1.2h-1.2zM350.6 74.5h1.2v1.2h-1.2zM334.6 74.4h1.2v1.2h-1.2zM354.6 74.5h1.2v1.2h-1.2z" fill="#f9c4ae"/>
<path d="M328.3 74.2h1.2v1.2h-1.2zM316.6 74.3h1.2v1.2h-1.2z" fill="#f8c5af"/>
<path d="M355.6 93.7h1.2v1.2h-1.2zM329.9 93.7h1.2v1.2h-1.2z" fill="#f26651"/>
<path d="M314.7 57.5h1.2v1.2h-1.2zM326.1 57.5h1.2v1.2h-1.2zM372.3 57.5h1.2v1.2h-1.2zM350.1 57.5h1.2v1.2h-1.2zM352.6 57.4h1.2v1.2h-1.2z" fill="#d3e4ef"/>
<path d="M313.9 66.9h1.2v1.2h-1.2zM328 67h1.2v1.2h-1.2zM320 67h1.2v1.2h-1.2zM323.6 66.9h1.2v1.2h-1.2zM314.3 67h1.2v1.2h-1.2zM328.8 66.9h1.2v1.2h-1.2zM367.7 67h1.2v1.2h-1.2zM319.8 71.2h1.3v1.3h-1.3zM306.3 71.1h1.3v1.3h-1.3z" fill="#f6e6e1"/>
<path d="M314.5 56.5h1.2v1.2h-1.2zM321.5 56.5h1.2v1.2h-1.2zM326.5 56.5h1.2v1.2h-1.2zM345.6 56.4h1.2v1.2h-1.2zM348.5 56.5h1.2v1.2h-1.2z" fill="#cae0ee"/>
<path d="M326.1 86.6h1.2v1.2h-1.2zM334.7 86.6h1.2v1.2h-1.2zM323 86.5h1.2v1.2h-1.2zM351.6 86.6h1.2v1.2h-1.2zM330.1 90.8h1.3v1.3h-1.3z" fill="#f58972"/>
<path d="M365.8 79.8h1.2v1.2h-1.2zM352.1 79.8h1.2v1.2h-1.2zM329 79.8h1.2v1.2h-1.2z" fill="#f8ab90"/>
<path d="M368.8 69.4h1.2v1.2h-1.2zM354 69.3h1.2v1.2h-1.2zM313 69.3h1.2v1.2h-1.2z" fill="#f7dbd1"/>
<path d="M334.9 89.7h1.2v1.2h-1.2zM353.4 89.7h1.2v1.2h-1.2zM334.6 89.8h1.2v1.2h-1.2z" fill="#f47963"/>
<path d="M321.4 77.8h1.2v1.2h-1.2zM369.3 77.8h1.2v1.2h-1.2zM352.5 82h1.3v1.3h-1.3z" fill="#f9b599"/>
<path d="M332.6 75.6h1.2v1.2h-1.2zM331.7 75.6h1.2v1.2h-1.2zM369.5 75.6h1.2v1.2h-1.2zM354.8 75.6h1.2v1.2h-1.2zM353.5 79.9h1.3v1.3h-1.3z" fill="#f9bfa6"/>
<path d="M318.3 57.9h1.2v1.2h-1.2zM303.3 57.9h1.2v1.2h-1.2zM365.2 57.9h1.2v1.2h-1.2zM349.8 58h1.2v1.2h-1.2zM347.4 57.9h1.2v1.2h-1.2z" fill="#d7e6f0"/>
<path d="M353 89.9h1.2v1.2h-1.2zM353.8 90h1.2v1.2h-1.2zM329.1 89.9h1.2v1.2h-1.2zM335.3 90h1.2v1.2h-1.2zM334.6 90.1h1.2v1.2h-1.2zM353.4 90h1.2v1.2h-1.2zM350.2 89.9h1.2v1.2h-1.2zM330.7 90h1.2v1.2h-1.2zM351.6 90.1h1.2v1.2h-1.2zM355.2 89.9h1.2v1.2h-1.2zM333.9 90.1h1.2v1.2h-1.2zM326.1 94.2h1.3v1.3h-1.3zM353.8 94.3h1.3v1.3h-1.3z" fill="#f37862"/>
<path d="M350.2 92.6h1.2v1.2h-1.2zM351.2 92.6h1.2v1.2h-1.2zM349.5 92.6h1.2v1.2h-1.2zM350.5 92.6h1.2v1.2h-1.2zM332.6 92.6h1.2v1.2h-1.2zM334.7 92.6h1.2v1.2h-1.2zM332.5 92.6h1.2v1.2h-1.2z" fill="#f26b56"/>
<path d="M352.5 88.2h1.2v1.2h-1.2zM351.4 88.2h1.2v1.2h-1.2zM331.3 88.2h1.2v1.2h-1.2zM360.3 88.3h1.2v1.2h-1.2zM355.9 88.3h1.2v1.2h-1.2z" fill="#f4816a"/>
<path d="M349.4 92.8h1.2v1.2h-1.2zM334.2 92.9h1.2v1.2h-1.2zM329.1 92.8h1.2v1.2h-1.2z" fill="#f26a55"/>
<path d="M326.7 68.7h1.2v1.2h-1.2zM355.5 68.7h1.2v1.2h-1.2zM363.6 68.7h1.2v1.2h-1.2zM323.4 68.8h1.2v1.2h-1.2zM310.4 72.9h1.3v1.3h-1.3z" fill="#f6ded5"/>
<path d="M323.7 84.4h1.2v1.2h-1.2zM350.6 84.4h1.2v1.2h-1.2zM335.3 84.5h1.2v1.2h-1.2zM354.9 84.4h1.2v1.2h-1.2z" fill="#f6947b"/>
<path d="M332.8 91.3h1.2v1.2h-1.2zM349.3 91.3h1.2v1.2h-1.2zM330.7 91.3h1.2v1.2h-1.2z" fill="#f3725c"/>
<path d="M355 73.3h1.2v1.2h-1.2zM328.9 73.2h1.2v1.2h-1.2zM314 77.5h1.3v1.3h-1.3z" fill="#f8cab6"/>
<path d="M347.3 97.9h1.2v1.2h-1.2zM333.8 97.8h1.2v1.2h-1.2zM336.4 97.9h1.2v1.2h-1.2zM330.6 97.9h1.2v1.2h-1.2z" fill="#f0513f"/>
<path d="M333.2 86.6h1.2v1.2h-1.2zM350.8 86.6h1.2v1.2h-1.2z" fill="#f58971"/>
<path d="M349.7 84.8h1.2v1.2h-1.2zM352.4 84.7h1.2v1.2h-1.2zM330.3 84.7h1.2v1.2h-1.2zM329.8 84.8h1.2v1.2h-1.2zM328 84.8h1.2v1.2h-1.2zM354.4 84.8h1.2v1.2h-1.2zM325.8 84.7h1.2v1.2h-1.2z" fill="#f6927a"/>
<path d="M348 97.9h1.2v1.2h-1.2zM333.7 98.1h1.2v1.2h-1.2zM349.3 98.1h1.2v1.2h-1.2zM347.2 97.9h1.2v1.2h-1.2zM336.8 97.9h1.2v1.2h-1.2z" fill="#f0503e"/>
<path d="M353.5 94.9h1.2v1.2h-1.2zM334.9 94.9h1.2v1.2h-1.2z" fill="#f1604c"/>
<path d="M362.7 58.2h1.2v1.2h-1.2zM362.7 58.2h1.2v1.2h-1.2zM324.9 58.2h1.2v1.2h-1.2zM320.9 58.2h1.2v1.2h-1.2zM328.4 58.2h1.2v1.2h-1.2zM310.3 58.2h1.2v1.2h-1.2zM371.2 58.2h1.2v1.2h-1.2zM368.6 58.2h1.2v1.2h-1.2zM333.5 58.2h1.2v1.2h-1.2zM349.2 58.2h1.2v1.2h-1.2zM348 58.2h1.2v1.2h-1.2zM337.4 58.2h1.2v1.2h-1.2z" fill="#d9e7f0"/>
<path d="M352.6 71.3h1.2v1.2h-1.2zM357.1 71.3h1.2v1.2h-1.2zM332.3 71.3h1.2v1.2h-1.2zM326 71.4h1.2v1.2h-1.2zM359.2 71.4h1.2v1.2h-1.2zM359.7 71.3h1.2v1.2h-1.2zM359.7 75.6h1.3v1.3h-1.3z" fill="#f7d2c3"/>
<path d="M327.2 71.6h1.2v1.2h-1.2zM323.9 71.7h1.2v1.2h-1.2zM353.8 71.7h1.2v1.2h-1.2z" fill="#f7d1c1"/>
<path d="M348.8 94.1h1.2v1.2h-1.2zM352.6 94.1h1.2v1.2h-1.2z" fill="#f16450"/>
<path d="M353.2 90.6h1.2v1.2h-1.2zM330.8 90.6h1.2v1.2h-1.2zM332 90.7h1.2v1.2h-1.2z" fill="#f3755f"/>
<path d="M327 88.3h1.2v1.2h-1.2zM352 88.4h1.2v1.2h-1.2zM360.2 88.3h1.2v1.2h-1.2zM333.1 88.4h1.2v1.2h-1.2zM349.2 88.3h1.2v1.2h-1.2zM327.1 92.6h1.3v1.3h-1.3z" fill="#f4806a"/>
<path d="M371.8 59.7h1.2v1.2h-1.2zM315.9 59.6h1.2v1.2h-1.2zM346.9 59.7h1.2v1.2h-1.2z" fill="#e6edf3"/>
<path d="M311.9 60.4h1.2v1.2h-1.2zM367.8 60.4h1.2v1.2h-1.2zM320.3 60.3h1.2v1.2h-1.2zM348.4 60.4h1.2v1.2h-1.2zM356.1 60.4h1.2v1.2h-1.2zM352 60.4h1.2v1.2h-1.2zM334.3 60.3h1.2v1.2h-1.2zM345.2 60.4h1.2v1.2h-1.2zM356.9 60.4h1.2v1.2h-1.2zM355.9 60.4h1.2v1.2h-1.2z" fill="#ecf0f4"/>
<path d="M329.9 73.1h1.2v1.2h-1.2zM359.9 73.1h1.2v1.2h-1.2zM322.2 73.1h1.2v1.2h-1.2zM310.4 77.4h1.3v1.3h-1.3z" fill="#f8cab7"/>
<path d="M349 96.1h1.2v1.2h-1.2zM332.4 96h1.2v1.2h-1.2z" fill="#f15a47"/>
<path d="M309.5 61h1.2v1.2h-1.2zM361.6 61h1.2v1.2h-1.2zM305.1 60.9h1.3v1.3h-1.3zM338.9 60.9h1.2v1.2h-1.2zM331.8 61h1.2v1.2h-1.2z" fill="#f1f2f5"/>
<path d="M358.1 78.7h1.2v1.2h-1.2zM356.6 78.7h1.2v1.2h-1.2zM330.2 78.7h1.2v1.2h-1.2z" fill="#f9b095"/>
<path d="M334.3 75.9h1.2v1.2h-1.2zM331.8 75.9h1.2v1.2h-1.2z" fill="#f9bea4"/>
<path d="M353.8 71.2h1.2v1.2h-1.2zM381 71.2h1.2v1.2h-1.2zM332.8 71.2h1.2v1.2h-1.2zM361 71.2h1.2v1.2h-1.2zM332.2 71.2h1.2v1.2h-1.2zM317.9 71.2h1.2v1.2h-1.2zM373.7 71.3h1.2v1.2h-1.2zM317.7 71.2h1.2v1.2h-1.2z" fill="#f7d3c4"/>
<path d="M325 67.3h1.2v1.2h-1.2zM315.3 67.4h1.2v1.2h-1.2z" fill="#f6e4de"/>
<path d="M329.3 83.3h1.2v1.2h-1.2z" fill="#f79980"/>
<path d="M331.9 75.4h1.2v1.2h-1.2zM359 75.3h1.2v1.2h-1.2zM369.2 75.3h1.2v1.2h-1.2z" fill="#f9c0a8"/>
<path d="M312.5 71.1h1.2v1.2h-1.2zM368.4 71.1h1.2v1.2h-1.2z" fill="#f7d3c5"/>
<path d="M350.4 76.1h1.2v1.2h-1.2zM358.9 76.1h1.2v1.2h-1.2zM322.8 80.2h1.3v1.3h-1.3z" fill="#f9bda3"/>
<path d="M329.2 79.2h1.2v1.2h-1.2zM314.2 79.1h1.2v1.2h-1.2zM350.3 79.1h1.2v1.2h-1.2zM369.6 83.3h1.3v1.3h-1.3zM327.4 83.3h1.3v1.3h-1.3z" fill="#f8ae93"/>
<path d="M321.1 67.5h1.2v1.2h-1.2zM360.9 67.6h1.2v1.2h-1.2zM325.8 67.6h1.2v1.2h-1.2zM332.3 67.6h1.2v1.2h-1.2z" fill="#f6e3dd"/>
<path d="M352.4 90.4h1.2v1.2h-1.2z" fill="#f37661"/>
<path d="M327.3 81.4h1.2v1.2h-1.2zM356.1 81.4h1.2v1.2h-1.2zM352.1 81.4h1.2v1.2h-1.2zM350.2 81.3h1.2v1.2h-1.2zM333.7 81.3h1.2v1.2h-1.2zM349.6 81.3h1.2v1.2h-1.2zM321.3 81.4h1.2v1.2h-1.2zM356.3 85.7h1.3v1.3h-1.3zM353.9 85.6h1.3v1.3h-1.3z" fill="#f7a389"/>
<path d="M329.6 82.8h1.2v1.2h-1.2zM351.1 82.7h1.2v1.2h-1.2zM353.9 87h1.3v1.3h-1.3zM356.1 86.9h1.3v1.3h-1.3z" fill="#f79c83"/>
<path d="M324.2 56.9h1.2v1.2h-1.2zM380.1 56.9h1.2v1.2h-1.2zM318.6 56.9h1.2v1.2h-1.2zM322.7 56.9h1.2v1.2h-1.2zM354.4 56.9h1.2v1.2h-1.2zM343.8 57h1.2v1.2h-1.2z" fill="#cee2ee"/>
<path d="M360.3 76.4h1.2v1.2h-1.2zM332.1 80.6h1.3v1.3h-1.3z" fill="#f9bca1"/>
<path d="M328 68.1h1.2v1.2h-1.2zM329.2 68.1h1.2v1.2h-1.2zM353.3 68.1h1.2v1.2h-1.2z" fill="#f6e1d9"/>
<path d="M355 83.5h1.2v1.2h-1.2zM356.9 83.4h1.2v1.2h-1.2z" fill="#f69980"/>
<path d="M331.9 79.9h1.2v1.2h-1.2zM332.9 79.9h1.2v1.2h-1.2z" fill="#f8aa90"/>
<path d="M333.5 77.9h1.2v1.2h-1.2zM353.3 77.9h1.2v1.2h-1.2zM331.7 77.9h1.2v1.2h-1.2z" fill="#f9b499"/>
<path d="M355.6 87.9h1.2v1.2h-1.2zM356.3 87.8h1.2v1.2h-1.2zM335.2 87.8h1.2v1.2h-1.2zM352.1 87.8h1.2v1.2h-1.2zM333.6 87.9h1.2v1.2h-1.2z" fill="#f4836c"/>
<path d="M329.4 88.8h1.2v1.2h-1.2zM333.8 88.7h1.2v1.2h-1.2zM349.1 88.7h1.2v1.2h-1.2zM329.3 88.8h1.2v1.2h-1.2zM356.1 93h1.3v1.3h-1.3z" fill="#f47e68"/>
<path d="M333.9 83.2h1.2v1.2h-1.2zM333.8 83.2h1.2v1.2h-1.2zM349.3 83.2h1.2v1.2h-1.2zM330.1 83.2h1.2v1.2h-1.2zM355.2 83.2h1.2v1.2h-1.2zM330.5 83.1h1.2v1.2h-1.2zM349.5 83.3h1.2v1.2h-1.2zM358.6 83.2h1.2v1.2h-1.2zM329.2 83.3h1.2v1.2h-1.2zM360.2 87.4h1.3v1.3h-1.3z" fill="#f79a81"/>
<path d="M329 72.2h1.2v1.2h-1.2z" fill="#f8cfbd"/>
<path d="M354.1 85.2h1.2v1.2h-1.2zM356.7 85.1h1.2v1.2h-1.2zM332.2 85.2h1.2v1.2h-1.2zM329 85.3h1.2v1.2h-1.2z" fill="#f69078"/>
<path d="M348.5 97.5h1.2v1.2h-1.2zM335.5 97.5h1.2v1.2h-1.2z" fill="#f05340"/>
<path d="M354.1 92.4h1.2v1.2h-1.2zM331.9 92.5h1.2v1.2h-1.2zM353.5 92.4h1.2v1.2h-1.2zM350.2 92.4h1.2v1.2h-1.2zM355.9 92.5h1.2v1.2h-1.2z" fill="#f26c57"/>
<path d="M353.8 86.9h1.2v1.2h-1.2zM333.2 87h1.2v1.2h-1.2zM350.5 87h1.2v1.2h-1.2zM359 87h1.2v1.2h-1.2zM360.9 91.2h1.3v1.3h-1.3zM354 91.2h1.3v1.3h-1.3z" fill="#f58770"/>
<path d="M361.2 69.8h1.2v1.2h-1.2zM329.2 69.7h1.2v1.2h-1.2zM359.8 69.8h1.2v1.2h-1.2zM351.5 69.8h1.2v1.2h-1.2zM361.7 69.8h1.2v1.2h-1.2z" fill="#f7d9ce"/>
<path d="M354.5 83.7h1.2v1.2h-1.2zM354 83.7h1.2v1.2h-1.2z" fill="#f6977f"/>
<path d="M366.2 70.2h1.2v1.2h-1.2zM324.2 70.2h1.2v1.2h-1.2z" fill="#f7d7cb"/>
<path d="M320.4 92.1h1.2v1.2h-1.2zM324.7 92.1h1.2v1.2h-1.2zM351 92.1h1.2v1.2h-1.2zM325.2 92.1h1.2v1.2h-1.2zM350.3 92h1.2v1.2h-1.2z" fill="#f26e59"/>
<path d="M332.2 73.8h1.2v1.2h-1.2z" fill="#f8c7b3"/>
<path d="M361.6 67.9h1.2v1.2h-1.2zM362.3 67.8h1.2v1.2h-1.2zM351.5 67.8h1.2v1.2h-1.2z" fill="#f6e2db"/>
<path d="M334.3 95.3h1.2v1.2h-1.2zM349.5 95.3h1.2v1.2h-1.2zM352.3 95.3h1.2v1.2h-1.2z" fill="#f15e4a"/>
<path d="M349.7 90.9h1.2v1.2h-1.2zM332 90.8h1.2v1.2h-1.2z" fill="#f3745e"/>
<path d="M332.4 87.6h1.2v1.2h-1.2zM349.2 87.5h1.2v1.2h-1.2z" fill="#f5846d"/>
<path d="M329.5 90.1h1.2v1.2h-1.2z" fill="#f37762"/>
<path d="M326.9 68.2h1.2v1.2h-1.2zM356.2 68.3h1.2v1.2h-1.2zM320.5 68.3h1.2v1.2h-1.2zM306.3 68.3h1.2v1.2h-1.2z" fill="#f6e0d8"/>
<path d="M353 97.3h1.2v1.2h-1.2zM332.8 97.2h1.2v1.2h-1.2z" fill="#f05441"/>
<path d="M355 72.1h1.2v1.2h-1.2zM330.8 72.1h1.2v1.2h-1.2z" fill="#f8cfbe"/>
<path d="M372.3 81.6h1.2v1.2h-1.2zM353.3 81.5h1.2v1.2h-1.2zM351.2 81.6h1.2v1.2h-1.2zM351 81.6h1.2v1.2h-1.2zM357.3 81.7h1.2v1.2h-1.2zM353 81.5h1.2v1.2h-1.2zM327.8 85.8h1.3v1.3h-1.3z" fill="#f7a288"/>
<path d="M328.9 73.7h1.2v1.2h-1.2zM349 73.6h1.2v1.2h-1.2zM317.5 73.7h1.2v1.2h-1.2zM334.1 73.7h1.2v1.2h-1.2zM306.7 77.9h1.3v1.3h-1.3z" fill="#f8c8b3"/>
<path d="M352.2 70.8h1.2v1.2h-1.2zM354 70.7h1.2v1.2h-1.2zM323.7 70.7h1.2v1.2h-1.2z" fill="#f7d5c7"/>
<path d="M349.5 78.4h1.2v1.2h-1.2z" fill="#f9b296"/>
<path d="M304 59h1.2v1.2h-1.2zM313.8 59h1.2v1.2h-1.2zM319.7 59h1.2v1.2h-1.2zM370.6 59h1.2v1.2h-1.2zM375.5 58.9h1.2v1.2h-1.2zM372.6 58.9h1.2v1.2h-1.2zM346.6 59h1.2v1.2h-1.2z" fill="#e0eaf2"/>
<path d="M332.8 93.3h1.2v1.2h-1.2z" fill="#f26853"/>
<path d="M358.5 58.9h1.2v1.2h-1.2zM370.4 58.9h1.2v1.2h-1.2z" fill="#dfeaf2"/>
<path d="M367.2 60.6h1.2v1.2h-1.2zM322.2 60.6h1.2v1.2h-1.2zM335 60.6h1.2v1.2h-1.2zM331.9 60.6h1.2v1.2h-1.2zM332.7 60.5h1.2v1.2h-1.2z" fill="#eef0f4"/>
<path d="M326.2 60.5h1.2v1.2h-1.2zM320 60.4h1.2v1.2h-1.2zM328.6 60.5h1.2v1.2h-1.2zM336.7 60.5h1.2v1.2h-1.2zM350.1 60.4h1.2v1.2h-1.2zM345.1 60.5h1.2v1.2h-1.2z" fill="#edf0f4"/>
<path d="M318.5 70.7h1.2v1.2h-1.2zM321 70.6h1.2v1.2h-1.2z" fill="#f7d5c8"/>
<path d="M354.8 95.9h1.2v1.2h-1.2zM335.2 95.7h1.2v1.2h-1.2zM334.9 95.7h1.2v1.2h-1.2z" fill="#f15b48"/>
<path d="M310.2 58.7h1.2v1.2h-1.2zM357 58.8h1.2v1.2h-1.2zM376 58.7h1.2v1.2h-1.2zM375 58.7h1.2v1.2h-1.2zM305.9 58.7h1.3v1.3h-1.3zM388.6 58.7h1.3v1.3h-1.3zM342.5 58.8h1.2v1.2h-1.2zM341.3 58.8h1.2v1.2h-1.2zM350.9 58.8h1.2v1.2h-1.2z" fill="#dee9f1"/>
<path d="M336.3 97.1h1.2v1.2h-1.2zM330.5 97h1.2v1.2h-1.2zM331.6 97.1h1.2v1.2h-1.2zM333.9 97.1h1.2v1.2h-1.2zM336.1 97.1h1.2v1.2h-1.2zM350.2 97.1h1.2v1.2h-1.2z" fill="#f05542"/>
<path d="M329.2 88.7h1.2v1.2h-1.2zM350.3 88.7h1.2v1.2h-1.2zM349.8 88.6h1.2v1.2h-1.2zM351.6 88.6h1.2v1.2h-1.2zM335 88.7h1.2v1.2h-1.2zM355.8 88.7h1.2v1.2h-1.2z" fill="#f47f68"/>
<path d="M317.2 56.6h1.2v1.2h-1.2zM385.5 56.6h1.2v1.2h-1.2zM302.4 56.6h1.2v1.2h-1.2zM388.2 56.6h1.2v1.2h-1.2zM328.9 56.6h1.2v1.2h-1.2zM352.1 56.6h1.2v1.2h-1.2zM332.8 56.6h1.2v1.2h-1.2zM347.7 56.6h1.2v1.2h-1.2zM333.9 56.6h1.2v1.2h-1.2zM341 56.6h1.2v1.2h-1.2zM350.2 56.6h1.2v1.2h-1.2z" fill="#cbe1ee"/>
<path d="M349 91.6h1.2v1.2h-1.2zM348.7 91.7h1.2v1.2h-1.2zM334.7 91.6h1.2v1.2h-1.2zM326.8 91.5h1.2v1.2h-1.2zM330.7 91.7h1.2v1.2h-1.2z" fill="#f3705b"/>
<path d="M318.1 69.6h1.2v1.2h-1.2zM323.3 69.6h1.2v1.2h-1.2zM371 69.6h1.2v1.2h-1.2zM315.7 73.8h1.3v1.3h-1.3z" fill="#f7dacf"/>
<path d="M356.8 92.8h1.2v1.2h-1.2zM355.3 92.7h1.2v1.2h-1.2zM357.1 92.8h1.2v1.2h-1.2zM349.4 92.8h1.2v1.2h-1.2z" fill="#f26a56"/>
<path d="M308.6 69.1h1.2v1.2h-1.2z" fill="#f6dcd3"/>
<path d="M333.5 95.7h1.2v1.2h-1.2zM333 95.7h1.2v1.2h-1.2z" fill="#f15c48"/>
<path d="M353.8 93.3h1.2v1.2h-1.2z" fill="#f26753"/>
<path d="M371.1 56.7h1.2v1.2h-1.2zM342.8 56.7h1.2v1.2h-1.2zM333.4 56.7h1.2v1.2h-1.2zM351.1 56.7h1.2v1.2h-1.2z" fill="#cce1ee"/>
<path d="M352.1 67.7h1.2v1.2h-1.2zM323.9 71.9h1.3v1.3h-1.3zM321.9 71.9h1.3v1.3h-1.3z" fill="#f6e3dc"/>
<path d="M334.3 87.1h1.2v1.2h-1.2zM356.1 87.3h1.2v1.2h-1.2zM329.9 87.1h1.2v1.2h-1.2zM352.6 91.5h1.3v1.3h-1.3z" fill="#f5866f"/>
<path d="M367.2 57.1h1.2v1.2h-1.2zM393.1 57.2h1.2v1.2h-1.2zM315.1 57.2h1.2v1.2h-1.2zM315.8 57.2h1.2v1.2h-1.2zM345 57.2h1.2v1.2h-1.2zM335.2 57.2h1.2v1.2h-1.2zM346.3 57.1h1.2v1.2h-1.2z" fill="#d0e3ef"/>
<path d="M303.5 56.8h1.2v1.2h-1.2zM367.3 56.8h1.2v1.2h-1.2z" fill="#cde1ee"/>
<path d="M350.8 78.6h1.2v1.2h-1.2z" fill="#f9b195"/>
<path d="M350.5 73.5h1.2v1.2h-1.2zM350.7 73.6h1.2v1.2h-1.2zM325.9 73.5h1.2v1.2h-1.2zM365.6 73.6h1.2v1.2h-1.2zM331.7 73.6h1.2v1.2h-1.2zM327.2 73.5h1.2v1.2h-1.2zM321.3 73.6h1.2v1.2h-1.2z" fill="#f8c8b4"/>
<path d="M328.2 83.5h1.2v1.2h-1.2zM326.4 87.7h1.3v1.3h-1.3z" fill="#f69880"/>
<path d="M357.7 72.7h1.2v1.2h-1.2zM307 72.7h1.2v1.2h-1.2zM311.7 77h1.3v1.3h-1.3z" fill="#f8ccba"/>
<path d="M330.1 95.4h1.2v1.2h-1.2zM352.8 95.4h1.2v1.2h-1.2zM332.8 95.5h1.2v1.2h-1.2z" fill="#f15d4a"/>
<path d="M353.5 87.4h1.2v1.2h-1.2zM328.4 87.4h1.2v1.2h-1.2zM326.6 87.4h1.2v1.2h-1.2zM358.2 87.4h1.2v1.2h-1.2zM326 87.5h1.2v1.2h-1.2z" fill="#f5856e"/>
<path d="M352.6 95.6h1.2v1.2h-1.2zM348.7 95.6h1.2v1.2h-1.2zM348.3 95.5h1.2v1.2h-1.2zM334.7 95.7h1.2v1.2h-1.2zM350.5 95.5h1.2v1.2h-1.2zM334.4 95.6h1.2v1.2h-1.2zM335.1 95.6h1.2v1.2h-1.2z" fill="#f15c49"/>
<path d="M327.8 70.1h1.2v1.2h-1.2zM312.6 70.2h1.2v1.2h-1.2z" fill="#f7d8cb"/>
<path d="M322.8 71.5h1.2v1.2h-1.2zM326.9 71.4h1.2v1.2h-1.2zM321.7 71.5h1.2v1.2h-1.2z" fill="#f7d2c2"/>
<path d="M355 84.9h1.2v1.2h-1.2zM325.8 84.9h1.2v1.2h-1.2z" fill="#f69279"/>
<path d="M360.1 68.9h1.2v1.2h-1.2zM363.2 73.1h1.3v1.3h-1.3z" fill="#f6ddd4"/>
<path d="M328.2 79.7h1.2v1.2h-1.2zM349.3 79.5h1.2v1.2h-1.2zM355 79.7h1.2v1.2h-1.2zM357.1 79.5h1.2v1.2h-1.2zM316.3 83.8h1.3v1.3h-1.3zM315.3 83.8h1.3v1.3h-1.3zM327.6 83.9h1.3v1.3h-1.3zM357.9 83.8h1.3v1.3h-1.3z" fill="#f8ac91"/>
<path d="M368 69.8h1.2v1.2h-1.2zM352.5 69.8h1.2v1.2h-1.2zM321 69.9h1.2v1.2h-1.2zM326.8 69.9h1.2v1.2h-1.2zM330.1 69.9h1.2v1.2h-1.2z" fill="#f7d9cd"/>
<path d="M350.7 72.2h1.2v1.2h-1.2zM358 72.2h1.2v1.2h-1.2zM308.6 76.4h1.3v1.3h-1.3z" fill="#f8cebd"/>
<path d="M351.8 93h1.2v1.2h-1.2z" fill="#f26955"/>
<path d="M349.9 96.6h1.2v1.2h-1.2zM347.9 96.6h1.2v1.2h-1.2zM335 96.5h1.2v1.2h-1.2z" fill="#f05745"/>
<path d="M333.9 82.6h1.2v1.2h-1.2zM315.2 86.9h1.3v1.3h-1.3z" fill="#f79d83"/>
<path d="M355.3 81.3h1.2v1.2h-1.2zM351.1 81.2h1.2v1.2h-1.2z" fill="#f7a48a"/>
<path d="M354.2 72.4h1.2v1.2h-1.2zM365.6 72.4h1.2v1.2h-1.2zM355.2 72.4h1.2v1.2h-1.2z" fill="#f8cdbc"/>
<path d="M356.3 66.6h1.2v1.2h-1.2zM360.5 66.7h1.2v1.2h-1.2zM324.9 66.7h1.2v1.2h-1.2zM324.5 66.6h1.2v1.2h-1.2zM352.3 66.7h1.2v1.2h-1.2z" fill="#f6e7e3"/>
<path d="M365.9 81.9h1.2v1.2h-1.2zM351.9 81.9h1.2v1.2h-1.2zM326.6 81.9h1.2v1.2h-1.2zM369.5 86.1h1.3v1.3h-1.3z" fill="#f7a087"/>
<path d="M331.5 66.6h1.2v1.2h-1.2zM327.6 70.8h1.3v1.3h-1.3z" fill="#f6e8e3"/>
<path d="M353.9 80.1h1.2v1.2h-1.2zM353.5 80.1h1.2v1.2h-1.2zM366.9 80.2h1.2v1.2h-1.2zM356.8 80.1h1.2v1.2h-1.2z" fill="#f8a98f"/>
<path d="M329.9 91h1.2v1.2h-1.2zM363.7 91h1.2v1.2h-1.2z" fill="#f3735e"/>
<path d="M331.3 76.9h1.2v1.2h-1.2zM354.3 77h1.2v1.2h-1.2zM355 81.2h1.3v1.3h-1.3z" fill="#f9b99d"/>
<path d="M333.8 95.2h1.2v1.2h-1.2zM357.3 95.2h1.2v1.2h-1.2zM352.9 95.2h1.2v1.2h-1.2z" fill="#f15e4b"/>
<path d="M333.7 94.1h1.2v1.2h-1.2z" fill="#f16350"/>
<path d="M350.8 90.6h1.2v1.2h-1.2zM354.1 90.5h1.2v1.2h-1.2zM331.9 90.5h1.2v1.2h-1.2zM349.9 90.5h1.2v1.2h-1.2z" fill="#f37560"/>
<path d="M349.1 82.3h1.2v1.2h-1.2zM330.3 82.3h1.2v1.2h-1.2zM359.9 86.5h1.3v1.3h-1.3z" fill="#f79e85"/>
<path d="M352.3 75.1h1.2v1.2h-1.2zM327.2 75h1.2v1.2h-1.2zM351.7 75h1.2v1.2h-1.2zM331 79.3h1.3v1.3h-1.3zM369 79.3h1.3v1.3h-1.3z" fill="#f9c2aa"/>
<path d="M357.2 59.2h1.2v1.2h-1.2zM322.5 59.3h1.2v1.2h-1.2zM376.6 59.3h1.2v1.2h-1.2zM335.9 59.3h1.2v1.2h-1.2z" fill="#e2ebf2"/>
<path d="M363.2 59.3h1.2v1.2h-1.2zM344 59.3h1.2v1.2h-1.2z" fill="#e3ebf2"/>
<path d="M334.6 96.3h1.2v1.2h-1.2z" fill="#f05846"/>
<path d="M352.4 77.5h1.2v1.2h-1.2z" fill="#f9b69b"/>
<path d="M370.7 58.5h1.2v1.2h-1.2zM375.4 58.5h1.2v1.2h-1.2zM376.1 58.4h1.2v1.2h-1.2zM355.3 58.4h1.2v1.2h-1.2zM336.2 58.4h1.2v1.2h-1.2zM335.8 58.4h1.2v1.2h-1.2z" fill="#dbe8f1"/>
<path d="M350.3 89h1.2v1.2h-1.2zM329.8 89h1.2v1.2h-1.2zM334.4 89h1.2v1.2h-1.2z" fill="#f47d67"/>
<path d="M326.6 80.6h1.2v1.2h-1.2zM328.9 80.6h1.2v1.2h-1.2zM355.7 80.5h1.2v1.2h-1.2zM356.1 84.8h1.3v1.3h-1.3z" fill="#f8a78d"/>
<path d="M332.1 86.1h1.2v1.2h-1.2zM356.6 86h1.2v1.2h-1.2zM357.6 90.3h1.3v1.3h-1.3zM355.9 90.3h1.3v1.3h-1.3z" fill="#f58c74"/>
<path d="M359.2 85.4h1.2v1.2h-1.2zM356.5 85.4h1.2v1.2h-1.2zM357.9 85.4h1.2v1.2h-1.2zM351.3 85.4h1.2v1.2h-1.2z" fill="#f68f77"/>
<path d="M379.2 57.2h1.2v1.2h-1.2zM340.2 57.3h1.2v1.2h-1.2z" fill="#d1e3ef"/>
<path d="M352.9 96.8h1.2v1.2h-1.2z" fill="#f05644"/>
<path d="M360.1 86.2h1.2v1.2h-1.2zM333.5 86.2h1.2v1.2h-1.2z" fill="#f58b73"/>
<path d="M326.8 61h1.2v1.2h-1.2zM314.2 61h1.2v1.2h-1.2zM304.7 61.1h1.2v1.2h-1.2zM322.9 61h1.2v1.2h-1.2zM352.5 61.1h1.2v1.2h-1.2zM347.9 61.1h1.2v1.2h-1.2zM335.2 61.1h1.2v1.2h-1.2zM347.7 61.1h1.2v1.2h-1.2zM337.9 61.1h1.2v1.2h-1.2zM347.1 61.1h1.2v1.2h-1.2zM350.8 61h1.2v1.2h-1.2zM353.1 61h1.2v1.2h-1.2zM337.5 61h1.2v1.2h-1.2z" fill="#f2f2f5"/>
<path d="M325.2 75.7h1.2v1.2h-1.2z" fill="#f9bfa5"/>
<path d="M348.9 78.2h1.2v1.2h-1.2z" fill="#f9b397"/>
<path d="M324 79h1.2v1.2h-1.2zM332 79h1.2v1.2h-1.2zM353.3 79h1.2v1.2h-1.2z" fill="#f8af94"/>
<path d="M360.2 85.7h1.2v1.2h-1.2zM350 85.7h1.2v1.2h-1.2z" fill="#f58e76"/>
<path d="M353.5 93.5h1.2v1.2h-1.2z" fill="#f26752"/>
<path d="M328.4 74.5h1.2v1.2h-1.2zM368.3 78.8h1.3v1.3h-1.3zM359.3 78.8h1.3v1.3h-1.3z" fill="#f9c4ad"/>
<path d="M332.8 75.1h1.2v1.2h-1.2zM357.4 79.3h1.3v1.3h-1.3z" fill="#f9c1aa"/>
<path d="M330.9 96.7h1.2v1.2h-1.2zM353.3 96.7h1.2v1.2h-1.2z" fill="#f05744"/>
<path d="M356.4 59.6h1.2v1.2h-1.2zM338.9 59.6h1.2v1.2h-1.2z" fill="#e5ecf3"/>
<path d="M348.8 82.2h1.2v1.2h-1.2zM361.5 82.3h1.2v1.2h-1.2zM363.8 86.4h1.3v1.3h-1.3zM362.9 86.5h1.3v1.3h-1.3z" fill="#f79f85"/>
<path d="M318.4 70.9h1.2v1.2h-1.2zM330.5 70.8h1.2v1.2h-1.2zM316.9 71h1.2v1.2h-1.2zM365.7 70.9h1.2v1.2h-1.2zM333.3 71h1.2v1.2h-1.2zM373.8 75.1h1.3v1.3h-1.3z" fill="#f7d4c6"/>
<path d="M369.9 74.8h1.2v1.2h-1.2z" fill="#f9c3ab"/>
<path d="M353.5 81.9h1.2v1.2h-1.2zM356.7 81.8h1.2v1.2h-1.2zM330.2 81.7h1.2v1.2h-1.2zM322.1 81.9h1.2v1.2h-1.2zM359 81.7h1.2v1.2h-1.2zM334.1 81.9h1.2v1.2h-1.2zM331 81.8h1.2v1.2h-1.2zM360.3 86.1h1.3v1.3h-1.3z" fill="#f7a187"/>
<path d="M315.4 69.7h1.2v1.2h-1.2zM331.7 69.7h1.2v1.2h-1.2z" fill="#f7dace"/>
<path d="M325.1 67.5h1.2v1.2h-1.2z" fill="#f6e4dd"/>
<path d="M373.6 57.1h1.2v1.2h-1.2z" fill="#cfe3ef"/>
<path d="M327.2 66.9h1.2v1.2h-1.2zM367.1 66.8h1.2v1.2h-1.2z" fill="#f6e6e2"/>
<path d="M332.5 92.3h1.2v1.2h-1.2z" fill="#f26c58"/>
<path d="M355.6 91.2h1.2v1.2h-1.2zM349.2 91.2h1.2v1.2h-1.2z" fill="#f3725d"/>
<path d="M333 83.3h1.2v1.2h-1.2z" fill="#f79a80"/>
<path d="M328.2 80h1.2v1.2h-1.2zM319.9 80.1h1.2v1.2h-1.2z" fill="#f8aa8f"/>
<path d="M353 93.7h1.2v1.2h-1.2zM350.4 93.7h1.2v1.2h-1.2z" fill="#f26652"/>
<path d="M360.1 74.9h1.2v1.2h-1.2zM333.8 74.9h1.2v1.2h-1.2z" fill="#f9c2ab"/>
<path d="M367.7 66.8h1.2v1.2h-1.2zM362.1 66.7h1.2v1.2h-1.2zM312.3 66.8h1.2v1.2h-1.2zM322.6 66.8h1.2v1.2h-1.2z" fill="#f6e7e2"/>
<path d="M333 95.5h1.2v1.2h-1.2zM348.8 95.5h1.2v1.2h-1.2z" fill="#f15d49"/>
<path d="M308.3 59.3h1.2v1.2h-1.2zM313.7 59.3h1.2v1.2h-1.2zM345.5 59.4h1.2v1.2h-1.2z" fill="#e3ecf2"/>
<path d="M354.6 60.6h1.2v1.2h-1.2zM362.2 60.6h1.2v1.2h-1.2zM366.2 60.6h1.2v1.2h-1.2zM346.1 60.7h1.2v1.2h-1.2zM336.4 60.7h1.2v1.2h-1.2zM337.3 60.6h1.2v1.2h-1.2z" fill="#eef1f4"/>
<path d="M332.8 86.8h1.2v1.2h-1.2z" fill="#f58870"/>
<path d="M362.1 58h1.2v1.2h-1.2zM352.8 58.1h1.2v1.2h-1.2z" fill="#d8e6f0"/>
<path d="M334 97.7h1.2v1.2h-1.2z" fill="#f0523f"/>
<path d="M323.2 68.2h1.2v1.2h-1.2z" fill="#f6e0d9"/>
<path d="M326.8 78.4h1.2v1.2h-1.2zM354.7 78.4h1.2v1.2h-1.2z" fill="#f9b297"/>
<path d="M332 78.9h1.2v1.2h-1.2zM330.9 78.9h1.2v1.2h-1.2z" fill="#f9af94"/>
<path d="M359 84.2h1.2v1.2h-1.2zM327.8 84.2h1.2v1.2h-1.2z" fill="#f6957c"/>
<path d="M350.5 89.8h1.2v1.2h-1.2z" fill="#f37963"/>
<path d="M328.6 71h1.2v1.2h-1.2zM315.7 71.1h1.2v1.2h-1.2z" fill="#f7d4c5"/>
<path d="M365 72.6h1.2v1.2h-1.2zM331.9 72.6h1.2v1.2h-1.2zM353.3 72.5h1.2v1.2h-1.2zM357.6 72.5h1.2v1.2h-1.2z" fill="#f8cdbb"/>
<path d="M350.5 75.5h1.2v1.2h-1.2zM332.6 75.4h1.2v1.2h-1.2z" fill="#f9c0a7"/>
<path d="M370.5 76.6h1.2v1.2h-1.2zM349.9 76.6h1.2v1.2h-1.2z" fill="#f9bb9f"/>
<path d="M329.2 81.1h1.2v1.2h-1.2zM362 85.4h1.3v1.3h-1.3z" fill="#f8a48a"/>
<path d="M354.4 84.1h1.2v1.2h-1.2z" fill="#f6957d"/>
<path d="M313.9 57.8h1.2v1.2h-1.2zM351.5 57.9h1.2v1.2h-1.2zM344.7 57.8h1.2v1.2h-1.2zM327.3 57.9h1.2v1.2h-1.2z" fill="#d6e6f0"/>
<path d="M328 72.6h1.2v1.2h-1.2z" fill="#f8cdba"/>
<path d="M318.6 56.8h1.2v1.2h-1.2zM311 56.8h1.2v1.2h-1.2zM309.9 56.8h1.2v1.2h-1.2zM365.5 56.9h1.2v1.2h-1.2zM340 56.8h1.2v1.2h-1.2z" fill="#cde2ee"/>
<path d="M333.4 93.9h1.2v1.2h-1.2z" fill="#f26550"/>
<path d="M326.3 86.7h1.2v1.2h-1.2zM350.4 86.8h1.2v1.2h-1.2z" fill="#f58871"/>
<path d="M328.6 70.5h1.2v1.2h-1.2zM359.9 70.6h1.2v1.2h-1.2zM375.7 74.8h1.3v1.3h-1.3z" fill="#f7d6c8"/>
<path d="M357.9 60.2h1.2v1.2h-1.2zM347.9 60.2h1.2v1.2h-1.2zM344 60.1h1.2v1.2h-1.2zM348.2 60.2h1.2v1.2h-1.2zM352.1 60.2h1.2v1.2h-1.2z" fill="#eaeff4"/>
<path d="M329.2 89.5h1.2v1.2h-1.2zM357.3 89.5h1.2v1.2h-1.2z" fill="#f47b64"/>
<path d="M326.2 58.7h1.2v1.2h-1.2zM327.4 58.6h1.2v1.2h-1.2zM302.4 58.6h1.3v1.3h-1.3zM360.4 58.6h1.3v1.3h-1.3zM338.8 58.7h1.2v1.2h-1.2zM337.5 58.6h1.2v1.2h-1.2zM350.4 58.7h1.2v1.2h-1.2zM328.7 58.6h1.2v1.2h-1.2zM336.9 58.7h1.2v1.2h-1.2z" fill="#dde9f1"/>
<path d="M318.4 69h1.2v1.2h-1.2zM323.3 69h1.2v1.2h-1.2zM358.6 69h1.2v1.2h-1.2zM356.2 73.3h1.3v1.3h-1.3zM372.8 73.2h1.3v1.3h-1.3zM317.4 73.2h1.3v1.3h-1.3zM361.1 73.3h1.3v1.3h-1.3z" fill="#f6ddd3"/>
<path d="M315 73.3h1.2v1.2h-1.2z" fill="#f8c9b6"/>
<path d="M331.4 86.4h1.2v1.2h-1.2zM352.9 90.7h1.3v1.3h-1.3zM354 90.7h1.3v1.3h-1.3z" fill="#f58a72"/>
<path d="M329.2 97.3h1.2v1.2h-1.2zM351 97.4h1.2v1.2h-1.2z" fill="#f05341"/>
<path d="M349.4 72.9h1.2v1.2h-1.2z" fill="#f8cbb9"/>
<path d="M365.1 72.9h1.2v1.2h-1.2zM323.4 73h1.2v1.2h-1.2z" fill="#f8cbb8"/>
<path d="M352 95h1.2v1.2h-1.2z" fill="#f15f4b"/>
<path d="M322.7 69.9h1.2v1.2h-1.2z" fill="#f7d8cd"/>
<path d="M354.6 79.7h1.2v1.2h-1.2zM323.9 79.7h1.2v1.2h-1.2z" fill="#f8ab91"/>
<path d="M350.1 78.8h1.2v1.2h-1.2z" fill="#f9b094"/>
<path d="M332.4 89.1h1.2v1.2h-1.2z" fill="#f47d66"/>
<path d="M353.9 83.9h1.2v1.2h-1.2zM354.4 88.1h1.3v1.3h-1.3z" fill="#f6967e"/>
<path d="M328 59.1h1.2v1.2h-1.2zM348.7 59.2h1.2v1.2h-1.2zM352.1 59.1h1.2v1.2h-1.2zM328 59.1h1.2v1.2h-1.2zM333.4 59.1h1.2v1.2h-1.2zM330.5 59.1h1.2v1.2h-1.2zM348.6 59.1h1.2v1.2h-1.2z" fill="#e1ebf2"/>
<path d="M351.4 86.1h1.2v1.2h-1.2zM330 90.4h1.3v1.3h-1.3z" fill="#f58b74"/>
<path d="M360.4 78.6h1.2v1.2h-1.2zM329.4 78.5h1.2v1.2h-1.2zM327.3 82.8h1.3v1.3h-1.3zM317.4 82.8h1.3v1.3h-1.3z" fill="#f9b196"/>
<path d="M359.1 71.5h1.2v1.2h-1.2z" fill="#f7d1c2"/>
<path d="M356.5 76.5h1.2v1.2h-1.2zM332.5 76.5h1.2v1.2h-1.2zM324.6 80.8h1.3v1.3h-1.3z" fill="#f9bba0"/>
<path d="M334.1 93.9h1.2v1.2h-1.2z" fill="#f26450"/>
<path d="M355.8 68.8h1.2v1.2h-1.2z" fill="#f6ded4"/>
<path d="M351.5 79.3h1.2v1.2h-1.2z" fill="#f8ad93"/>
<path d="M365.8 57.4h1.2v1.2h-1.2zM356.6 57.4h1.2v1.2h-1.2z" fill="#d2e4ef"/>
<path d="M350.5 88.8h1.2v1.2h-1.2zM350.6 88.9h1.2v1.2h-1.2zM334.3 88.9h1.2v1.2h-1.2zM332.7 88.8h1.2v1.2h-1.2z" fill="#f47e67"/>
<path d="M354.1 83h1.2v1.2h-1.2zM348.9 83h1.2v1.2h-1.2zM321.8 83h1.2v1.2h-1.2zM328.2 87.1h1.3v1.3h-1.3zM326.2 87.2h1.3v1.3h-1.3z" fill="#f79b82"/>
<path d="M331.6 96.2h1.2v1.2h-1.2z" fill="#f15946"/>
<path d="M325.2 60.8h1.2v1.2h-1.2z" fill="#eff1f5"/>
<path d="M332.1 84.7h1.2v1.2h-1.2zM332.1 84.6h1.2v1.2h-1.2z" fill="#f6937a"/>
<path d="M371.6 78.1h1.2v1.2h-1.2z" fill="#f9b398"/>
<path d="M362.6 76.4h1.2v1.2h-1.2z" fill="#f9bba1"/>
<path d="M323.3 73h1.2v1.2h-1.2z" fill="#f8cbb7"/>
<path d="M356.8 57.6h1.2v1.2h-1.2z" fill="#d3e5ef"/>
<path d="M318.5 59.6h1.2v1.2h-1.2z" fill="#e5edf3"/>
<path d="M353.6 80.9h1.2v1.2h-1.2z" fill="#f8a68b"/>
<path d="M349.7 98.1h1.2v1.2h-1.2z" fill="#f0503d"/>
<path d="M368.8 72.8h1.2v1.2h-1.2z" fill="#f8ccb9"/>
<path d="M324.8 68.6h1.2v1.2h-1.2z" fill="#f6ded6"/>
<path d="M350.6 90.8h1.2v1.2h-1.2z" fill="#f3745f"/>
<path d="M333.5 91.4h1.2v1.2h-1.2zM333.7 91.4h1.2v1.2h-1.2z" fill="#f3715c"/>
<path d="M332.8 76.1h1.2v1.2h-1.2zM366.4 80.4h1.3v1.3h-1.3z" fill="#f9bda2"/>
<path d="M311.8 61.3h1.2v1.2h-1.2zM336 61.3h1.2v1.2h-1.2zM335.8 61.3h1.2v1.2h-1.2z" fill="#f4f3f5"/>
<path d="M349.6 95h1.2v1.2h-1.2zM335.2 95h1.2v1.2h-1.2z" fill="#f15f4c"/>
<path d="M352 77.7h1.2v1.2h-1.2z" fill="#f9b59a"/>
<path d="M369.1 59.8h1.2v1.2h-1.2zM396.9 59.7h1.3v1.3h-1.3zM343 59.8h1.2v1.2h-1.2zM332.1 59.8h1.2v1.2h-1.2zM354.4 59.8h1.2v1.2h-1.2zM350.8 59.8h1.2v1.2h-1.2z" fill="#e7edf3"/>
<path d="M353.2 71.9h1.2v1.2h-1.2z" fill="#f8d0bf"/>
<path d="M335.3 84.5h1.2v1.2h-1.2zM358.3 88.8h1.3v1.3h-1.3zM317.4 88.8h1.3v1.3h-1.3zM331.2 88.8h1.3v1.3h-1.3z" fill="#f6937b"/>
<path d="M320.3 88.1h1.2v1.2h-1.2z" fill="#f4816b"/>
<path d="M308.9 59.5h1.2v1.2h-1.2zM339.8 59.4h1.2v1.2h-1.2zM352.5 59.4h1.2v1.2h-1.2z" fill="#e4ecf2"/>
<path d="M306.9 58.4h1.2v1.2h-1.2z" fill="#dae8f1"/>
<path d="M313.7 79.5h1.3v1.3h-1.3z" fill="#f9c1a8"/>
<path d="M325.4 91.3h1.3v1.3h-1.3zM362.2 91.3h1.3v1.3h-1.3z" fill="#f5876f"/>
<path d="M353.2 91.9h1.3v1.3h-1.3z" fill="#f4846d"/>
<path d="M352.6 92.8h1.3v1.3h-1.3zM322.6 92.8h1.3v1.3h-1.3z" fill="#f47f69"/>
<path d="M328.4 92.2h1.3v1.3h-1.3z" fill="#f4826c"/>
<path d="M376.2 80h1.3v1.3h-1.3z" fill="#f9bea5"/>
<path d="M322.3 73.5h1.3v1.3h-1.3z" fill="#f7dcd1"/>
<path d="M326.1 89.9h1.3v1.3h-1.3z" fill="#f58d76"/>
<path d="M352.4 81.8h1.3v1.3h-1.3zM321.1 81.8h1.3v1.3h-1.3z" fill="#f9b69a"/>
<path d="M368.8 60.8h1.3v1.3h-1.3zM347.1 60.9h1.2v1.2h-1.2zM334.6 60.9h1.2v1.2h-1.2z" fill="#f0f2f5"/>
<path d="M344.5 39.3h1.2v1.2h-1.2zM328.2 39.3h1.2v1.2h-1.2zM373 39h1.7v1.7h-1.7z" fill="#55a0d3"/>
<path d="M358.6 46.7h1.2v1.2h-1.2zM341.2 46.7h1.2v1.2h-1.2z" fill="#84bbde"/>
<path d="M334.2 56.1h1.2v1.2h-1.2zM349.8 56.1h1.2v1.2h-1.2zM342.7 56.1h1.2v1.2h-1.2zM350.4 56.2h1.2v1.2h-1.2zM350.5 56.1h1.2v1.2h-1.2zM346 56.1h1.2v1.2h-1.2zM336.5 56.1h1.2v1.2h-1.2zM354.7 56.1h1.2v1.2h-1.2zM344.8 56.2h1.2v1.2h-1.2z" fill="#c7dfed"/>
<path d="M332.9 55.8h1.2v1.2h-1.2z" fill="#c4deed"/>
<path d="M349.4 61.4h1.2v1.2h-1.2zM332 61.4h1.2v1.2h-1.2zM334.7 61.4h1.2v1.2h-1.2zM334.3 61.5h1.2v1.2h-1.2zM347 61.4h1.2v1.2h-1.2zM347.2 61.4h1.2v1.2h-1.2zM331.8 61.5h1.2v1.2h-1.2zM351.8 61.4h1.2v1.2h-1.2zM333.6 61.4h1.2v1.2h-1.2zM337.2 61.4h1.2v1.2h-1.2z" fill="#f5f3f5"/>
<path d="M347.8 61.5h1.2v1.2h-1.2zM353.9 61.5h1.2v1.2h-1.2zM346.1 61.6h1.2v1.2h-1.2zM348.3 61.6h1.2v1.2h-1.2zM340.4 61.5h1.2v1.2h-1.2zM354.7 61.5h1.2v1.2h-1.2z" fill="#f5f3f4"/>
<path d="M337.4 47.3h1.2v1.2h-1.2zM352.9 47.4h1.2v1.2h-1.2z" fill="#88bddf"/>
<path d="M345.2 38.6h1.2v1.2h-1.2zM359.2 38.7h1.2v1.2h-1.2zM343.2 38.6h1.2v1.2h-1.2zM346.9 38.7h1.2v1.2h-1.2zM395.6 38.4h1.7v1.7h-1.7z" fill="#519dd2"/>
<path d="M347.4 35.9h1.2v1.2h-1.2zM354.1 36h1.2v1.2h-1.2zM350.9 35.9h1.2v1.2h-1.2zM359.2 36h1.2v1.2h-1.2zM374.4 35.9h1.2v1.2h-1.2z" fill="#4093ce"/>
<path d="M352.1 52h1.2v1.2h-1.2zM337.9 52h1.2v1.2h-1.2zM349.4 52h1.2v1.2h-1.2zM341.6 52h1.2v1.2h-1.2z" fill="#a5cfe6"/>
<path d="M353 54.4h1.2v1.2h-1.2zM325 54.5h1.2v1.2h-1.2zM339.9 54.4h1.2v1.2h-1.2zM346.9 54.4h1.2v1.2h-1.2z" fill="#b8d8ea"/>
<path d="M338.8 46.9h1.2v1.2h-1.2zM352.3 46.9h1.2v1.2h-1.2zM323.7 47h1.2v1.2h-1.2zM339.5 46.8h1.2v1.2h-1.2zM326.4 47h1.2v1.2h-1.2z" fill="#85bcdf"/>
<path d="M355.9 48.2h1.2v1.2h-1.2zM333.4 48.2h1.2v1.2h-1.2z" fill="#8dc1e1"/>
<path d="M321.9 38.5h1.2v1.2h-1.2z" fill="#509dd2"/>
<path d="M349.9 53h1.2v1.2h-1.2zM342.5 53.1h1.2v1.2h-1.2zM328.9 53h1.2v1.2h-1.2zM333.8 53h1.2v1.2h-1.2zM341.3 53h1.2v1.2h-1.2z" fill="#acd3e8"/>
<path d="M347.9 38h1.2v1.2h-1.2zM330.2 38h1.2v1.2h-1.2z" fill="#4d9bd1"/>
<path d="M339.4 37.5h1.2v1.2h-1.2z" fill="#4a99d1"/>
<path d="M332.9 54.1h1.2v1.2h-1.2zM341.4 54.1h1.2v1.2h-1.2zM342 54.1h1.2v1.2h-1.2z" fill="#b5d7ea"/>
<path d="M344.6 42h1.2v1.2h-1.2z" fill="#66aad7"/>
<path d="M339.3 61.6h1.2v1.2h-1.2zM354.8 61.6h1.2v1.2h-1.2zM335.2 61.6h1.2v1.2h-1.2zM349.4 61.6h1.2v1.2h-1.2z" fill="#f5f2f4"/>
<path d="M335.4 41.4h1.2v1.2h-1.2z" fill="#63a7d6"/>
<path d="M324.9 48.4h1.2v1.2h-1.2zM345.6 48.3h1.2v1.2h-1.2zM344.5 48.3h1.2v1.2h-1.2zM361.4 48.3h1.2v1.2h-1.2z" fill="#8ec1e1"/>
<path d="M357.7 53.8h1.2v1.2h-1.2z" fill="#b2d6e9"/>
<path d="M350.3 48.9h1.2v1.2h-1.2z" fill="#92c3e2"/>
<path d="M337.7 43.9h1.2v1.2h-1.2z" fill="#72b1da"/>
<path d="M348.1 50.2h1.2v1.2h-1.2zM329.3 50.2h1.2v1.2h-1.2zM324.2 50.2h1.2v1.2h-1.2zM353.9 50.2h1.2v1.2h-1.2z" fill="#9ac8e4"/>
<path d="M339.4 61.1h1.2v1.2h-1.2zM337.4 61.2h1.2v1.2h-1.2zM350.4 61.2h1.2v1.2h-1.2zM335.6 61.2h1.2v1.2h-1.2z" fill="#f3f3f5"/>
<path d="M326.2 47.3h1.2v1.2h-1.2zM358 47.2h1.2v1.2h-1.2zM344.5 47.3h1.2v1.2h-1.2zM332.4 47.2h1.2v1.2h-1.2z" fill="#87bddf"/>
<path d="M352.6 55.7h1.2v1.2h-1.2zM345.5 55.7h1.2v1.2h-1.2zM348.4 55.7h1.2v1.2h-1.2z" fill="#c4ddec"/>
<path d="M343.2 53.9h1.2v1.2h-1.2zM342.5 54h1.2v1.2h-1.2zM331.9 53.9h1.2v1.2h-1.2z" fill="#b4d6e9"/>
<path d="M315.3 48.6h1.2v1.2h-1.2zM352.5 48.7h1.2v1.2h-1.2z" fill="#90c2e1"/>
<path d="M335.7 57.7h1.2v1.2h-1.2z" fill="#d4e5f0"/>
<path d="M337.8 55.2h1.2v1.2h-1.2z" fill="#bfdbec"/>
<path d="M329.8 46.6h1.2v1.2h-1.2zM345 46.6h1.2v1.2h-1.2zM357.9 46.6h1.2v1.2h-1.2z" fill="#83bbde"/>
<path d="M358.8 50.6h1.2v1.2h-1.2zM354.1 50.7h1.2v1.2h-1.2zM331.7 50.6h1.2v1.2h-1.2z" fill="#9ccae4"/>
<path d="M337.4 45.8h1.2v1.2h-1.2zM341.6 45.8h1.2v1.2h-1.2zM347.9 45.8h1.2v1.2h-1.2zM357.7 45.8h1.2v1.2h-1.2z" fill="#7eb8dd"/>
<path d="M342.9 54.9h1.2v1.2h-1.2zM343.6 54.8h1.2v1.2h-1.2zM336 54.9h1.2v1.2h-1.2zM332.2 54.9h1.2v1.2h-1.2zM345.4 54.9h1.2v1.2h-1.2z" fill="#bcdaeb"/>
<path d="M329.6 51h1.2v1.2h-1.2zM325.2 51.1h1.2v1.2h-1.2zM335.2 51h1.2v1.2h-1.2z" fill="#9fcbe5"/>
<path d="M343.8 35h1.2v1.2h-1.2zM315.6 35.1h1.2v1.2h-1.2z" fill="#3c91cd"/>
<path d="M319 44.8h1.2v1.2h-1.2zM334.2 44.8h1.2v1.2h-1.2zM355 44.9h1.2v1.2h-1.2z" fill="#78b4dc"/>
<path d="M358.8 40.8h1.2v1.2h-1.2zM347.4 40.7h1.2v1.2h-1.2z" fill="#5ea5d5"/>
<path d="M345.3 55.9h1.2v1.2h-1.2zM328.8 55.9h1.2v1.2h-1.2zM328.3 55.9h1.2v1.2h-1.2zM351.7 55.9h1.2v1.2h-1.2z" fill="#c5deed"/>
<path d="M323.7 35.3h1.2v1.2h-1.2zM354 35.3h1.2v1.2h-1.2zM331.1 35.1h1.2v1.2h-1.2zM370.4 35.3h1.2v1.2h-1.2zM332.8 35.2h1.2v1.2h-1.2zM336.2 35.3h1.2v1.2h-1.2z" fill="#3d91cd"/>
<path d="M333 50.8h1.2v1.2h-1.2z" fill="#9dcae5"/>
<path d="M317.3 44.8h1.2v1.2h-1.2z" fill="#77b4db"/>
<path d="M345.8 35.8h1.2v1.2h-1.2zM360 35.8h1.2v1.2h-1.2z" fill="#3f93ce"/>
<path d="M306.9 36.6h1.2v1.2h-1.2z" fill="#4496cf"/>
<path d="M342.6 54.7h1.2v1.2h-1.2zM339.1 54.7h1.2v1.2h-1.2z" fill="#bbd9eb"/>
<path d="M329.5 42.4h1.2v1.2h-1.2zM337.9 42.5h1.2v1.2h-1.2zM344.4 42.5h1.2v1.2h-1.2zM305.6 42.1h1.7v1.7h-1.7z" fill="#69abd8"/>
<path d="M343 36.2h1.2v1.2h-1.2zM343.3 36.2h1.2v1.2h-1.2zM343.9 36.3h1.2v1.2h-1.2z" fill="#4294cf"/>
<path d="M334.8 45h1.2v1.2h-1.2z" fill="#79b5dc"/>
<path d="M331.9 49.3h1.2v1.2h-1.2zM338.8 49.3h1.2v1.2h-1.2zM362.8 49.3h1.2v1.2h-1.2zM327 49.2h1.2v1.2h-1.2zM356.2 49.4h1.2v1.2h-1.2z" fill="#94c5e2"/>
<path d="M338.9 40.3h1.2v1.2h-1.2zM334.8 40.3h1.2v1.2h-1.2z" fill="#5ba3d5"/>
<path d="M334 47.6h1.2v1.2h-1.2zM346.3 47.5h1.2v1.2h-1.2zM337.7 47.5h1.2v1.2h-1.2z" fill="#89bee0"/>
<path d="M330.9 48.5h1.2v1.2h-1.2zM348.6 48.5h1.2v1.2h-1.2zM355.6 48.5h1.2v1.2h-1.2zM349.7 48.6h1.2v1.2h-1.2zM331.4 48.5h1.2v1.2h-1.2z" fill="#8fc2e1"/>
<path d="M340.6 51.3h1.2v1.2h-1.2zM326.7 51.1h1.2v1.2h-1.2zM344 51.2h1.2v1.2h-1.2zM344.5 51.3h1.2v1.2h-1.2z" fill="#a0cce5"/>
<path d="M366.3 37.3h1.2v1.2h-1.2zM350.9 37.2h1.2v1.2h-1.2z" fill="#4898d0"/>
<path d="M350.7 46.5h1.2v1.2h-1.2z" fill="#83bade"/>
<path d="M341.9 52.5h1.2v1.2h-1.2z" fill="#a8d1e7"/>
<path d="M331.6 37.7h1.2v1.2h-1.2zM354.5 37.7h1.2v1.2h-1.2zM326.4 37.7h1.2v1.2h-1.2z" fill="#4b9ad1"/>
<path d="M349.5 36.6h1.2v1.2h-1.2zM328 36.5h1.2v1.2h-1.2z" fill="#4495cf"/>
<path d="M341.1 35.8h1.2v1.2h-1.2z" fill="#3f92ce"/>
<path d="M336.2 53h1.2v1.2h-1.2zM338.7 53h1.2v1.2h-1.2z" fill="#acd2e8"/>
<path d="M346.9 51.3h1.2v1.2h-1.2zM334.9 51.3h1.2v1.2h-1.2z" fill="#a1cce5"/>
<path d="M359.7 42.6h1.2v1.2h-1.2zM344.5 42.6h1.2v1.2h-1.2zM339.9 42.7h1.2v1.2h-1.2z" fill="#6aacd8"/>
<path d="M345.9 58.1h1.2v1.2h-1.2zM339.9 58.1h1.2v1.2h-1.2zM357.2 58.1h1.2v1.2h-1.2zM344.4 58.1h1.2v1.2h-1.2z" fill="#d8e7f0"/>
<path d="M332.4 61.6h1.2v1.2h-1.2zM335.4 61.7h1.2v1.2h-1.2zM347.7 61.7h1.2v1.2h-1.2zM345.8 61.7h1.2v1.2h-1.2zM350.8 61.7h1.2v1.2h-1.2z" fill="#f5f2f3"/>
<path d="M357.4 40.5h1.2v1.2h-1.2z" fill="#5da4d5"/>
<path d="M342.7 51.7h1.2v1.2h-1.2z" fill="#a3cee6"/>
<path d="M348.6 54.6h1.2v1.2h-1.2zM348.6 54.7h1.2v1.2h-1.2z" fill="#bad9eb"/>
<path d="M357 43.4h1.2v1.2h-1.2zM347.4 43.3h1.2v1.2h-1.2zM349.1 43.4h1.2v1.2h-1.2z" fill="#6fafd9"/>
<path d="M340.3 37.7h1.2v1.2h-1.2z" fill="#4b99d1"/>
<path d="M342 37.9h1.2v1.2h-1.2z" fill="#4c9ad1"/>
<path d="M340.1 53.4h1.2v1.2h-1.2zM352.8 53.4h1.2v1.2h-1.2z" fill="#afd4e9"/>
<path d="M341.9 47.4h1.2v1.2h-1.2z" fill="#88bedf"/>
<path d="M325.9 45.2h1.2v1.2h-1.2zM336.1 45.2h1.2v1.2h-1.2zM359.8 45.1h1.2v1.2h-1.2z" fill="#7ab5dc"/>
<path d="M322.9 45.3h1.2v1.2h-1.2zM339.5 45.4h1.2v1.2h-1.2zM330.7 45.3h1.2v1.2h-1.2zM312.7 45.4h1.2v1.2h-1.2zM336.8 45.4h1.2v1.2h-1.2zM342.7 45.3h1.2v1.2h-1.2z" fill="#7bb6dc"/>
<path d="M344.8 43.8h1.2v1.2h-1.2zM359.2 43.7h1.2v1.2h-1.2zM345.9 43.8h1.2v1.2h-1.2z" fill="#71b0da"/>
<path d="M339 41.8h1.2v1.2h-1.2zM329.2 41.8h1.2v1.2h-1.2zM360.3 41.9h1.2v1.2h-1.2z" fill="#65a9d7"/>
<path d="M347.9 52.9h1.2v1.2h-1.2zM337.7 53h1.2v1.2h-1.2zM326.2 52.9h1.2v1.2h-1.2zM320.4 52.9h1.2v1.2h-1.2z" fill="#abd2e8"/>
<path d="M357.5 37.1h1.2v1.2h-1.2zM342.9 37h1.2v1.2h-1.2zM375.5 37h1.2v1.2h-1.2zM326 37.1h1.2v1.2h-1.2zM369.6 37.1h1.2v1.2h-1.2z" fill="#4797d0"/>
<path d="M325.3 37.4h1.2v1.2h-1.2zM330.4 37.4h1.2v1.2h-1.2z" fill="#4998d0"/>
<path d="M333.4 56.1h1.2v1.2h-1.2zM330.8 56h1.2v1.2h-1.2z" fill="#c6dfed"/>
<path d="M329.6 49.1h1.2v1.2h-1.2zM324.4 49.2h1.2v1.2h-1.2zM333.4 49.1h1.2v1.2h-1.2z" fill="#93c4e2"/>
<path d="M340 43.6h1.2v1.2h-1.2z" fill="#70b0da"/>
<path d="M329.5 41.2h1.2v1.2h-1.2zM353.6 41.2h1.2v1.2h-1.2zM341 41.2h1.2v1.2h-1.2z" fill="#61a7d6"/>
<path d="M309.4 41.6h1.2v1.2h-1.2z" fill="#64a8d7"/>
<path d="M319.5 38.3h1.2v1.2h-1.2zM357.2 38.3h1.2v1.2h-1.2z" fill="#4f9cd2"/>
<path d="M354.5 42.9h1.2v1.2h-1.2zM334.8 42.9h1.2v1.2h-1.2zM342 42.9h1.2v1.2h-1.2zM319.2 42.9h1.2v1.2h-1.2z" fill="#6cadd9"/>
<path d="M353.8 48h1.2v1.2h-1.2z" fill="#8cc0e0"/>
<path d="M333.9 55.5h1.2v1.2h-1.2zM334.4 55.5h1.2v1.2h-1.2z" fill="#c2dcec"/>
<path d="M331.6 43.6h1.2v1.2h-1.2zM350.2 43.5h1.2v1.2h-1.2z" fill="#70afda"/>
<path d="M357.1 38.1h1.2v1.2h-1.2z" fill="#4e9bd1"/>
<path d="M352.4 46.5h1.2v1.2h-1.2z" fill="#82bade"/>
<path d="M327.3 47.7h1.2v1.2h-1.2zM326.3 47.8h1.2v1.2h-1.2zM354.7 47.8h1.2v1.2h-1.2z" fill="#8abfe0"/>
<path d="M355.8 58.6h1.2v1.2h-1.2z" fill="#dce9f1"/>
<path d="M345.8 49.5h1.2v1.2h-1.2zM330.9 49.5h1.2v1.2h-1.2z" fill="#95c5e3"/>
<path d="M333.8 34.9h1.2v1.2h-1.2zM360.9 34.7h1.2v1.2h-1.2zM330.5 34.8h1.2v1.2h-1.2z" fill="#3c90cd"/>
<path d="M336.4 36.8h1.2v1.2h-1.2zM363.1 36.7h1.2v1.2h-1.2z" fill="#4596cf"/>
<path d="M334.3 55.1h1.2v1.2h-1.2zM348.5 55h1.2v1.2h-1.2zM336.5 55.1h1.2v1.2h-1.2z" fill="#bedbeb"/>
<path d="M341.9 43.3h1.2v1.2h-1.2z" fill="#6eaed9"/>
<path d="M344.6 47.5h1.2v1.2h-1.2z" fill="#88bee0"/>
<path d="M347.1 53.1h1.2v1.2h-1.2zM337.5 53.2h1.2v1.2h-1.2z" fill="#add3e8"/>
<path d="M355.6 45.7h1.2v1.2h-1.2zM352.1 45.6h1.2v1.2h-1.2zM342.4 45.7h1.2v1.2h-1.2zM351.4 45.7h1.2v1.2h-1.2zM338 45.6h1.2v1.2h-1.2z" fill="#7db7dd"/>
<path d="M360 52.8h1.2v1.2h-1.2zM348.5 52.8h1.2v1.2h-1.2z" fill="#aad2e8"/>
<path d="M350.8 49.9h1.2v1.2h-1.2z" fill="#97c7e3"/>
<path d="M357.4 55.5h1.2v1.2h-1.2zM346.9 55.4h1.2v1.2h-1.2z" fill="#c1dcec"/>
<path d="M341 48.8h1.2v1.2h-1.2zM343.2 48.9h1.2v1.2h-1.2zM352.8 48.9h1.2v1.2h-1.2zM357.6 48.8h1.2v1.2h-1.2zM351.5 48.9h1.2v1.2h-1.2zM329.1 48.9h1.2v1.2h-1.2z" fill="#91c3e2"/>
<path d="M341.5 51.5h1.2v1.2h-1.2z" fill="#a2cde6"/>
<path d="M333.7 40.3h1.2v1.2h-1.2zM358.8 40.3h1.2v1.2h-1.2z" fill="#5ca3d5"/>
<path d="M335.7 50.4h1.2v1.2h-1.2zM327.7 50.4h1.2v1.2h-1.2zM327.5 50.4h1.2v1.2h-1.2zM348.4 50.5h1.2v1.2h-1.2zM351.1 50.4h1.2v1.2h-1.2z" fill="#9bc9e4"/>
<path d="M356.6 53.8h1.2v1.2h-1.2z" fill="#b3d6e9"/>
<path d="M330.8 59.8h1.2v1.2h-1.2z" fill="#e7eef3"/>
<path d="M348.2 43.1h1.2v1.2h-1.2zM352.7 43.1h1.2v1.2h-1.2z" fill="#6daed9"/>
<path d="M302.9 36.3h1.2v1.2h-1.2zM319.6 36.4h1.2v1.2h-1.2zM309.1 36.1h1.7v1.7h-1.7z" fill="#4395cf"/>
<path d="M334.9 51h1.2v1.2h-1.2zM338 51h1.2v1.2h-1.2zM338.9 50.9h1.2v1.2h-1.2z" fill="#9ecbe5"/>
<path d="M343.3 55.7h1.2v1.2h-1.2zM329.7 55.7h1.2v1.2h-1.2zM330.3 55.7h1.2v1.2h-1.2z" fill="#c3ddec"/>
<path d="M337.3 56h1.2v1.2h-1.2zM350.2 56h1.2v1.2h-1.2zM343 56h1.2v1.2h-1.2z" fill="#c6deed"/>
<path d="M338.6 37.5h1.2v1.2h-1.2z" fill="#4a99d0"/>
<path d="M356.8 51.6h1.2v1.2h-1.2zM345.7 51.6h1.2v1.2h-1.2z" fill="#a3cde6"/>
<path d="M357.2 53.5h1.2v1.2h-1.2zM343.4 53.6h1.2v1.2h-1.2zM362.2 53.6h1.2v1.2h-1.2z" fill="#b1d5e9"/>
<path d="M340.1 39.8h1.2v1.2h-1.2zM370 39.7h1.2v1.2h-1.2zM326.4 39.7h1.2v1.2h-1.2z" fill="#58a1d4"/>
<path d="M319.6 36.9h1.2v1.2h-1.2zM346.5 36.9h1.2v1.2h-1.2zM375.6 36.9h1.2v1.2h-1.2z" fill="#4697d0"/>
<path d="M327.5 55.8h1.2v1.2h-1.2z" fill="#c4deec"/>
<path d="M359.3 44.5h1.2v1.2h-1.2z" fill="#76b3db"/>
<path d="M342.9 55.2h1.2v1.2h-1.2z" fill="#bfdbeb"/>
<path d="M357.8 46.1h1.2v1.2h-1.2zM349.5 46.1h1.2v1.2h-1.2zM345.9 46.1h1.2v1.2h-1.2z" fill="#80b9dd"/>
<path d="M324.6 53.3h1.2v1.2h-1.2zM335.8 53.2h1.2v1.2h-1.2z" fill="#aed4e8"/>
<path d="M332.3 52.1h1.2v1.2h-1.2zM329.7 52.2h1.2v1.2h-1.2zM338.3 52.1h1.2v1.2h-1.2z" fill="#a6cfe7"/>
<path d="M322 42.8h1.2v1.2h-1.2z" fill="#6bacd8"/>
<path d="M336.7 35.5h1.2v1.2h-1.2z" fill="#3e92ce"/>
<path d="M347.5 53.5h1.2v1.2h-1.2z" fill="#b0d5e9"/>
<path d="M350.4 54.3h1.2v1.2h-1.2zM352.8 54.3h1.2v1.2h-1.2zM331.2 54.3h1.2v1.2h-1.2z" fill="#b7d8ea"/>
<path d="M346.9 52.5h1.2v1.2h-1.2z" fill="#a8d0e7"/>
<path d="M336.4 48.1h1.2v1.2h-1.2z" fill="#8dc0e1"/>
<path d="M359.5 40.4h1.2v1.2h-1.2z" fill="#5ca4d5"/>
<path d="M338.6 41.3h1.2v1.2h-1.2z" fill="#62a7d6"/>
<path d="M366.3 45.9h1.2v1.2h-1.2zM354.2 46h1.2v1.2h-1.2z" fill="#7fb8dd"/>
<path d="M334.9 53.3h1.2v1.2h-1.2z" fill="#afd4e8"/>
<path d="M329.1 36.1h1.2v1.2h-1.2z" fill="#4194ce"/>
<path d="M362.9 50h1.2v1.2h-1.2zM346.4 50h1.2v1.2h-1.2zM342.4 49.9h1.2v1.2h-1.2z" fill="#98c7e3"/>
<path d="M335.7 49.5h1.2v1.2h-1.2z" fill="#95c6e3"/>
<path d="M357.2 50.2h1.2v1.2h-1.2zM347.9 50.2h1.2v1.2h-1.2z" fill="#99c8e4"/>
<path d="M338 48.1h1.2v1.2h-1.2z" fill="#8cc0e1"/>
<path d="M341 42.2h1.2v1.2h-1.2z" fill="#67aad8"/>
<path d="M337.2 60.1h1.2v1.2h-1.2z" fill="#e9eff3"/>
<path d="M352.4 60.8h1.2v1.2h-1.2zM347.1 60.8h1.2v1.2h-1.2z" fill="#f0f1f5"/>
<path d="M335 56.3h1.2v1.2h-1.2z" fill="#c8e0ed"/>
<path d="M337.3 56.4h1.2v1.2h-1.2zM331.5 56.4h1.2v1.2h-1.2z" fill="#c9e0ed"/>
<path d="M365.7 45.5h1.2v1.2h-1.2zM318.7 45.5h1.2v1.2h-1.2z" fill="#7cb7dd"/>
<path d="M346.5 41h1.2v1.2h-1.2zM317.7 41h1.2v1.2h-1.2z" fill="#60a6d6"/>
<path d="M355.9 54.2h1.2v1.2h-1.2zM338.9 54.1h1.2v1.2h-1.2z" fill="#b6d7ea"/>
<path d="M353.3 52.3h1.2v1.2h-1.2z" fill="#a7d0e7"/>
<path d="M345.2 51.8h1.2v1.2h-1.2zM329.7 51.9h1.2v1.2h-1.2z" fill="#a4cee6"/>
<path d="M338.8 49h1.2v1.2h-1.2z" fill="#92c4e2"/>
<path d="M340.5 42.3h1.2v1.2h-1.2z" fill="#68abd8"/>
<path d="M349.1 54h1.2v1.2h-1.2zM320.4 54h1.2v1.2h-1.2zM341.1 54h1.2v1.2h-1.2z" fill="#b4d6ea"/>
<path d="M331.1 55.6h1.2v1.2h-1.2zM326.3 55.5h1.2v1.2h-1.2zM345.2 55.6h1.2v1.2h-1.2z" fill="#c2ddec"/>
<path d="M345.8 50.5h1.2v1.2h-1.2z" fill="#9cc9e4"/>
<path d="M347.3 46.3h1.2v1.2h-1.2zM351.3 46.3h1.2v1.2h-1.2zM350.4 46.3h1.2v1.2h-1.2z" fill="#81bade"/>
<path d="M339.9 53.4h1.2v1.2h-1.2z" fill="#b0d4e9"/>
<path d="M338.5 56.2h1.2v1.2h-1.2z" fill="#c8dfed"/>
<path d="M346.1 42.1h1.2v1.2h-1.2zM344.1 42.1h1.2v1.2h-1.2z" fill="#67aad7"/>
<path d="M346.4 52.2h1.2v1.2h-1.2z" fill="#a6d0e7"/>
<path d="M353.5 39.7h1.2v1.2h-1.2z" fill="#57a1d4"/>
<path d="M335.2 50.3h1.2v1.2h-1.2z" fill="#9ac9e4"/>
<path d="M340 58.8h1.2v1.2h-1.2z" fill="#deeaf1"/>
<path d="M327.7 55.3h1.2v1.2h-1.2z" fill="#c0dcec"/>
<path d="M326.7 43.8h1.2v1.2h-1.2zM326 43.8h1.2v1.2h-1.2z" fill="#72b0da"/>
<path d="M356.5 40h1.2v1.2h-1.2z" fill="#59a2d4"/>
<path d="M352.7 42.2h1.2v1.2h-1.2z" fill="#68aad8"/>
<path d="M323 40.9h1.2v1.2h-1.2z" fill="#5fa6d6"/>
<path d="M336.8 37.4h1.2v1.2h-1.2z" fill="#4999d0"/>
<path d="M330.6 44.3h1.2v1.2h-1.2z" fill="#74b2db"/>
<path d="M343.7 47.8h1.2v1.2h-1.2z" fill="#8bbfe0"/>
<path d="M314.6 25.1h1.7v1.7h-1.7zM316.4 25.1h1.7v1.7h-1.7zM325.6 25.1h1.7v1.7h-1.7zM346.5 25.1h1.7v1.7h-1.7zM349.6 25.1h1.7v1.7h-1.7zM368.1 25.3h1.7v1.7h-1.7zM372.1 25.3h1.7v1.7h-1.7zM413.9 25.3h1.7v1.7h-1.7z" fill="#2580c2"/>
<path d="M314.6 29.6h1.7v1.7h-1.7zM321.9 29.6h1.7v1.7h-1.7zM331.3 29.6h1.7v1.7h-1.7zM333.8 29.6h1.7v1.7h-1.7zM346.5 29.6h1.7v1.7h-1.7zM328.6 29.6h1.7v1.7h-1.7zM307.1 29.6h1.7v1.7h-1.7z" fill="#3088c7"/>
<path d="M338.2 27.1h1.7v1.7h-1.7z" fill="#2a83c4"/>
<path d="M358.4 18h1.7v1.7h-1.7zM374.2 18h1.7v1.7h-1.7z" fill="#1474ba"/>
<path d="M366.9 32.4h1.7v1.7h-1.7z" fill="#368cca"/>
<path d="M376.1 40.6h1.7v1.7h-1.7z" fill="#5fa5d6"/>
<path d="M305.6 39.1h1.7v1.7h-1.7z" fill="#56a0d3"/>
<line x1="342.6" y1="46.3" x2="342.6" y2="95" stroke="#fff" stroke-width="0.6"/>
<line x1="301.8" y1="58.3" x2="419.2" y2="58.3" stroke="#8a8a8a" stroke-width="0.45" stroke-opacity="0.75"/>
<line x1="335.7" y1="14.9" x2="335.7" y2="109.2" stroke="#7a7a7a" stroke-width="0.45" stroke-opacity="0.7"/>
<line x1="349.5" y1="14.9" x2="349.5" y2="109.2" stroke="#7a7a7a" stroke-width="0.45" stroke-opacity="0.7"/>
<text x="306" y="111.8" font-size="1.8" text-anchor="middle" fill="#666">-10</text>
<text x="342.6" y="111.8" font-size="1.8" text-anchor="middle" fill="#666">0</text>
<text x="379.2" y="111.8" font-size="1.8" text-anchor="middle" fill="#666">10</text>
<text x="415.5" y="111.8" font-size="1.8" text-anchor="middle" fill="#666">20</text>
<text x="300.5" y="16.1" font-size="1.8" text-anchor="end" fill="#666">8</text>
<text x="300.5" y="34.4" font-size="1.8" text-anchor="end" fill="#666">6</text>
<text x="300.5" y="51.8" font-size="1.8" text-anchor="end" fill="#666">4</text>
<text x="300.5" y="69.6" font-size="1.8" text-anchor="end" fill="#666">2</text>
<text x="300.5" y="87.1" font-size="1.8" text-anchor="end" fill="#666">1</text>
<text x="300.5" y="105.1" font-size="1.8" text-anchor="end" fill="#666">0</text>
<text x="359" y="114.4" font-size="2.0" text-anchor="middle" fill="#555">log2FC</text>
<text x="295.8" y="73.1" font-size="1.8" text-anchor="middle" fill="#555" transform="rotate(-90 295.8 73.1)">-log10(P)</text>
<defs><linearGradient id="vg1" x1="0" y1="0" x2="0" y2="1"><stop offset="0" stop-color="#1471BA"/><stop offset="0.45" stop-color="#F2F2F4"/><stop offset="1" stop-color="#EC2A1C"/></linearGradient></defs>
<text x="303.9" y="46.5" font-size="2.2" fill="#444">-log10_pvalue</text>
<rect x="303.6" y="47.5" width="3.4" height="18" fill="url(#vg1)"/>
<text x="309.1" y="50.5" font-size="1.5" fill="#666">2.0</text>
<text x="309.1" y="54.8" font-size="1.5" fill="#666">1.5</text>
<text x="309.1" y="59.1" font-size="1.5" fill="#666">1.0</text>
<text x="309.1" y="63.4" font-size="1.5" fill="#666">0.5</text>
<text x="349.6" y="128.6" font-size="5.5" font-weight="bold" text-anchor="middle" fill="#000">Ctrl vs Model</text>
<rect x="436.1" y="14.9" width="107.5" height="94.2" fill="#fff" stroke="#d5d5d5" stroke-width="0.5"/>
<defs><linearGradient id="vg2c" gradientUnits="userSpaceOnUse" x1="0" y1="105.2" x2="0" y2="18.9"><stop offset="0" stop-color="#ec2416"/><stop offset="0.1" stop-color="#f04e3c"/><stop offset="0.2" stop-color="#f47963"/><stop offset="0.3" stop-color="#f8a48a"/><stop offset="0.4" stop-color="#f8cdbb"/><stop offset="0.5" stop-color="#f5f4f6"/><stop offset="0.6" stop-color="#aad2e8"/><stop offset="0.7" stop-color="#74b2db"/><stop offset="0.8" stop-color="#3e92ce"/><stop offset="0.9" stop-color="#2983c4"/><stop offset="1" stop-color="#1474ba"/></linearGradient></defs>
<polygon points="483.5,105.2 482.2,103.2 481.2,101.2 480.3,99.2 479.4,97.2 478.5,95.2 477.7,93.2 476.9,91.2 476.1,89.2 475.3,87.2 474.6,85.2 473.8,83.2 473.1,81.2 472.4,79.2 471.7,77.2 471,75.2 470.3,73.2 469.6,71.2 468.9,69.2 468.2,67.2 467.5,65.2 475.5,62.2 491.5,62.2 499.5,65.2 498.8,67.2 498.1,69.2 497.4,71.2 496.7,73.2 496,75.2 495.3,77.2 494.6,79.2 493.9,81.2 493.2,83.2 492.4,85.2 491.7,87.2 490.9,89.2 490.1,91.2 489.3,93.2 488.5,95.2 487.6,97.2 486.7,99.2 485.8,101.2 484.8,103.2 483.5,105.2" fill="url(#vg2c)"/>
<path d="M473.2 82.3h1.2v1.2h-1.2zM472.7 82.3h1.2v1.2h-1.2zM474.3 82.3h1.2v1.2h-1.2z" fill="#f6927a"/>
<path d="M488.5 94.9h1.2v1.2h-1.2zM478.7 95h1.2v1.2h-1.2z" fill="#f05341"/>
<path d="M469.5 66.5h1.2v1.2h-1.2zM496.1 66.6h1.2v1.2h-1.2zM489.5 66.3h1.5v1.5h-1.5zM475.6 66.3h1.5v1.5h-1.5zM479.1 66.4h1.5v1.5h-1.5z" fill="#f6ddd3"/>
<path d="M484.1 103.3h1.2v1.2h-1.2zM482 103.3h1.2v1.2h-1.2z" fill="#ec2a1b"/>
<path d="M476.2 92.3h1.2v1.2h-1.2zM488.6 92.3h1.2v1.2h-1.2zM476.9 92.2h1.2v1.2h-1.2z" fill="#f1614d"/>
<path d="M473.3 78h1.2v1.2h-1.2zM494.8 78.1h1.2v1.2h-1.2z" fill="#f8a78d"/>
<path d="M465.1 64.4h1.2v1.2h-1.2z" fill="#f6e6e2"/>
<path d="M493 77.1h1.2v1.2h-1.2zM494.2 77.2h1.2v1.2h-1.2z" fill="#f8ac91"/>
<path d="M487.2 94.6h1.2v1.2h-1.2zM487.5 94.5h1.2v1.2h-1.2z" fill="#f05543"/>
<path d="M473.7 90.3h1.2v1.2h-1.2z" fill="#f26a56"/>
<path d="M485.8 100.6h1.2v1.2h-1.2zM486.1 100.7h1.2v1.2h-1.2z" fill="#ed3727"/>
<path d="M477.9 92.7h1.2v1.2h-1.2zM490.1 92.7h1.2v1.2h-1.2zM489 92.7h1.2v1.2h-1.2z" fill="#f15f4b"/>
<path d="M464.6 64.7h1.2v1.2h-1.2zM498.8 64.6h1.2v1.2h-1.2zM486.6 64.5h1.5v1.5h-1.5zM487.8 64.5h1.5v1.5h-1.5z" fill="#f6e5e0"/>
<path d="M477.1 93h1.2v1.2h-1.2zM476.4 92.9h1.2v1.2h-1.2z" fill="#f15d4a"/>
<path d="M486 99.1h1.2v1.2h-1.2z" fill="#ee3f2e"/>
<path d="M489 89.7h1.2v1.2h-1.2zM491.5 89.7h1.2v1.2h-1.2zM475.1 89.6h1.2v1.2h-1.2z" fill="#f26e59"/>
<path d="M489 91.6h1.2v1.2h-1.2zM489.7 91.5h1.2v1.2h-1.2z" fill="#f26450"/>
<path d="M484.6 103.1h1.2v1.2h-1.2zM481.3 103.2h1.2v1.2h-1.2zM481.3 103.1h1.2v1.2h-1.2z" fill="#ec2b1c"/>
<path d="M474 85.4h1.2v1.2h-1.2zM490.9 85.5h1.2v1.2h-1.2z" fill="#f4836c"/>
<path d="M478.4 94h1.2v1.2h-1.2zM488.3 94.1h1.2v1.2h-1.2zM488.5 94h1.2v1.2h-1.2z" fill="#f05845"/>
<path d="M480.4 99.9h1.2v1.2h-1.2zM480.1 99.8h1.2v1.2h-1.2zM480 99.8h1.2v1.2h-1.2zM485.8 99.8h1.2v1.2h-1.2zM480.4 99.9h1.2v1.2h-1.2zM480.1 99.8h1.2v1.2h-1.2zM479.7 99.9h1.2v1.2h-1.2z" fill="#ee3b2b"/>
<path d="M498 70.4h1.2v1.2h-1.2z" fill="#f8cbb9"/>
<path d="M468 68.3h1.2v1.2h-1.2zM496.4 68.3h1.2v1.2h-1.2zM487.1 68.1h1.5v1.5h-1.5z" fill="#f7d5c7"/>
<path d="M470.8 80.4h1.2v1.2h-1.2z" fill="#f79c82"/>
<path d="M469.5 67.6h1.2v1.2h-1.2zM469.6 67.7h1.2v1.2h-1.2z" fill="#f7d8cb"/>
<path d="M469.3 67.9h1.2v1.2h-1.2zM485 67.6h1.5v1.5h-1.5zM471.8 67.6h1.5v1.5h-1.5z" fill="#f7d7ca"/>
<path d="M484.8 101.3h1.2v1.2h-1.2zM480.9 101.3h1.2v1.2h-1.2z" fill="#ed3424"/>
<path d="M469.2 78h1.2v1.2h-1.2z" fill="#f8a88d"/>
<path d="M486.1 98.3h1.2v1.2h-1.2zM487.5 98.2h1.2v1.2h-1.2z" fill="#ee4332"/>
<path d="M467.5 62.5h1.2v1.2h-1.2zM467.1 62.5h1.2v1.2h-1.2zM500.7 62.4h1.2v1.2h-1.2zM479.5 62.3h1.5v1.5h-1.5z" fill="#f5efef"/>
<path d="M478.2 94.3h1.2v1.2h-1.2zM477.2 94.3h1.2v1.2h-1.2zM488.1 94.2h1.2v1.2h-1.2zM478.4 94.3h1.2v1.2h-1.2zM478.5 94.3h1.2v1.2h-1.2z" fill="#f05744"/>
<path d="M481.4 103.4h1.2v1.2h-1.2z" fill="#ec291b"/>
<path d="M480.8 100.3h1.2v1.2h-1.2zM480.4 100.2h1.2v1.2h-1.2z" fill="#ee3929"/>
<path d="M467.6 66.3h1.2v1.2h-1.2z" fill="#f6ded4"/>
<path d="M486.1 99.6h1.2v1.2h-1.2z" fill="#ee3d2c"/>
<path d="M471.4 77.4h1.2v1.2h-1.2z" fill="#f8aa90"/>
<path d="M477.8 95.8h1.2v1.2h-1.2zM487.1 95.8h1.2v1.2h-1.2zM488.3 95.8h1.2v1.2h-1.2zM478.9 95.8h1.2v1.2h-1.2zM477.3 95.9h1.2v1.2h-1.2zM486.9 95.7h1.2v1.2h-1.2z" fill="#f04f3d"/>
<path d="M472.2 81.4h1.2v1.2h-1.2zM472.2 81.4h1.2v1.2h-1.2zM473.9 81.4h1.2v1.2h-1.2z" fill="#f6977e"/>
<path d="M480.2 99.3h1.2v1.2h-1.2z" fill="#ee3e2e"/>
<path d="M485.8 99h1.2v1.2h-1.2z" fill="#ee3f2f"/>
<path d="M496.5 72.1h1.2v1.2h-1.2zM467.3 76.4h1.3v1.3h-1.3zM462.9 76.3h1.3v1.3h-1.3z" fill="#f9c4ad"/>
<path d="M467.8 62.2h1.2v1.2h-1.2z" fill="#f5f0f1"/>
<path d="M485.3 100.6h1.2v1.2h-1.2zM484.9 100.6h1.2v1.2h-1.2z" fill="#ed3728"/>
<path d="M491.6 84.9h1.2v1.2h-1.2zM474.9 85h1.2v1.2h-1.2z" fill="#f5856e"/>
<path d="M499.2 61.2h1.2v1.2h-1.2zM500.4 61.2h1.2v1.2h-1.2zM486.3 61h1.5v1.5h-1.5zM477.2 61h1.5v1.5h-1.5z" fill="#f2f2f5"/>
<path d="M490.5 89.8h1.2v1.2h-1.2z" fill="#f26d58"/>
<path d="M488.9 90.1h1.2v1.2h-1.2zM476.7 90h1.2v1.2h-1.2z" fill="#f26c57"/>
<path d="M480 98.7h1.2v1.2h-1.2zM487.8 98.8h1.2v1.2h-1.2z" fill="#ee4130"/>
<path d="M471.8 81.7h1.2v1.2h-1.2z" fill="#f6957d"/>
<path d="M489 93.3h1.2v1.2h-1.2z" fill="#f15c48"/>
<path d="M469.1 78.4h1.2v1.2h-1.2z" fill="#f8a68c"/>
<path d="M488.9 90.7h1.2v1.2h-1.2z" fill="#f26954"/>
<path d="M497.1 69.8h1.2v1.2h-1.2zM465.7 69.7h1.2v1.2h-1.2zM496.3 69.8h1.2v1.2h-1.2zM469 69.8h1.2v1.2h-1.2z" fill="#f8cebd"/>
<path d="M471.6 78.4h1.2v1.2h-1.2zM493.1 78.4h1.2v1.2h-1.2z" fill="#f8a58b"/>
<path d="M498.1 66.7h1.2v1.2h-1.2zM466.5 66.7h1.2v1.2h-1.2zM468.9 66.7h1.2v1.2h-1.2zM497.1 66.7h1.2v1.2h-1.2zM474.8 66.5h1.5v1.5h-1.5zM475.8 66.5h1.5v1.5h-1.5z" fill="#f7dcd2"/>
<path d="M495.6 76.1h1.2v1.2h-1.2z" fill="#f9b196"/>
<path d="M498.3 64.1h1.2v1.2h-1.2zM467.7 64.1h1.2v1.2h-1.2z" fill="#f6e8e3"/>
<path d="M484 102.8h1.2v1.2h-1.2z" fill="#ec2c1d"/>
<path d="M500.1 63.3h1.2v1.2h-1.2zM466 63.3h1.2v1.2h-1.2z" fill="#f5ebe9"/>
<path d="M490.4 86.7h1.2v1.2h-1.2z" fill="#f47c66"/>
<path d="M494 76.8h1.2v1.2h-1.2z" fill="#f8ae93"/>
<path d="M476.4 88.2h1.2v1.2h-1.2zM489.7 88.2h1.2v1.2h-1.2zM491.1 88.2h1.2v1.2h-1.2z" fill="#f3755f"/>
<path d="M484.4 102.3h1.2v1.2h-1.2zM481.6 102.2h1.2v1.2h-1.2z" fill="#ed2f20"/>
<path d="M471 77.9h1.2v1.2h-1.2zM494.3 77.9h1.2v1.2h-1.2z" fill="#f8a88e"/>
<path d="M481.3 101.7h1.2v1.2h-1.2z" fill="#ed3223"/>
<path d="M470 70.3h1.2v1.2h-1.2z" fill="#f8ccba"/>
<path d="M471.1 73.2h1.2v1.2h-1.2zM494.2 73.1h1.2v1.2h-1.2z" fill="#f9bfa6"/>
<path d="M471.6 85.9h1.2v1.2h-1.2zM490.5 85.9h1.2v1.2h-1.2zM474 85.9h1.2v1.2h-1.2z" fill="#f4806a"/>
<path d="M492.1 79.6h1.2v1.2h-1.2zM494.2 79.6h1.2v1.2h-1.2z" fill="#f79f86"/>
<path d="M467.8 65.9h1.2v1.2h-1.2zM497.1 66h1.2v1.2h-1.2zM466.8 65.9h1.2v1.2h-1.2zM491.7 65.8h1.5v1.5h-1.5z" fill="#f6dfd7"/>
<path d="M469.8 71.2h1.2v1.2h-1.2zM469.4 71.3h1.2v1.2h-1.2z" fill="#f8c8b3"/>
<path d="M465 64.9h1.2v1.2h-1.2zM468.9 64.9h1.2v1.2h-1.2z" fill="#f6e4de"/>
<path d="M470.3 70.6h1.2v1.2h-1.2z" fill="#f8cbb7"/>
<path d="M491.6 87.3h1.2v1.2h-1.2z" fill="#f47963"/>
<path d="M472.9 82.4h1.2v1.2h-1.2zM491.2 82.4h1.2v1.2h-1.2zM493.7 82.4h1.2v1.2h-1.2zM491.5 82.4h1.2v1.2h-1.2z" fill="#f69279"/>
<path d="M497.1 64.1h1.2v1.2h-1.2zM464.6 66.5h1.3v1.3h-1.3zM507.9 68.3h1.3v1.3h-1.3zM462.4 64.2h1.3v1.3h-1.3zM505.1 65.8h1.3v1.3h-1.3zM505.8 67.2h1.3v1.3h-1.3zM507.5 65.1h1.3v1.3h-1.3z" fill="#f6e8e4"/>
<path d="M487 96.8h1.2v1.2h-1.2zM486.7 96.8h1.2v1.2h-1.2z" fill="#ef4a39"/>
<path d="M490.5 88h1.2v1.2h-1.2zM474.9 88.1h1.2v1.2h-1.2z" fill="#f37660"/>
<path d="M498.2 61.8h1.2v1.2h-1.2zM463.5 61.8h1.2v1.2h-1.2zM467.9 61.9h1.2v1.2h-1.2zM491.2 61.6h1.5v1.5h-1.5z" fill="#f5f2f3"/>
<path d="M486.5 97.2h1.2v1.2h-1.2zM487.8 97.2h1.2v1.2h-1.2z" fill="#ef4837"/>
<path d="M485.5 101.5h1.2v1.2h-1.2z" fill="#ed3323"/>
<path d="M473.9 81.2h1.2v1.2h-1.2zM471.4 81.1h1.2v1.2h-1.2zM473.7 81.1h1.2v1.2h-1.2z" fill="#f6987f"/>
<path d="M485.4 100.4h1.2v1.2h-1.2zM480.4 100.4h1.2v1.2h-1.2z" fill="#ed3828"/>
<path d="M497.5 67h1.2v1.2h-1.2zM474.1 66.8h1.5v1.5h-1.5z" fill="#f7dbd0"/>
<path d="M494.7 74.5h1.2v1.2h-1.2zM495.4 74.4h1.2v1.2h-1.2z" fill="#f9b99d"/>
<path d="M481.3 101.9h1.2v1.2h-1.2zM480.6 101.8h1.2v1.2h-1.2zM485.2 101.9h1.2v1.2h-1.2z" fill="#ed3122"/>
<path d="M497.2 66.8h1.2v1.2h-1.2zM496.3 66.8h1.2v1.2h-1.2zM479.7 66.7h1.5v1.5h-1.5z" fill="#f7dbd1"/>
<path d="M474 84.7h1.2v1.2h-1.2zM493.1 84.7h1.2v1.2h-1.2z" fill="#f5866f"/>
<path d="M497.1 71.7h1.2v1.2h-1.2z" fill="#f8c5b0"/>
<path d="M477.4 90.9h1.2v1.2h-1.2zM489.8 91h1.2v1.2h-1.2z" fill="#f26753"/>
<path d="M497.9 70.8h1.2v1.2h-1.2zM469.4 70.7h1.2v1.2h-1.2z" fill="#f8cab6"/>
<path d="M469.4 65.8h1.2v1.2h-1.2zM497.8 65.8h1.2v1.2h-1.2zM465.9 65.8h1.2v1.2h-1.2zM487.2 65.7h1.5v1.5h-1.5z" fill="#f6e0d8"/>
<path d="M493.3 82.2h1.2v1.2h-1.2z" fill="#f6937a"/>
<path d="M466.7 67.4h1.2v1.2h-1.2zM487 67.2h1.5v1.5h-1.5zM470.9 67.2h1.5v1.5h-1.5z" fill="#f7d9cd"/>
<path d="M502.1 64.8h1.2v1.2h-1.2z" fill="#f6e4df"/>
<path d="M476.7 91.7h1.2v1.2h-1.2zM476.4 91.7h1.2v1.2h-1.2z" fill="#f16450"/>
<path d="M467.2 63.5h1.2v1.2h-1.2zM494.9 63.5h1.5v1.5h-1.5zM477.9 63.5h1.5v1.5h-1.5z" fill="#f5eae7"/>
<path d="M466.3 72.6h1.2v1.2h-1.2zM494.2 72.6h1.2v1.2h-1.2zM465.5 77h1.3v1.3h-1.3z" fill="#f9c1a9"/>
<path d="M495.5 75.8h1.2v1.2h-1.2z" fill="#f9b297"/>
<path d="M498.1 66.3h1.2v1.2h-1.2zM497.9 66.2h1.2v1.2h-1.2zM467.1 66.2h1.2v1.2h-1.2zM499 66.3h1.2v1.2h-1.2zM466.8 66.3h1.2v1.2h-1.2zM478.7 66.1h1.5v1.5h-1.5zM473.5 66.1h1.5v1.5h-1.5zM490.7 66h1.5v1.5h-1.5z" fill="#f6ded5"/>
<path d="M477.9 94.5h1.2v1.2h-1.2zM487.7 94.4h1.2v1.2h-1.2z" fill="#f05643"/>
<path d="M466.7 60.7h1.2v1.2h-1.2zM497.7 60.7h1.2v1.2h-1.2zM473.4 60.6h1.5v1.5h-1.5zM478.7 60.6h1.5v1.5h-1.5z" fill="#eef1f4"/>
<path d="M480.1 101h1.2v1.2h-1.2zM480.7 101h1.2v1.2h-1.2zM486.7 100.9h1.2v1.2h-1.2z" fill="#ed3626"/>
<path d="M486.6 98h1.2v1.2h-1.2z" fill="#ef4433"/>
<path d="M464.1 62.9h1.2v1.2h-1.2zM476.7 62.7h1.5v1.5h-1.5zM489.4 62.7h1.5v1.5h-1.5zM476.1 62.7h1.5v1.5h-1.5z" fill="#f5edec"/>
<path d="M473.4 80.1h1.2v1.2h-1.2zM493.6 80.1h1.2v1.2h-1.2zM473.5 80.1h1.2v1.2h-1.2z" fill="#f79d84"/>
<path d="M474.3 82.9h1.2v1.2h-1.2zM469.8 87.2h1.3v1.3h-1.3z" fill="#f68f77"/>
<path d="M476.1 91.1h1.2v1.2h-1.2z" fill="#f26752"/>
<path d="M470.7 72.3h1.2v1.2h-1.2zM496.9 72.2h1.2v1.2h-1.2zM471.2 72.2h1.2v1.2h-1.2zM462.9 76.5h1.3v1.3h-1.3z" fill="#f9c3ac"/>
<path d="M464.3 60.6h1.2v1.2h-1.2zM490.9 60.4h1.5v1.5h-1.5zM487.2 60.5h1.5v1.5h-1.5zM494.8 60.4h1.5v1.5h-1.5z" fill="#edf0f4"/>
<path d="M479.4 97.3h1.2v1.2h-1.2z" fill="#ef4836"/>
<path d="M480.4 101.1h1.2v1.2h-1.2z" fill="#ed3525"/>
<path d="M486.3 98.9h1.2v1.2h-1.2zM479.7 98.8h1.2v1.2h-1.2zM480.2 98.8h1.2v1.2h-1.2z" fill="#ee402f"/>
<path d="M490.6 86.3h1.2v1.2h-1.2z" fill="#f47e68"/>
<path d="M464.2 63.9h1.2v1.2h-1.2z" fill="#f5e8e5"/>
<path d="M469.1 72.6h1.2v1.2h-1.2z" fill="#f9c2aa"/>
<path d="M478.7 95.7h1.2v1.2h-1.2z" fill="#f0503e"/>
<path d="M496.8 65.5h1.2v1.2h-1.2zM496.7 65.5h1.2v1.2h-1.2z" fill="#f6e1da"/>
<path d="M465.6 69.2h1.2v1.2h-1.2zM469.8 69.2h1.2v1.2h-1.2z" fill="#f7d1c1"/>
<path d="M491.4 83.7h1.2v1.2h-1.2z" fill="#f58b74"/>
<path d="M500.1 71.8h1.2v1.2h-1.2z" fill="#f8c5af"/>
<path d="M479.8 98.6h1.2v1.2h-1.2zM480 98.6h1.2v1.2h-1.2z" fill="#ee4131"/>
<path d="M490.6 87.6h1.2v1.2h-1.2zM490.6 87.6h1.2v1.2h-1.2z" fill="#f37862"/>
<path d="M480.7 102.7h1.2v1.2h-1.2z" fill="#ec2d1e"/>
<path d="M488.5 93.4h1.2v1.2h-1.2z" fill="#f15b48"/>
<path d="M502.6 62.2h1.2v1.2h-1.2zM498.9 62.3h1.2v1.2h-1.2zM491.8 62.1h1.5v1.5h-1.5z" fill="#f5f0f0"/>
<path d="M481.4 102.5h1.2v1.2h-1.2zM484.2 102.5h1.2v1.2h-1.2z" fill="#ec2e1f"/>
<path d="M487.9 95.3h1.2v1.2h-1.2zM478.8 95.4h1.2v1.2h-1.2z" fill="#f0513f"/>
<path d="M495 77h1.2v1.2h-1.2zM472.8 77h1.2v1.2h-1.2zM493.7 76.9h1.2v1.2h-1.2z" fill="#f8ad92"/>
<path d="M479.3 97.7h1.2v1.2h-1.2zM486.7 97.6h1.2v1.2h-1.2z" fill="#ef4635"/>
<path d="M488.1 94.9h1.2v1.2h-1.2zM477.9 94.9h1.2v1.2h-1.2z" fill="#f05441"/>
<path d="M477.8 94.6h1.2v1.2h-1.2zM477.8 94.7h1.2v1.2h-1.2zM477.4 94.6h1.2v1.2h-1.2z" fill="#f05542"/>
<path d="M485.3 100.2h1.2v1.2h-1.2z" fill="#ee3a29"/>
<path d="M466.5 63.4h1.2v1.2h-1.2zM479 63.2h1.5v1.5h-1.5zM487.4 63.2h1.5v1.5h-1.5z" fill="#f5ebe8"/>
<path d="M478 95.3h1.2v1.2h-1.2z" fill="#f05240"/>
<path d="M477.8 93.6h1.2v1.2h-1.2zM488.6 93.6h1.2v1.2h-1.2z" fill="#f15a47"/>
<path d="M465.8 73.3h1.2v1.2h-1.2zM495.5 73.3h1.2v1.2h-1.2z" fill="#f9bea5"/>
<path d="M473.7 85.5h1.2v1.2h-1.2zM475.5 85.6h1.2v1.2h-1.2zM473.9 89.8h1.3v1.3h-1.3zM492.8 89.8h1.3v1.3h-1.3z" fill="#f4826b"/>
<path d="M477.3 91.4h1.2v1.2h-1.2zM488.4 91.3h1.2v1.2h-1.2zM476.5 91.4h1.2v1.2h-1.2z" fill="#f26551"/>
<path d="M467.5 70.8h1.2v1.2h-1.2zM496 70.8h1.2v1.2h-1.2z" fill="#f8c9b6"/>
<path d="M472.8 79.8h1.2v1.2h-1.2z" fill="#f79e85"/>
<path d="M469.6 66.8h1.2v1.2h-1.2z" fill="#f7dcd1"/>
<path d="M475.4 86.9h1.2v1.2h-1.2z" fill="#f47b65"/>
<path d="M495.7 69.5h1.2v1.2h-1.2zM490.3 69.4h1.5v1.5h-1.5z" fill="#f8cfbf"/>
<path d="M495.7 77h1.2v1.2h-1.2zM470.6 77h1.2v1.2h-1.2z" fill="#f8ac92"/>
<path d="M497.9 62.7h1.2v1.2h-1.2z" fill="#f5eeed"/>
<path d="M476.2 87.7h1.2v1.2h-1.2z" fill="#f37761"/>
<path d="M474.9 92.4h1.2v1.2h-1.2z" fill="#f1604d"/>
<path d="M476.1 89.1h1.2v1.2h-1.2z" fill="#f3715b"/>
<path d="M471.5 80.8h1.2v1.2h-1.2zM472.3 80.8h1.2v1.2h-1.2zM491.9 80.8h1.2v1.2h-1.2z" fill="#f79a81"/>
<path d="M464.8 69.6h1.2v1.2h-1.2zM478.3 69.4h1.5v1.5h-1.5z" fill="#f8cfbe"/>
<path d="M492.9 81.8h1.2v1.2h-1.2zM470.5 81.8h1.2v1.2h-1.2z" fill="#f6957c"/>
<path d="M491.9 83.7h1.2v1.2h-1.2z" fill="#f58b73"/>
<path d="M498.6 70.1h1.2v1.2h-1.2z" fill="#f8cdbb"/>
<path d="M466.4 63.7h1.2v1.2h-1.2zM487.5 63.5h1.5v1.5h-1.5z" fill="#f5eae6"/>
<path d="M480.3 99.4h1.2v1.2h-1.2z" fill="#ee3d2d"/>
<path d="M472.8 80.9h1.2v1.2h-1.2zM472.7 80.9h1.2v1.2h-1.2zM472.4 80.9h1.2v1.2h-1.2z" fill="#f69980"/>
<path d="M464.4 61.5h1.2v1.2h-1.2zM479 61.4h1.5v1.5h-1.5zM491.1 61.3h1.5v1.5h-1.5zM477.4 61.3h1.5v1.5h-1.5zM485.2 61.4h1.5v1.5h-1.5z" fill="#f5f3f5"/>
<path d="M491.5 84.3h1.2v1.2h-1.2z" fill="#f58871"/>
<path d="M484.4 103h1.2v1.2h-1.2zM484 103h1.2v1.2h-1.2z" fill="#ec2b1d"/>
<path d="M469 70.4h1.2v1.2h-1.2zM496.4 70.5h1.2v1.2h-1.2zM499.2 70.5h1.2v1.2h-1.2z" fill="#f8cbb8"/>
<path d="M467.6 63.8h1.2v1.2h-1.2zM475.1 63.6h1.5v1.5h-1.5zM474.1 63.6h1.5v1.5h-1.5z" fill="#f5e9e6"/>
<path d="M488.7 95.5h1.2v1.2h-1.2zM475.9 95.5h1.2v1.2h-1.2z" fill="#f0513e"/>
<path d="M471.8 75.7h1.2v1.2h-1.2z" fill="#f9b397"/>
<path d="M471.8 79.9h1.2v1.2h-1.2zM470.4 80h1.2v1.2h-1.2z" fill="#f79e84"/>
<path d="M468.3 64.5h1.2v1.2h-1.2z" fill="#f6e6e1"/>
<path d="M470.8 71.6h1.2v1.2h-1.2z" fill="#f8c6b0"/>
<path d="M498.9 70.7h1.2v1.2h-1.2z" fill="#f8cab7"/>
<path d="M488 96.7h1.2v1.2h-1.2zM487.1 96.7h1.2v1.2h-1.2z" fill="#ef4b39"/>
<path d="M468.8 68.9h1.2v1.2h-1.2zM470.3 68.8h1.2v1.2h-1.2zM478.3 68.7h1.5v1.5h-1.5z" fill="#f7d2c3"/>
<path d="M487.2 95.3h1.2v1.2h-1.2z" fill="#f0523f"/>
<path d="M472.9 81.9h1.2v1.2h-1.2z" fill="#f6947c"/>
<path d="M472.9 88.7h1.2v1.2h-1.2zM491.5 88.8h1.2v1.2h-1.2z" fill="#f3725d"/>
<path d="M469.8 67.3h1.2v1.2h-1.2zM488.1 67.2h1.5v1.5h-1.5z" fill="#f7d9ce"/>
<path d="M497 72.9h1.2v1.2h-1.2z" fill="#f9c0a8"/>
<path d="M473.7 79.6h1.2v1.2h-1.2z" fill="#f7a086"/>
<path d="M468 60.8h1.2v1.2h-1.2z" fill="#eff1f4"/>
<path d="M476.3 92.4h1.2v1.2h-1.2zM488.4 92.5h1.2v1.2h-1.2z" fill="#f1604c"/>
<path d="M475.8 92.1h1.2v1.2h-1.2z" fill="#f1614e"/>
<path d="M496.4 67.6h1.2v1.2h-1.2zM496.1 67.6h1.2v1.2h-1.2zM465.4 71.8h1.3v1.3h-1.3z" fill="#f7d8cc"/>
<path d="M493.1 83.4h1.2v1.2h-1.2z" fill="#f58d75"/>
<path d="M475.2 84.4h1.2v1.2h-1.2z" fill="#f58870"/>
<path d="M469 68.4h1.2v1.2h-1.2zM496.3 68.4h1.2v1.2h-1.2z" fill="#f7d4c6"/>
<path d="M465.8 66.6h1.2v1.2h-1.2zM478.3 66.5h1.5v1.5h-1.5z" fill="#f6dcd2"/>
<path d="M497.9 74.1h1.2v1.2h-1.2zM471.4 74h1.2v1.2h-1.2zM469.9 74h1.2v1.2h-1.2z" fill="#f9bba0"/>
<path d="M492.1 86.6h1.2v1.2h-1.2z" fill="#f47d66"/>
<path d="M495.2 74.8h1.2v1.2h-1.2zM468.5 74.7h1.2v1.2h-1.2z" fill="#f9b89c"/>
<path d="M468.9 73.6h1.2v1.2h-1.2z" fill="#f9bda3"/>
<path d="M472.2 74.9h1.2v1.2h-1.2zM494.5 75h1.2v1.2h-1.2zM495.7 75h1.2v1.2h-1.2zM498.9 79.3h1.3v1.3h-1.3z" fill="#f9b79b"/>
<path d="M498.5 64.2h1.2v1.2h-1.2zM487 64h1.5v1.5h-1.5zM491.8 64h1.5v1.5h-1.5z" fill="#f6e7e3"/>
<path d="M474.7 83.5h1.2v1.2h-1.2z" fill="#f58c75"/>
<path d="M495.7 69.3h1.2v1.2h-1.2zM477.8 69.1h1.5v1.5h-1.5z" fill="#f8d1c0"/>
<path d="M469 74.3h1.2v1.2h-1.2z" fill="#f9ba9e"/>
<path d="M474.3 85.8h1.2v1.2h-1.2z" fill="#f4816a"/>
<path d="M466.8 68.2h1.2v1.2h-1.2zM497.2 68.2h1.2v1.2h-1.2zM476 68h1.5v1.5h-1.5zM492 68h1.5v1.5h-1.5z" fill="#f7d5c8"/>
<path d="M470.1 67.7h1.2v1.2h-1.2zM471.4 67.6h1.5v1.5h-1.5zM490.9 67.6h1.5v1.5h-1.5z" fill="#f7d7cb"/>
<path d="M494.4 73.9h1.2v1.2h-1.2z" fill="#f9bca1"/>
<path d="M500.4 69h1.2v1.2h-1.2z" fill="#f7d2c2"/>
<path d="M469.9 79.4h1.2v1.2h-1.2z" fill="#f7a187"/>
<path d="M479.8 100.2h1.2v1.2h-1.2zM480.2 100.1h1.2v1.2h-1.2z" fill="#ee3a2a"/>
<path d="M499.4 61.6h1.2v1.2h-1.2z" fill="#f5f3f4"/>
<path d="M496.5 72.4h1.2v1.2h-1.2zM469.5 72.5h1.2v1.2h-1.2z" fill="#f9c2ab"/>
<path d="M494.8 79h1.2v1.2h-1.2zM472.5 79h1.2v1.2h-1.2z" fill="#f7a389"/>
<path d="M497.2 65.3h1.2v1.2h-1.2zM505.7 69.6h1.3v1.3h-1.3zM478.5 65.2h1.5v1.5h-1.5zM473.3 65.2h1.5v1.5h-1.5z" fill="#f6e2db"/>
<path d="M481.1 102.4h1.2v1.2h-1.2z" fill="#ed2e1f"/>
<path d="M492.1 80.6h1.2v1.2h-1.2z" fill="#f79b82"/>
<path d="M503.5 60.9h1.2v1.2h-1.2zM476 60.8h1.5v1.5h-1.5z" fill="#f0f1f5"/>
<path d="M495.9 77.8h1.2v1.2h-1.2z" fill="#f8a98e"/>
<path d="M468.1 63.9h1.2v1.2h-1.2zM479.9 63.7h1.5v1.5h-1.5zM476.6 63.7h1.5v1.5h-1.5z" fill="#f5e9e5"/>
<path d="M490.1 90.7h1.2v1.2h-1.2z" fill="#f26854"/>
<path d="M479.4 98.2h1.2v1.2h-1.2z" fill="#ee4333"/>
<path d="M467.7 61h1.2v1.2h-1.2zM491.6 60.9h1.5v1.5h-1.5zM494.3 60.9h1.5v1.5h-1.5z" fill="#f1f2f5"/>
<path d="M480.4 101h1.2v1.2h-1.2z" fill="#ed3526"/>
<path d="M496.2 71.1h1.2v1.2h-1.2z" fill="#f8c8b4"/>
<path d="M471.8 75.1h1.2v1.2h-1.2z" fill="#f9b69b"/>
<path d="M476.4 91.3h1.2v1.2h-1.2z" fill="#f26651"/>
<path d="M486.9 97.4h1.2v1.2h-1.2zM487.8 97.5h1.2v1.2h-1.2z" fill="#ef4736"/>
<path d="M497.4 65.2h1.2v1.2h-1.2zM489.2 65.1h1.5v1.5h-1.5zM486.7 65.1h1.5v1.5h-1.5z" fill="#f6e3dc"/>
<path d="M486.8 96h1.2v1.2h-1.2z" fill="#ef4e3c"/>
<path d="M476.9 89.9h1.2v1.2h-1.2z" fill="#f26c58"/>
<path d="M467 62h1.2v1.2h-1.2zM476.7 61.8h1.5v1.5h-1.5zM495 61.8h1.5v1.5h-1.5zM490.2 61.8h1.5v1.5h-1.5z" fill="#f5f1f2"/>
<path d="M470.6 76.4h1.2v1.2h-1.2z" fill="#f9b095"/>
<path d="M479 99.4h1.2v1.2h-1.2z" fill="#ee3e2d"/>
<path d="M476.1 89.1h1.2v1.2h-1.2zM491.8 89.2h1.2v1.2h-1.2z" fill="#f3705b"/>
<path d="M480.4 102h1.2v1.2h-1.2z" fill="#ed3121"/>
<path d="M487.1 95.1h1.2v1.2h-1.2z" fill="#f05340"/>
<path d="M468.4 74.2h1.2v1.2h-1.2z" fill="#f9ba9f"/>
<path d="M484.4 103.2h1.2v1.2h-1.2z" fill="#ec2a1c"/>
<path d="M497.4 75.7h1.2v1.2h-1.2z" fill="#f9b398"/>
<path d="M469.7 69.3h1.2v1.2h-1.2zM468.7 69.3h1.2v1.2h-1.2zM474.9 69.2h1.5v1.5h-1.5z" fill="#f8d0c0"/>
<path d="M499.7 71.6h1.2v1.2h-1.2z" fill="#f8c6b1"/>
<path d="M493.6 75.5h1.2v1.2h-1.2z" fill="#f9b498"/>
<path d="M471.9 75.1h1.2v1.2h-1.2z" fill="#f9b69a"/>
<path d="M500.9 63.5h1.2v1.2h-1.2zM489.4 63.4h1.5v1.5h-1.5z" fill="#f5eae8"/>
<path d="M479.3 99.8h1.2v1.2h-1.2zM485.5 99.7h1.2v1.2h-1.2z" fill="#ee3c2b"/>
<path d="M471.8 75.3h1.2v1.2h-1.2z" fill="#f9b599"/>
<path d="M498.3 61h1.2v1.2h-1.2z" fill="#f0f2f5"/>
<path d="M473.6 86.2h1.2v1.2h-1.2z" fill="#f47f68"/>
<path d="M470.8 77.7h1.2v1.2h-1.2z" fill="#f8a98f"/>
<path d="M486.2 98.8h1.2v1.2h-1.2z" fill="#ee4030"/>
<path d="M488.3 92.6h1.2v1.2h-1.2z" fill="#f15f4c"/>
<path d="M485.5 101.2h1.2v1.2h-1.2z" fill="#ed3425"/>
<path d="M462.9 68.6h1.3v1.3h-1.3zM494.7 64.1h1.5v1.5h-1.5z" fill="#f6e7e2"/>
<path d="M471.9 84.7h1.3v1.3h-1.3z" fill="#f79c83"/>
<path d="M467.4 83.3h1.3v1.3h-1.3z" fill="#f7a288"/>
<path d="M470.2 80.2h1.3v1.3h-1.3z" fill="#f9b296"/>
<path d="M495.6 81.9h1.3v1.3h-1.3z" fill="#f8aa8f"/>
<path d="M490.1 94.4h1.3v1.3h-1.3z" fill="#f26b57"/>
<path d="M497.2 83.7h1.3v1.3h-1.3z" fill="#f7a087"/>
<path d="M466.2 77.6h1.3v1.3h-1.3z" fill="#f9bea4"/>
<path d="M505.6 69.5h1.3v1.3h-1.3z" fill="#f6e2dc"/>
<path d="M472.4 46.7h1.5v1.5h-1.5z" fill="#84bbdf"/>
<path d="M469.2 58.2h1.5v1.5h-1.5z" fill="#dae7f0"/>
<path d="M494 38.4h1.5v1.5h-1.5zM475.7 38.3h1.5v1.5h-1.5z" fill="#509cd2"/>
<path d="M476.7 44.6h1.5v1.5h-1.5z" fill="#77b3db"/>
<path d="M486.7 54.1h1.5v1.5h-1.5zM488.4 54.1h1.5v1.5h-1.5zM486.5 54.1h1.5v1.5h-1.5z" fill="#b6d7ea"/>
<path d="M493 57.2h1.5v1.5h-1.5zM483.5 57.2h1.5v1.5h-1.5z" fill="#d1e3ef"/>
<path d="M488.4 59.8h1.5v1.5h-1.5zM474.4 59.9h1.5v1.5h-1.5zM479.4 59.9h1.5v1.5h-1.5zM474.9 59.9h1.5v1.5h-1.5z" fill="#e8eef3"/>
<path d="M495.5 53.9h1.5v1.5h-1.5zM472.5 53.8h1.5v1.5h-1.5zM495.5 53.8h1.5v1.5h-1.5zM489.2 53.9h1.5v1.5h-1.5z" fill="#b4d6e9"/>
<path d="M477.4 56.8h1.5v1.5h-1.5z" fill="#cde2ee"/>
<path d="M484.8 46.1h1.5v1.5h-1.5zM493.2 46.1h1.5v1.5h-1.5z" fill="#80b9de"/>
<path d="M492 34.8h1.5v1.5h-1.5zM458.7 34.6h1.7v1.7h-1.7z" fill="#3c90cd"/>
<path d="M472.2 51.3h1.5v1.5h-1.5z" fill="#a1cce5"/>
<path d="M473.2 52.8h1.5v1.5h-1.5zM491 52.8h1.5v1.5h-1.5z" fill="#abd2e8"/>
<path d="M478.9 48.9h1.5v1.5h-1.5z" fill="#92c3e2"/>
<path d="M475.6 58.7h1.5v1.5h-1.5zM489.9 58.7h1.5v1.5h-1.5zM480.3 58.7h1.5v1.5h-1.5z" fill="#dee9f1"/>
<path d="M486.2 49.5h1.5v1.5h-1.5zM471.3 49.5h1.5v1.5h-1.5zM473.9 49.5h1.5v1.5h-1.5z" fill="#96c6e3"/>
<path d="M473.5 69.3h1.5v1.5h-1.5zM489.2 69.3h1.5v1.5h-1.5zM488.6 69.3h1.5v1.5h-1.5z" fill="#f8d0bf"/>
<path d="M474.3 60.2h1.5v1.5h-1.5zM482.5 60.2h1.5v1.5h-1.5z" fill="#ebeff4"/>
<path d="M476.1 46.3h1.5v1.5h-1.5zM482.3 46.3h1.5v1.5h-1.5z" fill="#82bade"/>
<path d="M477.4 54.2h1.5v1.5h-1.5zM491.8 54.2h1.5v1.5h-1.5z" fill="#b7d8ea"/>
<path d="M471.2 50.5h1.5v1.5h-1.5z" fill="#9ccae4"/>
<path d="M492.4 42.8h1.5v1.5h-1.5zM479.9 42.8h1.5v1.5h-1.5zM468.6 42.8h1.5v1.5h-1.5zM488.8 42.8h1.5v1.5h-1.5z" fill="#6cadd9"/>
<path d="M478.9 42h1.5v1.5h-1.5zM471.7 42h1.5v1.5h-1.5zM495.3 42h1.5v1.5h-1.5z" fill="#67aad7"/>
<path d="M480.1 56.3h1.5v1.5h-1.5zM490.5 56.2h1.5v1.5h-1.5z" fill="#c9e0ed"/>
<path d="M481.8 50.3h1.5v1.5h-1.5zM477.9 50.3h1.5v1.5h-1.5z" fill="#9bc9e4"/>
<path d="M487.2 32.8h1.5v1.5h-1.5zM486.2 32.7h1.5v1.5h-1.5zM477.2 32.7h1.5v1.5h-1.5zM488.1 32.6h1.5v1.5h-1.5zM493.9 32.7h1.5v1.5h-1.5zM472.9 32.8h1.5v1.5h-1.5zM464.6 32.6h1.3v1.3h-1.3zM467.8 32.9h1.3v1.3h-1.3zM459.2 32.6h1.7v1.7h-1.7z" fill="#378dca"/>
<path d="M474.6 59.6h1.5v1.5h-1.5z" fill="#e6edf3"/>
<path d="M476.6 46.9h1.5v1.5h-1.5z" fill="#85bcdf"/>
<path d="M487.5 50.9h1.5v1.5h-1.5z" fill="#9ecbe5"/>
<path d="M489.5 51.2h1.5v1.5h-1.5zM473.2 51.2h1.5v1.5h-1.5zM473.6 51.2h1.5v1.5h-1.5zM492.7 51.2h1.5v1.5h-1.5z" fill="#a0cce5"/>
<path d="M492 55.5h1.5v1.5h-1.5zM475.5 55.5h1.5v1.5h-1.5zM482 55.5h1.5v1.5h-1.5z" fill="#c2ddec"/>
<path d="M485.5 43.1h1.5v1.5h-1.5zM482.8 43.1h1.5v1.5h-1.5z" fill="#6eaed9"/>
<path d="M491.2 68.4h1.5v1.5h-1.5z" fill="#f7d4c5"/>
<path d="M475.9 61.2h1.5v1.5h-1.5zM479.7 61.1h1.5v1.5h-1.5zM474.4 61.1h1.5v1.5h-1.5z" fill="#f3f3f5"/>
<path d="M474.9 62h1.5v1.5h-1.5zM479.3 62h1.5v1.5h-1.5z" fill="#f5f1f1"/>
<path d="M476.9 60.1h1.5v1.5h-1.5z" fill="#eaeff3"/>
<path d="M479.6 42.6h1.5v1.5h-1.5zM476.6 42.5h1.5v1.5h-1.5zM495.5 42.5h1.5v1.5h-1.5z" fill="#6aacd8"/>
<path d="M478.7 54h1.5v1.5h-1.5zM474.2 54h1.5v1.5h-1.5zM493.9 54h1.5v1.5h-1.5z" fill="#b5d7ea"/>
<path d="M475.5 58.3h1.5v1.5h-1.5z" fill="#dae8f1"/>
<path d="M493.3 52.5h1.5v1.5h-1.5z" fill="#a8d1e7"/>
<path d="M490.6 57.6h1.5v1.5h-1.5zM487.7 57.5h1.5v1.5h-1.5zM491.9 57.6h1.5v1.5h-1.5z" fill="#d4e5ef"/>
<path d="M473 52.6h1.5v1.5h-1.5z" fill="#a9d1e7"/>
<path d="M480.7 33.3h1.5v1.5h-1.5zM486.3 33.2h1.5v1.5h-1.5zM492.2 33.4h1.3v1.3h-1.3zM457.9 33.4h1.3v1.3h-1.3zM469.8 33.1h1.7v1.7h-1.7zM503.3 33h1.7v1.7h-1.7z" fill="#388ecb"/>
<path d="M480 39h1.5v1.5h-1.5z" fill="#549fd3"/>
<path d="M481.4 67h1.5v1.5h-1.5zM479 66.9h1.5v1.5h-1.5zM470.6 66.9h1.5v1.5h-1.5zM492.2 66.9h1.5v1.5h-1.5z" fill="#f7dacf"/>
<path d="M476.3 68.5h1.5v1.5h-1.5zM489.7 68.5h1.5v1.5h-1.5z" fill="#f7d3c4"/>
<path d="M477.5 52h1.5v1.5h-1.5zM482.7 51.9h1.5v1.5h-1.5z" fill="#a5cfe6"/>
<path d="M484 44.4h1.5v1.5h-1.5z" fill="#76b3db"/>
<path d="M479.3 46h1.5v1.5h-1.5z" fill="#80b9dd"/>
<path d="M484.9 42.9h1.5v1.5h-1.5zM486.9 43h1.5v1.5h-1.5z" fill="#6dadd9"/>
<path d="M474.2 65.9h1.5v1.5h-1.5zM471 65.9h1.5v1.5h-1.5z" fill="#f6dfd6"/>
<path d="M477.1 53.5h1.5v1.5h-1.5zM485.8 53.4h1.5v1.5h-1.5z" fill="#b0d5e9"/>
<path d="M476.1 58h1.5v1.5h-1.5z" fill="#d8e7f0"/>
<path d="M474.6 45.7h1.5v1.5h-1.5zM476.4 45.7h1.5v1.5h-1.5zM472.7 45.7h1.5v1.5h-1.5z" fill="#7eb8dd"/>
<path d="M485.7 67.8h1.5v1.5h-1.5zM480.2 67.9h1.5v1.5h-1.5z" fill="#f7d6c9"/>
<path d="M491.8 52.1h1.5v1.5h-1.5zM478.5 52.1h1.5v1.5h-1.5z" fill="#a6cfe7"/>
<path d="M477.8 38.5h1.5v1.5h-1.5zM490.7 38.6h1.5v1.5h-1.5zM488.4 38.6h1.5v1.5h-1.5z" fill="#519dd2"/>
<path d="M478.3 53.9h1.5v1.5h-1.5z" fill="#b4d6ea"/>
<path d="M489.1 50h1.5v1.5h-1.5z" fill="#99c8e3"/>
<path d="M475.6 31.9h1.5v1.5h-1.5zM479.1 31.8h1.5v1.5h-1.5zM492.8 31.9h1.3v1.3h-1.3zM475.1 31.8h1.7v1.7h-1.7z" fill="#358bc9"/>
<path d="M471.3 48.3h1.5v1.5h-1.5z" fill="#8ec1e1"/>
<path d="M475 58.5h1.5v1.5h-1.5zM477.6 58.5h1.5v1.5h-1.5z" fill="#dce8f1"/>
<path d="M480.3 55h1.5v1.5h-1.5z" fill="#bedbeb"/>
<path d="M490.6 37h1.5v1.5h-1.5zM490.2 37h1.5v1.5h-1.5z" fill="#4797d0"/>
<path d="M474.6 36.2h1.5v1.5h-1.5zM474.8 36.2h1.3v1.3h-1.3z" fill="#4294cf"/>
<path d="M487.8 41h1.5v1.5h-1.5z" fill="#61a6d6"/>
<path d="M471.3 57.7h1.5v1.5h-1.5zM488.2 57.7h1.5v1.5h-1.5z" fill="#d5e5f0"/>
<path d="M478.8 40.5h1.5v1.5h-1.5zM477.2 40.5h1.5v1.5h-1.5zM488.5 40.5h1.5v1.5h-1.5z" fill="#5da4d5"/>
<path d="M489.4 32.4h1.5v1.5h-1.5zM503.2 32.3h1.7v1.7h-1.7z" fill="#368cca"/>
<path d="M490.2 62.4h1.5v1.5h-1.5z" fill="#f5efee"/>
<path d="M485.2 52.3h1.5v1.5h-1.5z" fill="#a7d0e7"/>
<path d="M476.8 69.5h1.5v1.5h-1.5z" fill="#f8cfbd"/>
<path d="M489.4 41.5h1.5v1.5h-1.5zM474.7 41.6h1.5v1.5h-1.5z" fill="#64a8d7"/>
<path d="M487.2 40.6h1.5v1.5h-1.5zM494.3 40.6h1.5v1.5h-1.5z" fill="#5ea5d5"/>
<path d="M473.4 58.3h1.5v1.5h-1.5z" fill="#dbe8f1"/>
<path d="M492.9 58.2h1.5v1.5h-1.5z" fill="#d9e7f0"/>
<path d="M483.7 50.7h1.5v1.5h-1.5z" fill="#9dcae5"/>
<path d="M470 34.9h1.5v1.5h-1.5z" fill="#3c91cd"/>
<path d="M476.4 44.2h1.5v1.5h-1.5zM479.6 44.3h1.5v1.5h-1.5z" fill="#75b2db"/>
<path d="M492 51h1.5v1.5h-1.5zM476.9 50.9h1.5v1.5h-1.5z" fill="#9fcbe5"/>
<path d="M485.3 39.4h1.5v1.5h-1.5zM490.1 39.5h1.3v1.3h-1.3z" fill="#57a0d4"/>
<path d="M476.2 55.7h1.5v1.5h-1.5z" fill="#c4ddec"/>
<path d="M487.5 58.9h1.5v1.5h-1.5z" fill="#dfeaf2"/>
<path d="M475.8 38.6h1.5v1.5h-1.5zM488.6 38.6h1.5v1.5h-1.5zM481.5 38.6h1.5v1.5h-1.5z" fill="#529dd2"/>
<path d="M490.4 41.1h1.5v1.5h-1.5z" fill="#61a7d6"/>
<path d="M473.7 34.4h1.5v1.5h-1.5zM477.8 34.4h1.5v1.5h-1.5zM498.5 34.5h1.3v1.3h-1.3zM476 34.4h1.3v1.3h-1.3zM497.4 34.4h1.7v1.7h-1.7z" fill="#3b90cc"/>
<path d="M478.6 53.6h1.5v1.5h-1.5z" fill="#b2d5e9"/>
<path d="M473.3 42.4h1.5v1.5h-1.5z" fill="#69abd8"/>
<path d="M479.9 55.7h1.5v1.5h-1.5z" fill="#c3ddec"/>
<path d="M483.6 34.3h1.5v1.5h-1.5z" fill="#3b8fcc"/>
<path d="M490.6 43.1h1.5v1.5h-1.5z" fill="#6daed9"/>
<path d="M498.2 45.8h1.5v1.5h-1.5zM492.6 45.8h1.5v1.5h-1.5zM470.8 45.8h1.5v1.5h-1.5z" fill="#7fb8dd"/>
<path d="M489.5 48.8h1.5v1.5h-1.5z" fill="#91c3e2"/>
<path d="M473.4 59.2h1.5v1.5h-1.5z" fill="#e3ebf2"/>
<path d="M478.5 57h1.5v1.5h-1.5zM474.7 57h1.5v1.5h-1.5z" fill="#cfe3ef"/>
<path d="M476.2 64.6h1.5v1.5h-1.5zM490.3 64.6h1.5v1.5h-1.5zM482.4 64.6h1.5v1.5h-1.5z" fill="#f6e5df"/>
<path d="M477.1 68.9h1.5v1.5h-1.5z" fill="#f7d1c2"/>
<path d="M473.2 37.8h1.5v1.5h-1.5z" fill="#4d9ad1"/>
<path d="M479.4 55.5h1.5v1.5h-1.5z" fill="#c2dcec"/>
<path d="M473.6 59.2h1.5v1.5h-1.5z" fill="#e2ebf2"/>
<path d="M473.3 45.6h1.5v1.5h-1.5zM487.6 45.6h1.5v1.5h-1.5z" fill="#7db7dd"/>
<path d="M471.1 57.4h1.5v1.5h-1.5z" fill="#d2e4ef"/>
<path d="M479.7 37.3h1.5v1.5h-1.5zM481.3 37.2h1.5v1.5h-1.5z" fill="#4998d0"/>
<path d="M484.9 35.8h1.5v1.5h-1.5zM470.5 35.7h1.7v1.7h-1.7z" fill="#4093ce"/>
<path d="M487 47.1h1.5v1.5h-1.5zM474.5 47.2h1.5v1.5h-1.5zM484.2 47.1h1.5v1.5h-1.5z" fill="#87bddf"/>
<path d="M493.2 32h1.5v1.5h-1.5zM481.8 32.1h1.5v1.5h-1.5zM457.7 32.2h1.3v1.3h-1.3z" fill="#358cca"/>
<path d="M486.5 52.2h1.5v1.5h-1.5z" fill="#a6d0e7"/>
<path d="M493.2 59.5h1.5v1.5h-1.5z" fill="#e5ecf3"/>
<path d="M477.4 47.4h1.5v1.5h-1.5zM480.9 47.5h1.5v1.5h-1.5z" fill="#89bee0"/>
<path d="M476.1 48.5h1.5v1.5h-1.5z" fill="#90c2e1"/>
<path d="M494.5 38.8h1.5v1.5h-1.5z" fill="#539ed3"/>
<path d="M484.9 38.7h1.5v1.5h-1.5z" fill="#529ed2"/>
<path d="M483.7 48.4h1.5v1.5h-1.5zM491.7 48.5h1.5v1.5h-1.5z" fill="#8fc2e1"/>
<path d="M488 45.4h1.5v1.5h-1.5z" fill="#7cb7dd"/>
<path d="M484.9 40.8h1.5v1.5h-1.5z" fill="#5fa5d6"/>
<path d="M486.1 43.3h1.5v1.5h-1.5zM492.8 43.4h1.5v1.5h-1.5z" fill="#6fafd9"/>
<path d="M476.4 43.6h1.5v1.5h-1.5z" fill="#71b0da"/>
<path d="M478.6 53.4h1.5v1.5h-1.5z" fill="#b0d4e9"/>
<path d="M469.3 43.5h1.5v1.5h-1.5z" fill="#70afda"/>
<path d="M472.3 63.8h1.5v1.5h-1.5z" fill="#f5e8e4"/>
<path d="M483.1 55.3h1.5v1.5h-1.5z" fill="#c1dcec"/>
<path d="M489.3 33.8h1.5v1.5h-1.5zM475.3 34h1.7v1.7h-1.7z" fill="#3a8fcc"/>
<path d="M482.1 60.3h1.5v1.5h-1.5z" fill="#eceff4"/>
<path d="M471.6 35.1h1.5v1.5h-1.5zM490.2 35.1h1.5v1.5h-1.5zM477.6 35.2h1.5v1.5h-1.5zM466.5 34.9h1.7v1.7h-1.7z" fill="#3d91cd"/>
<path d="M471.4 46.2h1.5v1.5h-1.5z" fill="#81bade"/>
<path d="M485.6 56.1h1.5v1.5h-1.5zM476.3 56h1.5v1.5h-1.5z" fill="#c7dfed"/>
<path d="M476.5 56.2h1.5v1.5h-1.5zM493.3 56.2h1.5v1.5h-1.5z" fill="#c8dfed"/>
<path d="M479.4 42.7h1.5v1.5h-1.5z" fill="#6bacd8"/>
<path d="M485.6 56.7h1.5v1.5h-1.5z" fill="#cce1ee"/>
<path d="M478.6 61.2h1.5v1.5h-1.5z" fill="#f4f3f5"/>
<path d="M485.3 49.7h1.5v1.5h-1.5z" fill="#97c6e3"/>
<path d="M499.1 36.6h1.5v1.5h-1.5zM487.8 36.6h1.5v1.5h-1.5zM496.2 36.8h1.3v1.3h-1.3z" fill="#4596cf"/>
<path d="M491.7 49.7h1.5v1.5h-1.5z" fill="#97c7e3"/>
<path d="M493.1 50.8h1.5v1.5h-1.5z" fill="#9ecae5"/>
<path d="M480 51.7h1.5v1.5h-1.5z" fill="#a4cee6"/>
<path d="M487.7 47.7h1.5v1.5h-1.5z" fill="#8abfe0"/>
<path d="M474.3 65.7h1.5v1.5h-1.5z" fill="#f6e0d7"/>
<path d="M469.4 53.4h1.5v1.5h-1.5z" fill="#afd4e9"/>
<path d="M477.1 49.2h1.5v1.5h-1.5z" fill="#94c5e2"/>
<path d="M484.6 58.9h1.5v1.5h-1.5z" fill="#e0eaf2"/>
<path d="M495.7 46.7h1.5v1.5h-1.5z" fill="#84bbde"/>
<path d="M488.6 54.6h1.5v1.5h-1.5z" fill="#bbd9eb"/>
<path d="M483 51.6h1.5v1.5h-1.5z" fill="#a3cde6"/>
<path d="M477.7 54.5h1.5v1.5h-1.5z" fill="#b9d9ea"/>
<path d="M490 40.3h1.5v1.5h-1.5z" fill="#5ca4d5"/>
<path d="M488.4 54.4h1.5v1.5h-1.5z" fill="#b9d8ea"/>
<path d="M484.8 44.6h1.5v1.5h-1.5zM494.5 44.6h1.5v1.5h-1.5zM473.4 44.6h1.5v1.5h-1.5z" fill="#77b4db"/>
<path d="M474.8 59.4h1.5v1.5h-1.5z" fill="#e4ecf2"/>
<path d="M481.6 36.3h1.5v1.5h-1.5zM491.5 36.4h1.3v1.3h-1.3z" fill="#4395cf"/>
<path d="M491.2 51.3h1.5v1.5h-1.5z" fill="#a1cde5"/>
<path d="M490.8 58.6h1.5v1.5h-1.5z" fill="#dde9f1"/>
<path d="M472.4 35.5h1.5v1.5h-1.5z" fill="#3e92ce"/>
<path d="M486.4 37.5h1.5v1.5h-1.5zM472.4 37.6h1.5v1.5h-1.5z" fill="#4b99d1"/>
<path d="M476.7 37.9h1.5v1.5h-1.5z" fill="#4d9bd1"/>
<path d="M482.9 63h1.5v1.5h-1.5z" fill="#f5ecea"/>
<path d="M488.8 32.8h1.5v1.5h-1.5z" fill="#378dcb"/>
<path d="M491.4 62.4h1.5v1.5h-1.5z" fill="#f5eeee"/>
<path d="M490.3 48.6h1.5v1.5h-1.5z" fill="#90c3e1"/>
<path d="M484.4 47.7h1.5v1.5h-1.5z" fill="#8bbfe0"/>
<path d="M490.5 42h1.5v1.5h-1.5z" fill="#66aad7"/>
<path d="M472.2 46.5h1.5v1.5h-1.5z" fill="#83bbde"/>
<path d="M481.6 55.8h1.5v1.5h-1.5z" fill="#c4deec"/>
<path d="M495.1 40.2h1.5v1.5h-1.5z" fill="#5ba3d5"/>
<path d="M480.6 54.9h1.5v1.5h-1.5z" fill="#bddaeb"/>
<path d="M479.2 44.9h1.5v1.5h-1.5z" fill="#79b5dc"/>
<path d="M473 35.9h1.5v1.5h-1.5z" fill="#4193ce"/>
<path d="M484.8 57.9h1.5v1.5h-1.5z" fill="#d7e6f0"/>
<path d="M487.7 62.2h1.5v1.5h-1.5z" fill="#f5f0ef"/>
<path d="M482.7 56.9h1.5v1.5h-1.5z" fill="#cfe2ee"/>
<path d="M476.6 59.6h1.5v1.5h-1.5z" fill="#e5edf3"/>
<path d="M472.6 38.2h1.5v1.5h-1.5z" fill="#4f9cd2"/>
<path d="M479.1 55.9h1.5v1.5h-1.5z" fill="#c5deed"/>
<path d="M491.7 41.8h1.5v1.5h-1.5z" fill="#66a9d7"/>
<path d="M496.3 28.8h1.3v1.3h-1.3zM462.8 28.6h1.3v1.3h-1.3z" fill="#2d86c6"/>
<path d="M501.7 29.1h1.3v1.3h-1.3zM506.3 29.1h1.3v1.3h-1.3z" fill="#2e86c6"/>
<path d="M495.5 30.3h1.3v1.3h-1.3zM476 30.2h1.3v1.3h-1.3z" fill="#3188c7"/>
<path d="M493.3 33.1h1.3v1.3h-1.3zM499.1 33h1.7v1.7h-1.7z" fill="#388dcb"/>
<path d="M475.9 30.6h1.3v1.3h-1.3z" fill="#3289c8"/>
<path d="M480.2 29.7h1.3v1.3h-1.3z" fill="#2f87c7"/>
<path d="M483.5 34.7h1.3v1.3h-1.3z" fill="#3b90cd"/>
<path d="M480.3 41.3h1.3v1.3h-1.3z" fill="#62a7d6"/>
<path d="M466.6 28.6h1.3v1.3h-1.3z" fill="#2d85c5"/>
<path d="M501.3 30.5h1.3v1.3h-1.3z" fill="#3189c8"/>
<path d="M468.4 37.3h1.3v1.3h-1.3z" fill="#4898d0"/>
<path d="M498.7 28h1.3v1.3h-1.3z" fill="#2b85c5"/>
<path d="M473.7 27.6h1.3v1.3h-1.3z" fill="#2a84c4"/>
<path d="M478.1 36.8h1.3v1.3h-1.3z" fill="#4696cf"/>
<path d="M488.9 31.5h1.3v1.3h-1.3zM503.4 31.5h1.7v1.7h-1.7z" fill="#348bc9"/>
<path d="M449.8 18.3h1.7v1.7h-1.7zM470.6 18.3h1.7v1.7h-1.7z" fill="#1474ba"/>
<path d="M509.8 21.1h1.7v1.7h-1.7zM512.4 21.1h1.7v1.7h-1.7zM524.8 21.1h1.7v1.7h-1.7zM537.1 21.1h1.7v1.7h-1.7z" fill="#1b79bd"/>
<path d="M470 22.6h1.7v1.7h-1.7zM460 22.6h1.7v1.7h-1.7zM490 22.6h1.7v1.7h-1.7zM466.3 22.6h1.7v1.7h-1.7z" fill="#1f7bbf"/>
<path d="M493.2 22.2h1.7v1.7h-1.7zM499.8 22.3h1.7v1.7h-1.7z" fill="#1e7bbe"/>
<path d="M491.1 23h1.7v1.7h-1.7zM493.4 23.1h1.7v1.7h-1.7zM487.4 23.2h1.7v1.7h-1.7zM458.8 23h1.7v1.7h-1.7zM469.7 23.1h1.7v1.7h-1.7zM459.1 23.1h1.7v1.7h-1.7zM491.7 23.1h1.7v1.7h-1.7zM459.9 23.2h1.7v1.7h-1.7zM497.4 23.2h1.7v1.7h-1.7zM495.8 23.1h1.7v1.7h-1.7zM455.2 23.1h1.7v1.7h-1.7zM463.9 23h1.7v1.7h-1.7z" fill="#207cbf"/>
<path d="M472.5 21.9h1.7v1.7h-1.7zM466.5 21.9h1.7v1.7h-1.7zM457.2 21.8h1.7v1.7h-1.7zM494.6 21.9h1.7v1.7h-1.7zM489.4 22h1.7v1.7h-1.7zM489.3 22.1h1.7v1.7h-1.7zM478 22h1.7v1.7h-1.7zM456.3 21.8h1.7v1.7h-1.7zM456.5 22h1.7v1.7h-1.7zM498 22h1.7v1.7h-1.7z" fill="#1d7abe"/>
<path d="M479 23.4h1.7v1.7h-1.7zM495.7 23.5h1.7v1.7h-1.7zM467.6 23.7h1.7v1.7h-1.7z" fill="#217dc0"/>
<path d="M489.2 22.5h1.7v1.7h-1.7zM488.9 22.5h1.7v1.7h-1.7zM456.3 22.5h1.7v1.7h-1.7z" fill="#1e7bbf"/>
<path d="M470.7 22.7h1.7v1.7h-1.7zM499.3 22.8h1.7v1.7h-1.7zM499.5 22.9h1.7v1.7h-1.7zM493.4 22.8h1.7v1.7h-1.7z" fill="#1f7cbf"/>
<path d="M468.2 23.3h1.7v1.7h-1.7zM500 23.3h1.7v1.7h-1.7z" fill="#207dc0"/>
<path d="M470.6 26.6h1.7v1.7h-1.7zM484.1 26.3h1.7v1.7h-1.7z" fill="#2882c3"/>
<path d="M477.9 26.7h1.7v1.7h-1.7zM481.3 27.1h1.7v1.7h-1.7zM458.7 27.1h1.7v1.7h-1.7z" fill="#2983c4"/>
<path d="M457.4 25.4h1.7v1.7h-1.7z" fill="#2580c2"/>
<path d="M465.8 25.9h1.7v1.7h-1.7zM473.9 25.9h1.7v1.7h-1.7zM497.7 26h1.7v1.7h-1.7z" fill="#2781c3"/>
<path d="M491.9 25.8h1.7v1.7h-1.7z" fill="#2681c3"/>
<path d="M484 33.6h1.7v1.7h-1.7z" fill="#398fcc"/>
<path d="M508.1 30.8h1.7v1.7h-1.7zM498 30.9h1.7v1.7h-1.7z" fill="#338ac8"/>
<path d="M469.1 31.1h1.7v1.7h-1.7z" fill="#338ac9"/>
<line x1="483.5" y1="54.3" x2="483.5" y2="95.2" stroke="#fff" stroke-width="0.6"/>
<line x1="436.1" y1="66.3" x2="543.6" y2="66.3" stroke="#8a8a8a" stroke-width="0.45" stroke-opacity="0.75"/>
<line x1="476.5" y1="14.9" x2="476.5" y2="109.1" stroke="#7a7a7a" stroke-width="0.45" stroke-opacity="0.7"/>
<line x1="490" y1="14.9" x2="490" y2="109.1" stroke="#7a7a7a" stroke-width="0.45" stroke-opacity="0.7"/>
<text x="455.7" y="111.7" font-size="1.8" text-anchor="middle" fill="#666">-5</text>
<text x="483.5" y="111.7" font-size="1.8" text-anchor="middle" fill="#666">0</text>
<text x="511.8" y="111.7" font-size="1.8" text-anchor="middle" fill="#666">5</text>
<text x="540.2" y="111.7" font-size="1.8" text-anchor="middle" fill="#666">10</text>
<text x="434.8" y="16.6" font-size="1.8" text-anchor="end" fill="#666">10</text>
<text x="434.8" y="37.6" font-size="1.8" text-anchor="end" fill="#666">6</text>
<text x="434.8" y="60.6" font-size="1.8" text-anchor="end" fill="#666">4</text>
<text x="434.8" y="82.6" font-size="1.8" text-anchor="end" fill="#666">2</text>
<text x="434.8" y="105.6" font-size="1.8" text-anchor="end" fill="#666">0</text>
<text x="488.4" y="114.3" font-size="2.0" text-anchor="middle" fill="#555">log2FC</text>
<text x="430.1" y="73" font-size="1.8" text-anchor="middle" fill="#555" transform="rotate(-90 430.1 73)">-log10(P)</text>
<defs><linearGradient id="vg2" x1="0" y1="0" x2="0" y2="1"><stop offset="0" stop-color="#1471BA"/><stop offset="0.45" stop-color="#F2F2F4"/><stop offset="1" stop-color="#EC2A1C"/></linearGradient></defs>
<text x="438.3" y="47.2" font-size="2.2" fill="#444">-log10_pvalue</text>
<rect x="438" y="48.2" width="3.4" height="18" fill="url(#vg2)"/>
<text x="443.5" y="51.2" font-size="1.5" fill="#666">2.0</text>
<text x="443.5" y="55.5" font-size="1.5" fill="#666">1.5</text>
<text x="443.5" y="59.8" font-size="1.5" fill="#666">1.0</text>
<text x="443.5" y="64.1" font-size="1.5" fill="#666">0.5</text>
<text x="486.8" y="128.6" font-size="5.5" font-weight="bold" text-anchor="middle" fill="#000">AKG vs Model</text>
<rect x="53.8" y="166" width="65" height="112.6" fill="#fff" stroke="#e0e0e0" stroke-width="0.4"/>
<line x1="53.8" y1="166" x2="53.8" y2="278.6" stroke="#ebebeb" stroke-width="0.4"/>
<line x1="75.3" y1="166" x2="75.3" y2="278.6" stroke="#ebebeb" stroke-width="0.4"/>
<line x1="96.8" y1="166" x2="96.8" y2="278.6" stroke="#ebebeb" stroke-width="0.4"/>
<line x1="118.3" y1="166" x2="118.3" y2="278.6" stroke="#ebebeb" stroke-width="0.4"/>
<rect x="53.8" y="167.6" width="25.8" height="6" fill="#C000CC"/>
<text x="49.8" y="171.6" font-size="2.9" text-anchor="end" fill="#4d4d4d" textLength="12.3" lengthAdjust="spacingAndGlyphs">Ferroptosis</text>
<line x1="51.1" y1="170.6" x2="52.3" y2="170.6" stroke="#555" stroke-width="0.3"/>
<rect x="53.8" y="174.9" width="34.4" height="6" fill="#C000CC"/>
<text x="49.8" y="179" font-size="2.9" text-anchor="end" fill="#4d4d4d" textLength="30.2" lengthAdjust="spacingAndGlyphs">Biosynthesis of amino acids</text>
<line x1="51.1" y1="177.9" x2="52.3" y2="177.9" stroke="#555" stroke-width="0.3"/>
<rect x="53.8" y="182.3" width="47.3" height="6" fill="#C000CC"/>
<text x="49.8" y="186.3" font-size="2.9" text-anchor="end" fill="#4d4d4d" textLength="10.5" lengthAdjust="spacingAndGlyphs">Cell cycle</text>
<line x1="51.1" y1="185.3" x2="52.3" y2="185.3" stroke="#555" stroke-width="0.3"/>
<rect x="53.8" y="189.6" width="30.1" height="6" fill="#C200CA"/>
<text x="49.8" y="193.6" font-size="2.9" text-anchor="end" fill="#4d4d4d" textLength="32" lengthAdjust="spacingAndGlyphs">Aminoacyl-tRNA biosynthesis</text>
<line x1="51.1" y1="192.6" x2="52.3" y2="192.6" stroke="#555" stroke-width="0.3"/>
<rect x="53.8" y="196.9" width="47.3" height="6" fill="#C400C8"/>
<text x="49.8" y="201" font-size="2.9" text-anchor="end" fill="#4d4d4d" textLength="27.3" lengthAdjust="spacingAndGlyphs">mTOR signaling pathway</text>
<line x1="51.1" y1="199.9" x2="52.3" y2="199.9" stroke="#555" stroke-width="0.3"/>
<rect x="53.8" y="204.2" width="30.1" height="6" fill="#DC00A8"/>
<text x="49.8" y="208.3" font-size="2.9" text-anchor="end" fill="#4d4d4d" textLength="25.7" lengthAdjust="spacingAndGlyphs">Glutathione metabolism</text>
<line x1="51.1" y1="207.2" x2="52.3" y2="207.2" stroke="#555" stroke-width="0.3"/>
<rect x="53.8" y="211.6" width="30.1" height="6" fill="#DE00A6"/>
<text x="49.8" y="215.6" font-size="2.9" text-anchor="end" fill="#4d4d4d" textLength="24.2" lengthAdjust="spacingAndGlyphs">p53 signaling pathway</text>
<line x1="51.1" y1="214.6" x2="52.3" y2="214.6" stroke="#555" stroke-width="0.3"/>
<rect x="53.8" y="218.9" width="17.2" height="6" fill="#EE0880"/>
<text x="49.8" y="221.4" font-size="2.9" text-anchor="end" fill="#4d4d4d" textLength="22.1" lengthAdjust="spacingAndGlyphs">Terpenoid backbone</text>
<text x="49.8" y="224.2" font-size="2.9" text-anchor="end" fill="#4d4d4d" textLength="13.5" lengthAdjust="spacingAndGlyphs">biosynthesis</text>
<line x1="51.1" y1="221.9" x2="52.3" y2="221.9" stroke="#555" stroke-width="0.3"/>
<rect x="53.8" y="226.2" width="30.1" height="6" fill="#fc0008"/>
<text x="49.8" y="230.3" font-size="2.9" text-anchor="end" fill="#4d4d4d" textLength="31.7" lengthAdjust="spacingAndGlyphs">Longevity regulating pathway</text>
<line x1="51.1" y1="229.2" x2="52.3" y2="229.2" stroke="#555" stroke-width="0.3"/>
<rect x="53.8" y="233.6" width="25.8" height="6" fill="#fb000c"/>
<text x="49.8" y="236.1" font-size="2.9" text-anchor="end" fill="#4d4d4d" textLength="31.9" lengthAdjust="spacingAndGlyphs">Central carbon metabolism in</text>
<text x="49.8" y="238.8" font-size="2.9" text-anchor="end" fill="#4d4d4d" textLength="7.4" lengthAdjust="spacingAndGlyphs">cancer</text>
<line x1="51.1" y1="236.6" x2="52.3" y2="236.6" stroke="#555" stroke-width="0.3"/>
<rect x="53.8" y="240.9" width="30.1" height="6" fill="#fc000a"/>
<text x="49.8" y="243.4" font-size="2.9" text-anchor="end" fill="#4d4d4d" textLength="33.5" lengthAdjust="spacingAndGlyphs">Progesterone-mediated oocyte</text>
<text x="49.8" y="246.2" font-size="2.9" text-anchor="end" fill="#4d4d4d" textLength="11.6" lengthAdjust="spacingAndGlyphs">maturation</text>
<line x1="51.1" y1="243.9" x2="52.3" y2="243.9" stroke="#555" stroke-width="0.3"/>
<rect x="53.8" y="248.2" width="21.5" height="6" fill="#fc0008"/>
<text x="49.8" y="252.3" font-size="2.9" text-anchor="end" fill="#4d4d4d" textLength="25.6" lengthAdjust="spacingAndGlyphs">Cholesterol metabolism</text>
<line x1="51.1" y1="251.2" x2="52.3" y2="251.2" stroke="#555" stroke-width="0.3"/>
<rect x="53.8" y="255.6" width="34.4" height="6" fill="#fd0006"/>
<text x="49.8" y="258.1" font-size="2.9" text-anchor="end" fill="#4d4d4d" textLength="26" lengthAdjust="spacingAndGlyphs">Ribosome biogenesis in</text>
<text x="49.8" y="260.8" font-size="2.9" text-anchor="end" fill="#4d4d4d" textLength="12" lengthAdjust="spacingAndGlyphs">eukaryotes</text>
<line x1="51.1" y1="258.6" x2="52.3" y2="258.6" stroke="#555" stroke-width="0.3"/>
<rect x="53.8" y="262.9" width="21.5" height="6" fill="#fd0004"/>
<text x="49.8" y="265.4" font-size="2.9" text-anchor="end" fill="#4d4d4d" textLength="30.4" lengthAdjust="spacingAndGlyphs">Amino sugar and nucleotide</text>
<text x="49.8" y="268.1" font-size="2.9" text-anchor="end" fill="#4d4d4d" textLength="19.3" lengthAdjust="spacingAndGlyphs">sugar metabolism</text>
<line x1="51.1" y1="265.9" x2="52.3" y2="265.9" stroke="#555" stroke-width="0.3"/>
<rect x="53.8" y="270.2" width="43" height="6" fill="#ff0000"/>
<text x="49.8" y="274.3" font-size="2.9" text-anchor="end" fill="#4d4d4d" textLength="22.1" lengthAdjust="spacingAndGlyphs">Cellular senescence</text>
<line x1="51.1" y1="273.2" x2="52.3" y2="273.2" stroke="#555" stroke-width="0.3"/>
<rect x="20.5" y="195.7" width="90.9" height="8.2" fill="none" stroke="#4E8B3A" stroke-width="0.6"/>
<rect x="20.5" y="211.2" width="90.9" height="8" fill="none" stroke="#4E8B3A" stroke-width="0.6"/>
<text x="53.8" y="281.2" font-size="2.2" text-anchor="middle" fill="#444">0</text>
<line x1="53.8" y1="278.6" x2="53.8" y2="279.2" stroke="#555" stroke-width="0.3"/>
<text x="75.3" y="281.2" font-size="2.2" text-anchor="middle" fill="#444">5</text>
<line x1="75.3" y1="278.6" x2="75.3" y2="279.2" stroke="#555" stroke-width="0.3"/>
<text x="96.8" y="281.2" font-size="2.2" text-anchor="middle" fill="#444">10</text>
<line x1="96.8" y1="278.6" x2="96.8" y2="279.2" stroke="#555" stroke-width="0.3"/>
<text x="118.3" y="281.2" font-size="2.2" text-anchor="middle" fill="#444">15</text>
<line x1="118.3" y1="278.6" x2="118.3" y2="279.2" stroke="#555" stroke-width="0.3"/>
<text x="86.3" y="284" font-size="2.3" text-anchor="middle" fill="#333">Count</text>
<defs><linearGradient id="eg1" x1="0" y1="0" x2="0" y2="1"><stop offset="0" stop-color="#FF0000"/><stop offset="1" stop-color="#C400D6"/></linearGradient></defs>
<text x="121.8" y="214.8" font-size="2.9" fill="#222">p.adjust</text>
<rect x="122" y="215.8" width="3.4" height="17.5" fill="url(#eg1)"/>
<text x="126.8" y="218.3" font-size="1.7" fill="#444">0.01</text>
<text x="126.8" y="222.6" font-size="1.7" fill="#444">0.02</text>
<text x="126.8" y="226.9" font-size="1.7" fill="#444">0.03</text>
<text x="126.8" y="231.2" font-size="1.7" fill="#444">0.04</text>
<text x="85.3" y="292.1" font-size="5.8" font-weight="bold" text-anchor="middle" fill="#000" textLength="35" lengthAdjust="spacingAndGlyphs">AKG vs Model</text>
<rect x="179.3" y="168.3" width="81.3" height="102.3" fill="#fff" stroke="#e0e0e0" stroke-width="0.4"/>
<line x1="179.3" y1="168.3" x2="179.3" y2="270.6" stroke="#ebebeb" stroke-width="0.4"/>
<line x1="206.5" y1="168.3" x2="206.5" y2="270.6" stroke="#ebebeb" stroke-width="0.4"/>
<line x1="233.6" y1="168.3" x2="233.6" y2="270.6" stroke="#ebebeb" stroke-width="0.4"/>
<line x1="260.8" y1="168.3" x2="260.8" y2="270.6" stroke="#ebebeb" stroke-width="0.4"/>
<rect x="179.3" y="170.4" width="38" height="5.8" fill="#B800D4"/>
<text x="174.8" y="174.5" font-size="3.2" text-anchor="end" fill="#4d4d4d" textLength="26.9" lengthAdjust="spacingAndGlyphs">p53 signaling pathway</text>
<line x1="176.3" y1="173.3" x2="177.7" y2="173.3" stroke="#555" stroke-width="0.3"/>
<rect x="179.3" y="177.1" width="27.1" height="5.8" fill="#C200C4"/>
<text x="174.8" y="181.1" font-size="3.2" text-anchor="end" fill="#4d4d4d" textLength="13.6" lengthAdjust="spacingAndGlyphs">Ferroptosis</text>
<line x1="176.3" y1="180" x2="177.7" y2="180" stroke="#555" stroke-width="0.3"/>
<rect x="179.3" y="183.7" width="48.9" height="5.8" fill="#C400C2"/>
<text x="174.8" y="187.8" font-size="3.2" text-anchor="end" fill="#4d4d4d" textLength="11.6" lengthAdjust="spacingAndGlyphs">Cell cycle</text>
<line x1="176.3" y1="186.6" x2="177.7" y2="186.6" stroke="#555" stroke-width="0.3"/>
<rect x="179.3" y="190.4" width="32.6" height="5.8" fill="#F4087C"/>
<text x="174.8" y="194.4" font-size="3.2" text-anchor="end" fill="#4d4d4d" textLength="33.6" lengthAdjust="spacingAndGlyphs">Biosynthesis of amino acids</text>
<line x1="176.3" y1="193.3" x2="177.7" y2="193.3" stroke="#555" stroke-width="0.3"/>
<rect x="179.3" y="197" width="32.6" height="5.8" fill="#F4087C"/>
<text x="174.8" y="201.1" font-size="3.2" text-anchor="end" fill="#4d4d4d" textLength="35.2" lengthAdjust="spacingAndGlyphs">Longevity regulating pathway</text>
<line x1="176.3" y1="199.9" x2="177.7" y2="199.9" stroke="#555" stroke-width="0.3"/>
<rect x="179.3" y="203.7" width="43.4" height="5.8" fill="#F4087A"/>
<text x="174.8" y="207.7" font-size="3.2" text-anchor="end" fill="#4d4d4d" textLength="30.3" lengthAdjust="spacingAndGlyphs">mTOR signaling pathway</text>
<line x1="176.3" y1="206.6" x2="177.7" y2="206.6" stroke="#555" stroke-width="0.3"/>
<rect x="179.3" y="210.3" width="38" height="5.8" fill="#F4087A"/>
<text x="174.8" y="212.7" font-size="3.2" text-anchor="end" fill="#4d4d4d" textLength="28.9" lengthAdjust="spacingAndGlyphs">Ribosome biogenesis in</text>
<text x="174.8" y="215.7" font-size="3.2" text-anchor="end" fill="#4d4d4d" textLength="13.3" lengthAdjust="spacingAndGlyphs">eukaryotes</text>
<line x1="176.3" y1="213.2" x2="177.7" y2="213.2" stroke="#555" stroke-width="0.3"/>
<rect x="179.3" y="217" width="32.6" height="5.8" fill="#F4087A"/>
<text x="174.8" y="219.3" font-size="3.2" text-anchor="end" fill="#4d4d4d" textLength="37.2" lengthAdjust="spacingAndGlyphs">Progesterone-mediated oocyte</text>
<text x="174.8" y="222.4" font-size="3.2" text-anchor="end" fill="#4d4d4d" textLength="12.9" lengthAdjust="spacingAndGlyphs">maturation</text>
<line x1="176.3" y1="219.9" x2="177.7" y2="219.9" stroke="#555" stroke-width="0.3"/>
<rect x="179.3" y="223.6" width="27.1" height="5.8" fill="#F4087A"/>
<text x="174.8" y="227.7" font-size="3.2" text-anchor="end" fill="#4d4d4d" textLength="35.5" lengthAdjust="spacingAndGlyphs">Aminoacyl-tRNA biosynthesis</text>
<line x1="176.3" y1="226.5" x2="177.7" y2="226.5" stroke="#555" stroke-width="0.3"/>
<rect x="179.3" y="230.2" width="27.1" height="5.8" fill="#F4087A"/>
<text x="174.8" y="232.6" font-size="3.2" text-anchor="end" fill="#4d4d4d" textLength="35.4" lengthAdjust="spacingAndGlyphs">Central carbon metabolism in</text>
<text x="174.8" y="235.7" font-size="3.2" text-anchor="end" fill="#4d4d4d" textLength="8.2" lengthAdjust="spacingAndGlyphs">cancer</text>
<line x1="176.3" y1="233.2" x2="177.7" y2="233.2" stroke="#555" stroke-width="0.3"/>
<rect x="179.3" y="236.9" width="27.1" height="5.8" fill="#F40878"/>
<text x="174.8" y="241" font-size="3.2" text-anchor="end" fill="#4d4d4d" textLength="28.6" lengthAdjust="spacingAndGlyphs">Glutathione metabolism</text>
<line x1="176.3" y1="239.8" x2="177.7" y2="239.8" stroke="#555" stroke-width="0.3"/>
<rect x="179.3" y="243.6" width="16.3" height="5.8" fill="#F8104E"/>
<text x="174.8" y="245.9" font-size="3.2" text-anchor="end" fill="#4d4d4d" textLength="24.5" lengthAdjust="spacingAndGlyphs">Terpenoid backbone</text>
<text x="174.8" y="249" font-size="3.2" text-anchor="end" fill="#4d4d4d" textLength="15" lengthAdjust="spacingAndGlyphs">biosynthesis</text>
<line x1="176.3" y1="246.5" x2="177.7" y2="246.5" stroke="#555" stroke-width="0.3"/>
<rect x="179.3" y="250.2" width="21.7" height="5.8" fill="#FA0A1A"/>
<text x="174.8" y="254.3" font-size="3.2" text-anchor="end" fill="#4d4d4d" textLength="28.4" lengthAdjust="spacingAndGlyphs">Cholesterol metabolism</text>
<line x1="176.3" y1="253.1" x2="177.7" y2="253.1" stroke="#555" stroke-width="0.3"/>
<rect x="179.3" y="256.9" width="21.7" height="5.8" fill="#FA0A1A"/>
<text x="174.8" y="259.2" font-size="3.2" text-anchor="end" fill="#4d4d4d" textLength="33.7" lengthAdjust="spacingAndGlyphs">Amino sugar and nucleotide</text>
<text x="174.8" y="262.3" font-size="3.2" text-anchor="end" fill="#4d4d4d" textLength="21.5" lengthAdjust="spacingAndGlyphs">sugar metabolism</text>
<line x1="176.3" y1="259.8" x2="177.7" y2="259.8" stroke="#555" stroke-width="0.3"/>
<rect x="179.3" y="263.5" width="48.9" height="5.8" fill="#FA0A14"/>
<text x="174.8" y="267.6" font-size="3.2" text-anchor="end" fill="#4d4d4d" textLength="34.2" lengthAdjust="spacingAndGlyphs">Cytoskeleton in muscle cells</text>
<line x1="176.3" y1="266.4" x2="177.7" y2="266.4" stroke="#555" stroke-width="0.3"/>
<rect x="142.4" y="170.3" width="91.9" height="6.3" fill="none" stroke="#4E8B3A" stroke-width="0.6"/>
<rect x="140.5" y="203.2" width="90.9" height="6.4" fill="none" stroke="#4E8B3A" stroke-width="0.6"/>
<text x="179.3" y="273.2" font-size="2.2" text-anchor="middle" fill="#444">0</text>
<line x1="179.3" y1="270.6" x2="179.3" y2="271.2" stroke="#555" stroke-width="0.3"/>
<text x="206.5" y="273.2" font-size="2.2" text-anchor="middle" fill="#444">5</text>
<line x1="206.5" y1="270.6" x2="206.5" y2="271.2" stroke="#555" stroke-width="0.3"/>
<text x="233.6" y="273.2" font-size="2.2" text-anchor="middle" fill="#444">10</text>
<line x1="233.6" y1="270.6" x2="233.6" y2="271.2" stroke="#555" stroke-width="0.3"/>
<text x="260.8" y="273.2" font-size="2.2" text-anchor="middle" fill="#444">15</text>
<line x1="260.8" y1="270.6" x2="260.8" y2="271.2" stroke="#555" stroke-width="0.3"/>
<text x="220" y="276" font-size="2.3" text-anchor="middle" fill="#333">Count</text>
<defs><linearGradient id="eg2" x1="0" y1="0" x2="0" y2="1"><stop offset="0" stop-color="#FF0000"/><stop offset="1" stop-color="#C400D6"/></linearGradient></defs>
<text x="264.1" y="211" font-size="2.9" fill="#222">p.adjust</text>
<rect x="264.3" y="212" width="3.4" height="17.5" fill="url(#eg2)"/>
<text x="269.1" y="214.5" font-size="1.7" fill="#444">0.01</text>
<text x="269.1" y="218.8" font-size="1.7" fill="#444">0.02</text>
<text x="269.1" y="223.1" font-size="1.7" fill="#444">0.03</text>
<text x="269.1" y="227.4" font-size="1.7" fill="#444">0.04</text>
<text x="218.9" y="290" font-size="5.8" font-weight="bold" text-anchor="middle" fill="#000" textLength="13.8" lengthAdjust="spacingAndGlyphs">DEPs</text>
<rect x="14.8" y="318.3" width="135.6" height="36.1" fill="#fff" stroke="#cfcfcf" stroke-width="0.4"/>
<line x1="47.3" y1="318.3" x2="47.3" y2="354.4" stroke="#ececec" stroke-width="0.4"/>
<line x1="79.8" y1="318.3" x2="79.8" y2="354.4" stroke="#ececec" stroke-width="0.4"/>
<line x1="112.3" y1="318.3" x2="112.3" y2="354.4" stroke="#ececec" stroke-width="0.4"/>
<line x1="144.8" y1="318.3" x2="144.8" y2="354.4" stroke="#ececec" stroke-width="0.4"/>
<polyline points="14.8,319.7 20,321.3 25,322.8 30,324.3 34.8,325.6 35,323.9 36,324.2 41.5,326 41.7,324.8 46,326.3 51.9,328 55,328.9 59.8,330.3 60,329.4 63.8,330.6 64,329.8 66.5,330.6 66.7,329.9 75,333.3 84.1,337.6 90.4,342.3 90.6,341.3 97,343.8 104.4,347.2 104.6,346.3 110,348.6 116,350.9 116.2,349.6 119.3,348.6 120.3,349.2 120.5,347.6 122.3,347 126,348.7 130,350.2 130.2,347.6 131.5,346.6 133.5,347.6 135.5,345.5 135.7,344.4 137.5,345.4 138,345.2 138.2,343 139.8,343.2 140,340.4 141.2,338.4 141.6,338.2 141.8,335.8 143.1,334.4 143.5,334.6 143.7,334.9 146.1,335.6 146.5,335.5 146.7,328 147.3,322.2 148.5,319.1 149.8,319.8" fill="none" stroke="#333" stroke-width="0.5" stroke-linejoin="round"/>
<text x="15.4" y="316.9" font-size="3.1" fill="#222">mTORC1_pathway</text>
<text x="8.3" y="336.4" font-size="2.6" text-anchor="middle" fill="#333" transform="rotate(-90 8.3 336.4)">Running Enrichment Score</text>
<text x="14" y="321.9" font-size="1.6" text-anchor="end" fill="#444">0.0</text>
<line x1="14.2" y1="321.3" x2="14.8" y2="321.3" stroke="#666" stroke-width="0.3"/>
<text x="14" y="332.6" font-size="1.6" text-anchor="end" fill="#444">-0.2</text>
<line x1="14.2" y1="332" x2="14.8" y2="332" stroke="#666" stroke-width="0.3"/>
<text x="14" y="343.3" font-size="1.6" text-anchor="end" fill="#444">-0.4</text>
<line x1="14.2" y1="342.7" x2="14.8" y2="342.7" stroke="#666" stroke-width="0.3"/>
<text x="14" y="354" font-size="1.6" text-anchor="end" fill="#444">-0.6</text>
<line x1="14.2" y1="353.4" x2="14.8" y2="353.4" stroke="#666" stroke-width="0.3"/>
<line x1="35" y1="351.8" x2="35" y2="354.4" stroke="#666" stroke-width="0.35"/>
<line x1="41.7" y1="351.8" x2="41.7" y2="354.4" stroke="#666" stroke-width="0.35"/>
<line x1="60" y1="351.8" x2="60" y2="354.4" stroke="#666" stroke-width="0.35"/>
<line x1="64" y1="351.8" x2="64" y2="354.4" stroke="#666" stroke-width="0.35"/>
<line x1="66.7" y1="351.8" x2="66.7" y2="354.4" stroke="#666" stroke-width="0.35"/>
<line x1="90.6" y1="351.8" x2="90.6" y2="354.4" stroke="#666" stroke-width="0.35"/>
<line x1="104.6" y1="351.8" x2="104.6" y2="354.4" stroke="#666" stroke-width="0.35"/>
<line x1="116.2" y1="351.8" x2="116.2" y2="354.4" stroke="#666" stroke-width="0.35"/>
<line x1="120.5" y1="351.8" x2="120.5" y2="354.4" stroke="#666" stroke-width="0.35"/>
<line x1="130.2" y1="351.8" x2="130.2" y2="354.4" stroke="#666" stroke-width="0.35"/>
<line x1="135.7" y1="351.8" x2="135.7" y2="354.4" stroke="#666" stroke-width="0.35"/>
<line x1="138.2" y1="351.8" x2="138.2" y2="354.4" stroke="#666" stroke-width="0.35"/>
<line x1="140" y1="351.8" x2="140" y2="354.4" stroke="#666" stroke-width="0.35"/>
<line x1="141.8" y1="351.8" x2="141.8" y2="354.4" stroke="#666" stroke-width="0.35"/>
<line x1="143.7" y1="351.8" x2="143.7" y2="354.4" stroke="#666" stroke-width="0.35"/>
<line x1="146.7" y1="351.8" x2="146.7" y2="354.4" stroke="#666" stroke-width="0.35"/>
<rect x="14.8" y="355.6" width="3.1" height="9.9" fill="#C8151B"/>
<rect x="17.9" y="355.6" width="7.5" height="9.9" fill="#EE5B4B"/>
<rect x="25.3" y="355.6" width="9.8" height="9.9" fill="#F9A48C"/>
<rect x="35" y="355.6" width="10.7" height="9.9" fill="#FCDDD0"/>
<rect x="45.6" y="355.6" width="4" height="9.9" fill="#EEF1F8"/>
<rect x="49.6" y="355.6" width="48.9" height="9.9" fill="#AED2E7"/>
<rect x="98.4" y="355.6" width="7.9" height="9.9" fill="#4DA3D5"/>
<rect x="106.3" y="355.6" width="23.8" height="9.9" fill="#1C82C4"/>
<rect x="130" y="355.6" width="20.5" height="9.9" fill="#0E5EA8"/>
<rect x="14.8" y="367" width="135.6" height="22.2" fill="#fff" stroke="#cfcfcf" stroke-width="0.4"/>
<line x1="47.3" y1="367" x2="47.3" y2="389.2" stroke="#ececec" stroke-width="0.4"/>
<line x1="79.8" y1="367" x2="79.8" y2="389.2" stroke="#ececec" stroke-width="0.4"/>
<line x1="112.3" y1="367" x2="112.3" y2="389.2" stroke="#ececec" stroke-width="0.4"/>
<line x1="144.8" y1="367" x2="144.8" y2="389.2" stroke="#ececec" stroke-width="0.4"/>
<line x1="14.8" y1="378.4" x2="150.4" y2="378.4" stroke="#e0e0e0" stroke-width="0.4"/>
<polygon points="14.8,378.4 14.8,373.4 15.9,374.5 17.1,375.2 18.2,375.8 19.3,376.2 20.4,376.5 21.6,376.8 22.7,376.9 23.8,377.1 25,377.2 26.1,377.3 27.2,377.3 28.4,377.4 29.5,377.5 30.6,377.5 31.8,377.5 32.9,377.6 34,377.6 35.1,377.7 36.3,377.7 37.4,377.7 38.5,377.8 39.7,377.8 40.8,377.8 41.9,377.9 43,377.9 44.2,377.9 45.3,377.9 46.4,378 47.6,378 48.7,378 49.8,378 51,378.1 52.1,378.1 53.2,378.1 54.4,378.1 55.5,378.2 56.6,378.2 57.7,378.2 58.9,378.2 60,378.2 61.1,378.3 62.3,378.3 63.4,378.3 64.5,378.3 65.6,378.3 66.8,378.3 67.9,378.3 69,378.4 70.2,378.4 71.3,378.4 72.4,378.4 73.6,378.4 74.7,378.4 75.8,378.4 76.9,378.4 78.1,378.4 79.2,378.4 80.3,378.4 81.5,378.4 82.6,378.4 82.6,378.4" fill="#cbcbcb" stroke="#b0b0b0" stroke-width="0.2"/>
<polygon points="82.6,378.4 82.6,378.4 83.7,378.4 84.9,378.4 86,378.4 87.1,378.4 88.2,378.4 89.4,378.4 90.5,378.4 91.6,378.4 92.8,378.4 93.9,378.4 95,378.5 96.2,378.5 97.3,378.5 98.4,378.5 99.5,378.5 100.7,378.6 101.8,378.6 102.9,378.6 104.1,378.6 105.2,378.7 106.3,378.7 107.5,378.7 108.6,378.8 109.7,378.8 110.8,378.9 112,378.9 113.1,378.9 114.2,379 115.4,379 116.5,379.1 117.6,379.1 118.8,379.1 119.9,379.2 121,379.2 122.2,379.3 123.3,379.3 124.4,379.4 125.5,379.5 126.7,379.5 127.8,379.6 128.9,379.6 130.1,379.7 131.2,379.8 132.3,379.8 133.4,379.9 134.6,380 135.7,380.1 136.8,380.2 138,380.3 139.1,380.5 140.2,380.6 141.4,380.8 142.5,381.1 143.6,381.4 144.8,381.8 145.9,382.2 147,382.9 148.1,383.6 149.3,384.7 150.4,386 150.4,378.4" fill="#cbcbcb" stroke="#b0b0b0" stroke-width="0.2"/>
<text x="8.3" y="378.1" font-size="2.6" text-anchor="middle" fill="#333" transform="rotate(-90 8.3 378.1)">Ranked List Metric</text>
<text x="14" y="372.5" font-size="1.6" text-anchor="end" fill="#444">0.5</text>
<line x1="14.2" y1="371.9" x2="14.8" y2="371.9" stroke="#666" stroke-width="0.3"/>
<text x="14" y="379" font-size="1.6" text-anchor="end" fill="#444">0.0</text>
<line x1="14.2" y1="378.4" x2="14.8" y2="378.4" stroke="#666" stroke-width="0.3"/>
<text x="14" y="385.5" font-size="1.6" text-anchor="end" fill="#444">-0.5</text>
<line x1="14.2" y1="384.9" x2="14.8" y2="384.9" stroke="#666" stroke-width="0.3"/>
<text x="47.3" y="392" font-size="1.9" text-anchor="middle" fill="#333">5000</text>
<text x="79.8" y="392" font-size="1.9" text-anchor="middle" fill="#333">10000</text>
<text x="112.3" y="392" font-size="1.9" text-anchor="middle" fill="#333">15000</text>
<text x="144.8" y="392" font-size="1.9" text-anchor="middle" fill="#333">20000</text>
<text x="82.8" y="395.2" font-size="2.7" text-anchor="middle" fill="#222">Rank in Ordered Dataset</text>
<rect x="174" y="309" width="116.3" height="43.6" fill="#fff" stroke="#cfcfcf" stroke-width="0.4"/>
<line x1="201.9" y1="309" x2="201.9" y2="352.6" stroke="#ececec" stroke-width="0.4"/>
<line x1="229.8" y1="309" x2="229.8" y2="352.6" stroke="#ececec" stroke-width="0.4"/>
<line x1="257.6" y1="309" x2="257.6" y2="352.6" stroke="#ececec" stroke-width="0.4"/>
<line x1="285.5" y1="309" x2="285.5" y2="352.6" stroke="#ececec" stroke-width="0.4"/>
<polyline points="174.4,313.1 175,312.4 175.6,312.2 176.2,312.3 176.8,311.2 177.4,311.7 177.9,311.6 178.4,312.3 179,312.3 179.5,312.3 180,312.7 180.5,313.4 181,313.8 181.5,314.3 182,314.3 182.5,315.3 183,315.4 183.5,315.5 184,316.2 184.5,316.2 185,316.8 185.5,316.3 186,316.9 186.5,317.2 187,316.9 187.5,317 188,317.3 188.5,318 189,317.8 189.5,317.5 190,317.4 190.5,318.1 191,318 191.5,317.9 192,318.8 192.5,318.6 193,318.6 193.5,319.5 194,319.8 194.5,319.5 195,320.3 195.5,320.5 196,319.9 196.5,319.3 197,319.1 197.5,319 198,319.1 198.5,319.4 199,319.1 199.6,319.1 200.1,317.9 200.7,318 201.3,318.2 201.8,318.9 202.4,319.8 203,320.5 203.5,321.1 204,321.1 204.5,321.8 205,321.7 205.5,321.7 206,322.7 206.5,322.4 207,323.4 207.5,322.8 208,323.3 208.5,323.9 209,324 209.5,323.8 210,324.3 210.5,325.2 211,325.4 211.5,325.3 212,325.2 212.5,325.3 213,325.7 213.5,326.5 214,326.7 214.5,326.2 215,326.5 215.5,327.4 216,327.5 216.5,327.4 217,328 217.5,327.7 218,328 218.5,328.8 219,328.7 219.5,328.7 220,328.8 220.5,329.7 221,329.9 221.5,330.2 222,329.8 222.5,330.2 223,330.3 223.5,331.1 224,330.9 224.5,331.2 225,331.7 225.5,331.6 226,332.1 226.5,332.9 227,333.2 227.5,332.8 228,333.3 228.5,333.5 229,334 229.5,334.3 230,334.5 230.5,334.2 231,334.7 231.5,335.7 232,335 232.5,336.1 233,336.6 233.5,336.6 234,336.5 234.5,337 235,337.3 235.5,337.7 236,337.6 236.5,338.5 237,338.9 237.5,338.7 238,339.2 238.5,340.1 239,339.8 239.5,340.4 240,341 240.5,341.1 241,342.1 241.5,342.1 242,342.4 242.5,343.4 243,343.1 243.5,343.9 244,344 244.5,344.1 245,344.5 245.5,344.9 246,345 246.5,345.6 247,345.7 247.5,345.6 248,345.5 248.5,346.4 249,346.2 249.5,346.1 250,347 250.5,346.7 251.1,346.9 251.6,347.7 252.2,348 252.7,347.7 253.2,348.4 253.8,348.7 254.3,348.5 254.9,348.4 255.4,348.6 255.9,349 256.4,349.2 257,349.6 257.5,349.1 258,350.1 258.5,350.3 259,349.7 259.5,350.4 260,350.1 260.5,351.1 261,350.7 261.5,350.4 262,349.9 262.5,349.7 263,348.9 263.5,349.6 264,349.9 264.5,350.6 265,350.3 265.5,350 266,349.7 266.5,349.5 267,348.8 267.5,348.4 268,348.5 268.5,347.4 269.1,347 269.6,347.3 270.1,347.1 270.6,346.8 271.1,346.7 271.7,346.2 272.2,345.9 272.8,345.9 273.3,345.9 273.9,346.2 274.4,346.4 275,346.4 275.5,346 276,346.1 276.5,345.8 277,345 277.5,345.1 278,344.9 278.5,345.1 279,345.6 279.5,345 280,345.4 280.5,346 281,345.9 281.5,345.5 282,345 282.5,344.9 283,344.6 283.5,344.5 284,343.9 284.5,343 285,343 285.5,342.8 286,341.8 286.6,338.5 287.1,335.3 287.7,331 288.4,329.8 289.1,328.8 289.6,321.5 290.2,314.6" fill="none" stroke="#3A3AF2" stroke-width="0.85" stroke-linejoin="round"/>
<text x="174.6" y="307.6" font-size="2.7" fill="#222">p53 signaling pathway</text>
<text x="169" y="330.8" font-size="2.35" text-anchor="middle" fill="#333" transform="rotate(-90 169 330.8)">Running Enrichment Score</text>
<text x="173.2" y="312.6" font-size="1.6" text-anchor="end" fill="#444">0.1</text>
<line x1="173.4" y1="312" x2="174" y2="312" stroke="#666" stroke-width="0.3"/>
<text x="173.2" y="320.5" font-size="1.6" text-anchor="end" fill="#444">0.0</text>
<line x1="173.4" y1="319.9" x2="174" y2="319.9" stroke="#666" stroke-width="0.3"/>
<text x="173.2" y="328.4" font-size="1.6" text-anchor="end" fill="#444">-0.1</text>
<line x1="173.4" y1="327.8" x2="174" y2="327.8" stroke="#666" stroke-width="0.3"/>
<text x="173.2" y="336.4" font-size="1.6" text-anchor="end" fill="#444">-0.2</text>
<line x1="173.4" y1="335.8" x2="174" y2="335.8" stroke="#666" stroke-width="0.3"/>
<text x="173.2" y="344.3" font-size="1.6" text-anchor="end" fill="#444">-0.3</text>
<line x1="173.4" y1="343.7" x2="174" y2="343.7" stroke="#666" stroke-width="0.3"/>
<text x="173.2" y="352.2" font-size="1.6" text-anchor="end" fill="#444">-0.4</text>
<line x1="173.4" y1="351.6" x2="174" y2="351.6" stroke="#666" stroke-width="0.3"/>
<line x1="174.9" y1="353.8" x2="174.9" y2="363.7" stroke="#4b4b4b" stroke-width="0.45"/>
<line x1="175.4" y1="353.8" x2="175.4" y2="363.7" stroke="#6d6d6d" stroke-width="0.45"/>
<line x1="183.7" y1="353.8" x2="183.7" y2="363.7" stroke="#9c9c9c" stroke-width="0.45"/>
<line x1="184.5" y1="353.8" x2="184.5" y2="363.7" stroke="#898989" stroke-width="0.45"/>
<line x1="185" y1="353.8" x2="185" y2="363.7" stroke="#8f8f8f" stroke-width="0.45"/>
<line x1="188.6" y1="353.8" x2="188.6" y2="363.7" stroke="#5a5a5a" stroke-width="0.45"/>
<line x1="189.1" y1="353.8" x2="189.1" y2="363.7" stroke="#757575" stroke-width="0.45"/>
<line x1="189.7" y1="353.8" x2="189.7" y2="363.7" stroke="#838383" stroke-width="0.45"/>
<line x1="190.5" y1="353.8" x2="190.5" y2="363.7" stroke="#898989" stroke-width="0.45"/>
<line x1="190.9" y1="353.8" x2="190.9" y2="363.7" stroke="#686868" stroke-width="0.45"/>
<line x1="191.5" y1="353.8" x2="191.5" y2="363.7" stroke="#6e6e6e" stroke-width="0.45"/>
<line x1="195.1" y1="353.8" x2="195.1" y2="363.7" stroke="#4f4f4f" stroke-width="0.45"/>
<line x1="195.6" y1="353.8" x2="195.6" y2="363.7" stroke="#0f0f0f" stroke-width="0.45"/>
<line x1="196.1" y1="353.8" x2="196.1" y2="363.7" stroke="#0f0f0f" stroke-width="0.45"/>
<line x1="196.8" y1="353.8" x2="196.8" y2="363.7" stroke="#222222" stroke-width="0.45"/>
<line x1="197.6" y1="353.8" x2="197.6" y2="363.7" stroke="#141414" stroke-width="0.45"/>
<line x1="198.9" y1="353.8" x2="198.9" y2="363.7" stroke="#2d2d2d" stroke-width="0.45"/>
<line x1="199.5" y1="353.8" x2="199.5" y2="363.7" stroke="#0f0f0f" stroke-width="0.45"/>
<line x1="203.3" y1="353.8" x2="203.3" y2="363.7" stroke="#767676" stroke-width="0.45"/>
<line x1="203.8" y1="353.8" x2="203.8" y2="363.7" stroke="#808080" stroke-width="0.45"/>
<line x1="207.1" y1="353.8" x2="207.1" y2="363.7" stroke="#a0a0a0" stroke-width="0.45"/>
<line x1="207.9" y1="353.8" x2="207.9" y2="363.7" stroke="#757575" stroke-width="0.45"/>
<line x1="208.4" y1="353.8" x2="208.4" y2="363.7" stroke="#3a3a3a" stroke-width="0.45"/>
<line x1="209.8" y1="353.8" x2="209.8" y2="363.7" stroke="#787878" stroke-width="0.45"/>
<line x1="210.5" y1="353.8" x2="210.5" y2="363.7" stroke="#939393" stroke-width="0.45"/>
<line x1="211" y1="353.8" x2="211" y2="363.7" stroke="#808080" stroke-width="0.45"/>
<line x1="215.3" y1="353.8" x2="215.3" y2="363.7" stroke="#0f0f0f" stroke-width="0.45"/>
<line x1="215.9" y1="353.8" x2="215.9" y2="363.7" stroke="#262626" stroke-width="0.45"/>
<line x1="217.5" y1="353.8" x2="217.5" y2="363.7" stroke="#8f8f8f" stroke-width="0.45"/>
<line x1="218.3" y1="353.8" x2="218.3" y2="363.7" stroke="#4e4e4e" stroke-width="0.45"/>
<line x1="218.9" y1="353.8" x2="218.9" y2="363.7" stroke="#6b6b6b" stroke-width="0.45"/>
<line x1="219.8" y1="353.8" x2="219.8" y2="363.7" stroke="#828282" stroke-width="0.45"/>
<line x1="220.7" y1="353.8" x2="220.7" y2="363.7" stroke="#555555" stroke-width="0.45"/>
<line x1="221.5" y1="353.8" x2="221.5" y2="363.7" stroke="#474747" stroke-width="0.45"/>
<line x1="222" y1="353.8" x2="222" y2="363.7" stroke="#7c7c7c" stroke-width="0.45"/>
<line x1="222.7" y1="353.8" x2="222.7" y2="363.7" stroke="#505050" stroke-width="0.45"/>
<line x1="223.2" y1="353.8" x2="223.2" y2="363.7" stroke="#3c3c3c" stroke-width="0.45"/>
<line x1="223.7" y1="353.8" x2="223.7" y2="363.7" stroke="#3a3a3a" stroke-width="0.45"/>
<line x1="224.3" y1="353.8" x2="224.3" y2="363.7" stroke="#464646" stroke-width="0.45"/>
<line x1="225.1" y1="353.8" x2="225.1" y2="363.7" stroke="#797979" stroke-width="0.45"/>
<line x1="225.8" y1="353.8" x2="225.8" y2="363.7" stroke="#5d5d5d" stroke-width="0.45"/>
<line x1="226.5" y1="353.8" x2="226.5" y2="363.7" stroke="#7c7c7c" stroke-width="0.45"/>
<line x1="227" y1="353.8" x2="227" y2="363.7" stroke="#252525" stroke-width="0.45"/>
<line x1="227.6" y1="353.8" x2="227.6" y2="363.7" stroke="#737373" stroke-width="0.45"/>
<line x1="228.2" y1="353.8" x2="228.2" y2="363.7" stroke="#3b3b3b" stroke-width="0.45"/>
<line x1="228.7" y1="353.8" x2="228.7" y2="363.7" stroke="#272727" stroke-width="0.45"/>
<line x1="229.3" y1="353.8" x2="229.3" y2="363.7" stroke="#656565" stroke-width="0.45"/>
<line x1="230.1" y1="353.8" x2="230.1" y2="363.7" stroke="#4e4e4e" stroke-width="0.45"/>
<line x1="230.6" y1="353.8" x2="230.6" y2="363.7" stroke="#6c6c6c" stroke-width="0.45"/>
<line x1="231.4" y1="353.8" x2="231.4" y2="363.7" stroke="#454545" stroke-width="0.45"/>
<line x1="231.1" y1="353.8" x2="231.1" y2="363.7" stroke="#484848" stroke-width="0.45"/>
<line x1="231.7" y1="353.8" x2="231.7" y2="363.7" stroke="#858585" stroke-width="0.45"/>
<line x1="232.4" y1="353.8" x2="232.4" y2="363.7" stroke="#808080" stroke-width="0.45"/>
<line x1="235.3" y1="353.8" x2="235.3" y2="363.7" stroke="#a8a8a8" stroke-width="0.45"/>
<line x1="236" y1="353.8" x2="236" y2="363.7" stroke="#676767" stroke-width="0.45"/>
<line x1="236.9" y1="353.8" x2="236.9" y2="363.7" stroke="#9b9b9b" stroke-width="0.45"/>
<line x1="237.7" y1="353.8" x2="237.7" y2="363.7" stroke="#929292" stroke-width="0.45"/>
<line x1="238.3" y1="353.8" x2="238.3" y2="363.7" stroke="#787878" stroke-width="0.45"/>
<line x1="241.5" y1="353.8" x2="241.5" y2="363.7" stroke="#989898" stroke-width="0.45"/>
<line x1="242.1" y1="353.8" x2="242.1" y2="363.7" stroke="#4e4e4e" stroke-width="0.45"/>
<line x1="242.7" y1="353.8" x2="242.7" y2="363.7" stroke="#9d9d9d" stroke-width="0.45"/>
<line x1="243.4" y1="353.8" x2="243.4" y2="363.7" stroke="#7f7f7f" stroke-width="0.45"/>
<line x1="244.9" y1="353.8" x2="244.9" y2="363.7" stroke="#343434" stroke-width="0.45"/>
<line x1="245.7" y1="353.8" x2="245.7" y2="363.7" stroke="#1f1f1f" stroke-width="0.45"/>
<line x1="246.2" y1="353.8" x2="246.2" y2="363.7" stroke="#212121" stroke-width="0.45"/>
<line x1="246.8" y1="353.8" x2="246.8" y2="363.7" stroke="#373737" stroke-width="0.45"/>
<line x1="247.7" y1="353.8" x2="247.7" y2="363.7" stroke="#777777" stroke-width="0.45"/>
<line x1="248.2" y1="353.8" x2="248.2" y2="363.7" stroke="#626262" stroke-width="0.45"/>
<line x1="248.9" y1="353.8" x2="248.9" y2="363.7" stroke="#3d3d3d" stroke-width="0.45"/>
<line x1="251.6" y1="353.8" x2="251.6" y2="363.7" stroke="#353535" stroke-width="0.45"/>
<line x1="252.4" y1="353.8" x2="252.4" y2="363.7" stroke="#2f2f2f" stroke-width="0.45"/>
<line x1="255.6" y1="353.8" x2="255.6" y2="363.7" stroke="#464646" stroke-width="0.45"/>
<line x1="256.2" y1="353.8" x2="256.2" y2="363.7" stroke="#555555" stroke-width="0.45"/>
<line x1="257" y1="353.8" x2="257" y2="363.7" stroke="#7a7a7a" stroke-width="0.45"/>
<line x1="257.9" y1="353.8" x2="257.9" y2="363.7" stroke="#8f8f8f" stroke-width="0.45"/>
<line x1="258.4" y1="353.8" x2="258.4" y2="363.7" stroke="#5a5a5a" stroke-width="0.45"/>
<line x1="261.2" y1="353.8" x2="261.2" y2="363.7" stroke="#5b5b5b" stroke-width="0.45"/>
<line x1="261.9" y1="353.8" x2="261.9" y2="363.7" stroke="#282828" stroke-width="0.45"/>
<line x1="262.5" y1="353.8" x2="262.5" y2="363.7" stroke="#4c4c4c" stroke-width="0.45"/>
<line x1="263.1" y1="353.8" x2="263.1" y2="363.7" stroke="#151515" stroke-width="0.45"/>
<line x1="265.2" y1="353.8" x2="265.2" y2="363.7" stroke="#979797" stroke-width="0.45"/>
<line x1="266.1" y1="353.8" x2="266.1" y2="363.7" stroke="#767676" stroke-width="0.45"/>
<line x1="266.8" y1="353.8" x2="266.8" y2="363.7" stroke="#3c3c3c" stroke-width="0.45"/>
<line x1="268" y1="353.8" x2="268" y2="363.7" stroke="#1f1f1f" stroke-width="0.45"/>
<line x1="268.7" y1="353.8" x2="268.7" y2="363.7" stroke="#272727" stroke-width="0.45"/>
<line x1="269.3" y1="353.8" x2="269.3" y2="363.7" stroke="#121212" stroke-width="0.45"/>
<line x1="270" y1="353.8" x2="270" y2="363.7" stroke="#3a3a3a" stroke-width="0.45"/>
<line x1="270.7" y1="353.8" x2="270.7" y2="363.7" stroke="#202020" stroke-width="0.45"/>
<line x1="271.3" y1="353.8" x2="271.3" y2="363.7" stroke="#454545" stroke-width="0.45"/>
<line x1="273.6" y1="353.8" x2="273.6" y2="363.7" stroke="#757575" stroke-width="0.45"/>
<line x1="274.5" y1="353.8" x2="274.5" y2="363.7" stroke="#515151" stroke-width="0.45"/>
<line x1="277.5" y1="353.8" x2="277.5" y2="363.7" stroke="#767676" stroke-width="0.45"/>
<line x1="278.1" y1="353.8" x2="278.1" y2="363.7" stroke="#535353" stroke-width="0.45"/>
<line x1="278.7" y1="353.8" x2="278.7" y2="363.7" stroke="#909090" stroke-width="0.45"/>
<line x1="279.5" y1="353.8" x2="279.5" y2="363.7" stroke="#575757" stroke-width="0.45"/>
<line x1="280.1" y1="353.8" x2="280.1" y2="363.7" stroke="#4f4f4f" stroke-width="0.45"/>
<line x1="281.5" y1="353.8" x2="281.5" y2="363.7" stroke="#292929" stroke-width="0.45"/>
<line x1="282.4" y1="353.8" x2="282.4" y2="363.7" stroke="#424242" stroke-width="0.45"/>
<line x1="283.1" y1="353.8" x2="283.1" y2="363.7" stroke="#2a2a2a" stroke-width="0.45"/>
<line x1="284.3" y1="353.8" x2="284.3" y2="363.7" stroke="#424242" stroke-width="0.45"/>
<line x1="285" y1="353.8" x2="285" y2="363.7" stroke="#717171" stroke-width="0.45"/>
<line x1="285.4" y1="353.8" x2="285.4" y2="363.7" stroke="#747474" stroke-width="0.45"/>
<line x1="286.3" y1="353.8" x2="286.3" y2="363.7" stroke="#a1a1a1" stroke-width="0.45"/>
<line x1="287" y1="353.8" x2="287" y2="363.7" stroke="#999999" stroke-width="0.45"/>
<line x1="288.3" y1="353.8" x2="288.3" y2="363.7" stroke="#1a1a1a" stroke-width="0.45"/>
<line x1="288.8" y1="353.8" x2="288.8" y2="363.7" stroke="#191919" stroke-width="0.45"/>
<line x1="289.3" y1="353.8" x2="289.3" y2="363.7" stroke="#444444" stroke-width="0.45"/>
<line x1="289.8" y1="353.8" x2="289.8" y2="363.7" stroke="#323232" stroke-width="0.45"/>
<rect x="174" y="363.9" width="10.1" height="4.3" fill="#EF3B2C"/>
<rect x="184.1" y="363.9" width="12.8" height="4.3" fill="#F6896E"/>
<rect x="196.8" y="363.9" width="9.6" height="4.3" fill="#FBB89F"/>
<rect x="206.4" y="363.9" width="12.6" height="4.3" fill="#FDE3D7"/>
<rect x="218.9" y="363.9" width="16" height="4.3" fill="#E7EAF6"/>
<rect x="234.8" y="363.9" width="11.3" height="4.3" fill="#AAD3E8"/>
<rect x="246.1" y="363.9" width="19" height="4.3" fill="#4CA4D7"/>
<rect x="265" y="363.9" width="25.4" height="4.3" fill="#1A79BB"/>
<rect x="174" y="372.8" width="116.3" height="25" fill="#fff" stroke="#cfcfcf" stroke-width="0.4"/>
<line x1="201.9" y1="372.8" x2="201.9" y2="397.8" stroke="#ececec" stroke-width="0.4"/>
<line x1="229.8" y1="372.8" x2="229.8" y2="397.8" stroke="#ececec" stroke-width="0.4"/>
<line x1="257.6" y1="372.8" x2="257.6" y2="397.8" stroke="#ececec" stroke-width="0.4"/>
<line x1="285.5" y1="372.8" x2="285.5" y2="397.8" stroke="#ececec" stroke-width="0.4"/>
<line x1="174" y1="384.6" x2="290.3" y2="384.6" stroke="#e0e0e0" stroke-width="0.4"/>
<polygon points="174,384.6 174,379.8 175,380.9 175.9,381.6 176.9,382.2 177.9,382.6 178.8,382.9 179.8,383.1 180.8,383.3 181.8,383.4 182.7,383.5 183.7,383.6 184.7,383.7 185.6,383.7 186.6,383.8 187.6,383.8 188.5,383.9 189.5,383.9 190.5,383.9 191.4,384 192.4,384 193.4,384 194.4,384.1 195.3,384.1 196.3,384.1 197.3,384.1 198.2,384.2 199.2,384.2 200.2,384.2 201.1,384.2 202.1,384.2 203.1,384.3 204,384.3 205,384.3 206,384.3 207,384.4 207.9,384.4 208.9,384.4 209.9,384.4 210.8,384.4 211.8,384.4 212.8,384.5 213.7,384.5 214.7,384.5 215.7,384.5 216.6,384.5 217.6,384.5 218.6,384.5 219.6,384.6 220.5,384.6 221.5,384.6 222.5,384.6 223.4,384.6 224.4,384.6 225.4,384.6 226.3,384.6 227.3,384.6 228.3,384.6 229.2,384.6 230.2,384.6 231.2,384.6 232.2,384.6 232.2,384.6" fill="#cbcbcb" stroke="#b0b0b0" stroke-width="0.2"/>
<polygon points="232.2,384.6 232.2,384.6 233.1,384.6 234.1,384.6 235.1,384.6 236,384.6 237,384.6 238,384.6 238.9,384.6 239.9,384.6 240.9,384.6 241.8,384.6 242.8,384.7 243.8,384.7 244.7,384.7 245.7,384.7 246.7,384.8 247.7,384.8 248.6,384.8 249.6,384.9 250.6,384.9 251.5,384.9 252.5,385 253.5,385 254.4,385 255.4,385.1 256.4,385.1 257.3,385.2 258.3,385.2 259.3,385.3 260.3,385.3 261.2,385.4 262.2,385.4 263.2,385.5 264.1,385.5 265.1,385.6 266.1,385.6 267,385.7 268,385.8 269,385.8 269.9,385.9 270.9,386 271.9,386 272.9,386.1 273.8,386.2 274.8,386.3 275.8,386.4 276.7,386.4 277.7,386.6 278.7,386.7 279.6,386.8 280.6,387 281.6,387.2 282.5,387.4 283.5,387.6 284.5,388 285.5,388.4 286.4,388.9 287.4,389.6 288.4,390.4 289.3,391.6 290.3,393 290.3,384.6" fill="#cbcbcb" stroke="#b0b0b0" stroke-width="0.2"/>
<text x="169" y="385.3" font-size="2.1" text-anchor="middle" fill="#333" transform="rotate(-90 169 385.3)">Ranked List Metric</text>
<text x="173.2" y="378.7" font-size="1.6" text-anchor="end" fill="#444">0.5</text>
<line x1="173.4" y1="378.1" x2="174" y2="378.1" stroke="#666" stroke-width="0.3"/>
<text x="173.2" y="385.2" font-size="1.6" text-anchor="end" fill="#444">0.0</text>
<line x1="173.4" y1="384.6" x2="174" y2="384.6" stroke="#666" stroke-width="0.3"/>
<text x="173.2" y="391.7" font-size="1.6" text-anchor="end" fill="#444">-0.5</text>
<line x1="173.4" y1="391.1" x2="174" y2="391.1" stroke="#666" stroke-width="0.3"/>
<text x="201.9" y="400.7" font-size="1.6" text-anchor="middle" fill="#333">5000</text>
<text x="229.8" y="400.7" font-size="1.6" text-anchor="middle" fill="#333">10000</text>
<text x="257.6" y="400.7" font-size="1.6" text-anchor="middle" fill="#333">15000</text>
<text x="285.5" y="400.7" font-size="1.6" text-anchor="middle" fill="#333">20000</text>
<text x="231.9" y="403.5" font-size="2.2" text-anchor="middle" fill="#222">Rank in Ordered Dataset</text>
<defs><filter id="bl" x="-30%" y="-80%" width="160%" height="260%"><feGaussianBlur stdDeviation="0.85"/></filter><filter id="bls" x="-30%" y="-80%" width="160%" height="260%"><feGaussianBlur stdDeviation="0.5"/></filter><filter id="bl2" x="-30%" y="-30%" width="160%" height="160%"><feGaussianBlur stdDeviation="1.6"/></filter></defs>
<rect x="320.6" y="137" width="85.9" height="16.6" fill="#f9f9f9" stroke="#1e1e1e" stroke-width="1"/>
<g filter="url(#bl2)" opacity="0.55">
<rect x="328.2" y="139.5" width="10" height="11.6" fill="#cfcfcf"/>
<rect x="344.2" y="139.5" width="10" height="11.6" fill="#cfcfcf"/>
<rect x="358.8" y="139.5" width="10" height="11.6" fill="#cfcfcf"/>
<rect x="374.4" y="139.5" width="10" height="11.6" fill="#cfcfcf"/>
<rect x="390.9" y="139.5" width="10" height="11.6" fill="#cfcfcf"/>
</g>
<g filter="url(#bl)">
<rect x="328.2" y="141.1" width="10" height="3.4" rx="1.7" fill="#202020"/>
<rect x="343.9" y="140.9" width="10.5" height="3.8" rx="1.9" fill="#151515"/>
<rect x="343.9" y="139.8" width="10.5" height="1.5" rx="1" fill="#666"/>
<rect x="358.8" y="141.3" width="10" height="3.3" rx="1.6" fill="#494949"/>
<rect x="374.7" y="142.4" width="9.5" height="4.4" rx="2.2" fill="#9a9a9a"/>
<rect x="374.7" y="144.8" width="9.5" height="5" fill="#d4d4d4"/>
<rect x="391.2" y="142.3" width="9.5" height="4.2" rx="2.1" fill="#9e9e9e"/>
<rect x="391.2" y="144.8" width="9.5" height="5" fill="#d4d4d4"/>
</g>
<text x="304.8" y="147.2" font-size="7.3" text-anchor="middle" fill="#1a1a1a" stroke="#1a1a1a" stroke-width="0.12">p-mTOR</text>
<text x="408.6" y="148.9" font-size="7.2" fill="#111" stroke="#111" stroke-width="0.12">289kD</text>
<rect x="320.6" y="157" width="85.9" height="16.3" fill="#f7f7f7" stroke="#1e1e1e" stroke-width="1"/>
<g filter="url(#bl2)" opacity="0.55">
<rect x="327.7" y="159.5" width="10" height="11.3" fill="#cfcfcf"/>
<rect x="342.8" y="159.5" width="10" height="11.3" fill="#cfcfcf"/>
<rect x="358.1" y="159.5" width="10" height="11.3" fill="#cfcfcf"/>
<rect x="373.4" y="159.5" width="10" height="11.3" fill="#cfcfcf"/>
<rect x="388.3" y="159.5" width="10" height="11.3" fill="#cfcfcf"/>
</g>
<g filter="url(#bls)">
<rect x="327.4" y="162.5" width="10.5" height="2.3" rx="1.1" fill="#101010"/>
<rect x="342.4" y="161.7" width="10.7" height="2.4" rx="1.2" fill="#101010"/>
<rect x="357.6" y="160.8" width="11" height="2.6" rx="1.3" fill="#0a0a0a"/>
<rect x="373.2" y="160" width="10.5" height="2.6" rx="1.3" fill="#101010"/>
<rect x="388.3" y="159.5" width="10" height="2.3" rx="1.1" fill="#101010"/>
</g>
<text x="305.1" y="169.2" font-size="7.3" text-anchor="middle" fill="#1a1a1a" stroke="#1a1a1a" stroke-width="0.12">mTOR</text>
<text x="408.6" y="167.9" font-size="7.2" fill="#111" stroke="#111" stroke-width="0.12">289kD</text>
<rect x="320.6" y="175.4" width="85.9" height="18.2" fill="#e9e9e9" stroke="#1e1e1e" stroke-width="1"/>
<g filter="url(#bl2)" opacity="0.55">
<rect x="328.4" y="177.9" width="10" height="13.2" fill="#cfcfcf"/>
<rect x="344.3" y="177.9" width="10" height="13.2" fill="#cfcfcf"/>
<rect x="360" y="177.9" width="10" height="13.2" fill="#cfcfcf"/>
<rect x="375" y="177.9" width="10" height="13.2" fill="#cfcfcf"/>
<rect x="390.1" y="177.9" width="10" height="13.2" fill="#cfcfcf"/>
</g>
<g filter="url(#bl)">
<rect x="327.9" y="180.4" width="11" height="5.1" rx="2.5" fill="#101010"/>
<rect x="343" y="180.1" width="12.5" height="5.9" rx="3" fill="#0a0a0a"/>
<rect x="358.9" y="180.2" width="12.2" height="5.5" rx="2.8" fill="#0e0e0e"/>
<rect x="374.1" y="180.4" width="11.8" height="5.1" rx="2.5" fill="#151515"/>
<rect x="389.9" y="180.8" width="10.5" height="4.5" rx="2.2" fill="#494949"/>
</g>
<text x="303.4" y="189.3" font-size="7.3" text-anchor="middle" fill="#1a1a1a" stroke="#1a1a1a" stroke-width="0.12">p-4EBP</text>
<text x="408.6" y="188.9" font-size="7.2" fill="#111" stroke="#111" stroke-width="0.12">13kD</text>
<rect x="320.6" y="196.2" width="85.9" height="19.7" fill="#ececec" stroke="#1e1e1e" stroke-width="1"/>
<g filter="url(#bl2)" opacity="0.55">
<rect x="327.6" y="198.7" width="10" height="14.7" fill="#cfcfcf"/>
<rect x="343.6" y="198.7" width="10" height="14.7" fill="#cfcfcf"/>
<rect x="358.6" y="198.7" width="10" height="14.7" fill="#cfcfcf"/>
<rect x="375.2" y="198.7" width="10" height="14.7" fill="#cfcfcf"/>
<rect x="391.1" y="198.7" width="10" height="14.7" fill="#cfcfcf"/>
</g>
<g filter="url(#bl)">
<rect x="326.9" y="203.6" width="11.5" height="5.5" rx="2.8" fill="#101010"/>
<rect x="342.1" y="203.1" width="13" height="6.3" rx="3.1" fill="#0a0a0a"/>
<rect x="357.6" y="203.2" width="12" height="5.7" rx="2.9" fill="#0e0e0e"/>
<rect x="374" y="202.7" width="12.4" height="5.9" rx="3" fill="#0e0e0e"/>
<rect x="390.1" y="202.5" width="12" height="5.7" rx="2.9" fill="#0e0e0e"/>
</g>
<text x="303.5" y="209.8" font-size="7.3" text-anchor="middle" fill="#1a1a1a" stroke="#1a1a1a" stroke-width="0.12">4EBP</text>
<text x="408.6" y="209.9" font-size="7.2" fill="#111" stroke="#111" stroke-width="0.12">13kD</text>
<rect x="320.6" y="219.2" width="85.9" height="19.3" fill="#f2f2f2" stroke="#1e1e1e" stroke-width="1"/>
<g filter="url(#bl2)" opacity="0.55">
<rect x="327.3" y="221.7" width="10" height="14.3" fill="#cfcfcf"/>
<rect x="343.3" y="221.7" width="10" height="14.3" fill="#cfcfcf"/>
<rect x="359.3" y="221.7" width="10" height="14.3" fill="#cfcfcf"/>
<rect x="375.9" y="221.7" width="10" height="14.3" fill="#cfcfcf"/>
<rect x="391.9" y="221.7" width="10" height="14.3" fill="#cfcfcf"/>
</g>
<g filter="url(#bl)">
<rect x="326.3" y="221.2" width="12" height="15.3" rx="1.5" fill="#101010" opacity="0.3"/>
<rect x="326.3" y="227.3" width="12" height="2" rx="1.2" fill="#101010"/>
<rect x="326.3" y="229.9" width="12" height="3" rx="1.2" fill="#101010"/>
<rect x="342.7" y="221.2" width="11.2" height="15.3" rx="1.5" fill="#4d4d4d" opacity="0.3"/>
<rect x="342.7" y="227.8" width="11.2" height="2" rx="1.2" fill="#4d4d4d"/>
<rect x="342.7" y="230.3" width="11.2" height="3" rx="1.2" fill="#4d4d4d"/>
<rect x="358.3" y="221.2" width="12" height="15.3" rx="1.5" fill="#191919" opacity="0.3"/>
<rect x="358.3" y="227.3" width="12" height="2" rx="1.2" fill="#191919"/>
<rect x="358.3" y="229.9" width="12" height="3" rx="1.2" fill="#191919"/>
<rect x="374.7" y="221.2" width="12.5" height="15.3" rx="1.5" fill="#101010" opacity="0.3"/>
<rect x="374.7" y="227.3" width="12.5" height="2" rx="1.2" fill="#101010"/>
<rect x="374.7" y="229.9" width="12.5" height="3" rx="1.2" fill="#101010"/>
<rect x="391.2" y="221.2" width="11.5" height="15.3" rx="1.5" fill="#101010" opacity="0.3"/>
<rect x="391.2" y="227.3" width="11.5" height="2" rx="1.2" fill="#101010"/>
<rect x="391.2" y="229.9" width="11.5" height="3" rx="1.2" fill="#101010"/>
</g>
<text x="301.9" y="232.6" font-size="7.3" text-anchor="middle" fill="#1a1a1a" stroke="#1a1a1a" stroke-width="0.12">p-ULK</text>
<text x="408.6" y="232.2" font-size="7.2" fill="#111" stroke="#111" stroke-width="0.12">130kD</text>
<rect x="320.6" y="242.3" width="85.9" height="18.8" fill="#f5f5f5" stroke="#1e1e1e" stroke-width="1"/>
<g filter="url(#bl2)" opacity="0.55">
<rect x="327.2" y="244.8" width="10" height="13.8" fill="#cfcfcf"/>
<rect x="342.8" y="244.8" width="10" height="13.8" fill="#cfcfcf"/>
<rect x="358.4" y="244.8" width="10" height="13.8" fill="#cfcfcf"/>
<rect x="374.6" y="244.8" width="10" height="13.8" fill="#cfcfcf"/>
<rect x="390" y="244.8" width="10" height="13.8" fill="#cfcfcf"/>
</g>
<g filter="url(#bl)">
<rect x="326.6" y="250.4" width="11.2" height="5.5" rx="2.8" fill="#101010"/>
<rect x="342.4" y="250.5" width="10.8" height="5.1" rx="2.5" fill="#191919"/>
<rect x="358.2" y="250.5" width="10.5" height="4.5" rx="2.2" fill="#373737"/>
<rect x="374.2" y="249.8" width="10.8" height="4.9" rx="2.5" fill="#151515"/>
<rect x="389.6" y="248.6" width="10.8" height="5.9" rx="3" fill="#0a0a0a"/>
</g>
<text x="301.5" y="255.2" font-size="7.3" text-anchor="middle" fill="#1a1a1a" stroke="#1a1a1a" stroke-width="0.12">ULK</text>
<text x="408.6" y="254.8" font-size="7.2" fill="#111" stroke="#111" stroke-width="0.12">130kD</text>
<rect x="320.6" y="264.1" width="85.9" height="17.9" fill="#e4e4e4" stroke="#1e1e1e" stroke-width="1"/>
<g filter="url(#bl2)" opacity="0.55">
<rect x="327.5" y="266.6" width="10" height="12.9" fill="#cfcfcf"/>
<rect x="343" y="266.6" width="10" height="12.9" fill="#cfcfcf"/>
<rect x="359.1" y="266.6" width="10" height="12.9" fill="#cfcfcf"/>
<rect x="374.7" y="266.6" width="10" height="12.9" fill="#cfcfcf"/>
<rect x="390.9" y="266.6" width="10" height="12.9" fill="#cfcfcf"/>
</g>
<g filter="url(#bl)">
<rect x="327.1" y="273.4" width="10.8" height="4.5" rx="2.2" fill="#101010"/>
<rect x="342.6" y="273.6" width="10.8" height="4.1" rx="2" fill="#1c1c1c"/>
<rect x="358.3" y="272.1" width="11.6" height="5.3" rx="2.6" fill="#0a0a0a"/>
<rect x="374.1" y="271.4" width="11.2" height="4.5" rx="2.2" fill="#0e0e0e"/>
<rect x="390.3" y="271.3" width="11.2" height="4.2" rx="2.1" fill="#171717"/>
</g>
<text x="303.2" y="277.8" font-size="7.3" text-anchor="middle" fill="#1a1a1a" stroke="#1a1a1a" stroke-width="0.12">Tubulin</text>
<text x="409.5" y="274.9" font-size="7.2" fill="#111" stroke="#111" stroke-width="0.12">55kD</text>
<line x1="463.6" y1="170.8" x2="463.6" y2="252.4" stroke="#000" stroke-width="0.9"/>
<line x1="461.8" y1="252.4" x2="463.6" y2="252.4" stroke="#000" stroke-width="0.8"/>
<text x="461.2" y="254.4" font-size="5.6" font-weight="bold" text-anchor="end" fill="#000">0</text>
<line x1="461.8" y1="232" x2="463.6" y2="232" stroke="#000" stroke-width="0.8"/>
<text x="461.2" y="234" font-size="5.6" font-weight="bold" text-anchor="end" fill="#000">1</text>
<line x1="461.8" y1="211.6" x2="463.6" y2="211.6" stroke="#000" stroke-width="0.8"/>
<text x="461.2" y="213.6" font-size="5.6" font-weight="bold" text-anchor="end" fill="#000">2</text>
<line x1="461.8" y1="191.2" x2="463.6" y2="191.2" stroke="#000" stroke-width="0.8"/>
<text x="461.2" y="193.2" font-size="5.6" font-weight="bold" text-anchor="end" fill="#000">3</text>
<line x1="461.8" y1="170.8" x2="463.6" y2="170.8" stroke="#000" stroke-width="0.8"/>
<text x="461.2" y="172.8" font-size="5.6" font-weight="bold" text-anchor="end" fill="#000">4</text>
<line x1="463.6" y1="252.4" x2="541.5" y2="252.4" stroke="#000" stroke-width="0.9"/>
<line x1="474.3" y1="224.9" x2="474.3" y2="228.3" stroke="#8a8a8a" stroke-width="0.7"/>
<line x1="472.5" y1="224.9" x2="476.1" y2="224.9" stroke="#8a8a8a" stroke-width="0.7"/>
<rect x="469.4" y="228.3" width="9.8" height="24.1" fill="#E87DB0" stroke="#1a1a1a" stroke-width="0.7"/>
<line x1="474.3" y1="252.4" x2="474.3" y2="254.6" stroke="#000" stroke-width="0.8"/>
<line x1="489.6" y1="193.6" x2="489.6" y2="200" stroke="#8a8a8a" stroke-width="0.7"/>
<line x1="487.8" y1="193.6" x2="491.4" y2="193.6" stroke="#8a8a8a" stroke-width="0.7"/>
<rect x="484.7" y="200" width="9.8" height="52.4" fill="#9A8CC6" stroke="#1a1a1a" stroke-width="0.7"/>
<line x1="489.6" y1="252.4" x2="489.6" y2="254.6" stroke="#000" stroke-width="0.8"/>
<line x1="504.8" y1="213" x2="504.8" y2="218.9" stroke="#8a8a8a" stroke-width="0.7"/>
<line x1="503" y1="213" x2="506.6" y2="213" stroke="#8a8a8a" stroke-width="0.7"/>
<rect x="499.9" y="218.9" width="9.8" height="33.5" fill="#D9E3F2" stroke="#1a1a1a" stroke-width="0.7"/>
<line x1="504.8" y1="252.4" x2="504.8" y2="254.6" stroke="#000" stroke-width="0.8"/>
<line x1="519.9" y1="216.3" x2="519.9" y2="224.2" stroke="#8a8a8a" stroke-width="0.7"/>
<line x1="518.1" y1="216.3" x2="521.7" y2="216.3" stroke="#8a8a8a" stroke-width="0.7"/>
<rect x="515" y="224.2" width="9.8" height="28.2" fill="#5BB3A5" stroke="#1a1a1a" stroke-width="0.7"/>
<line x1="519.9" y1="252.4" x2="519.9" y2="254.6" stroke="#000" stroke-width="0.8"/>
<line x1="535.1" y1="230.4" x2="535.1" y2="232" stroke="#8a8a8a" stroke-width="0.7"/>
<line x1="533.3" y1="230.4" x2="536.9" y2="230.4" stroke="#8a8a8a" stroke-width="0.7"/>
<rect x="530.2" y="232" width="9.8" height="20.4" fill="#FDD1B0" stroke="#1a1a1a" stroke-width="0.7"/>
<line x1="535.1" y1="252.4" x2="535.1" y2="254.6" stroke="#000" stroke-width="0.8"/>
<polyline points="474.5,224.5 474.5,188.7 485.5,188.7 485.5,193.3" fill="none" stroke="#555" stroke-width="0.75"/>
<polyline points="489.5,188.9 489.5,184.2 519.6,184.2 519.6,212" fill="none" stroke="#555" stroke-width="0.75"/>
<polyline points="489.5,178.4 489.5,166.8 535.1,166.8 535.1,226" fill="none" stroke="#555" stroke-width="0.75"/>
<text x="479.8" y="184.6" font-size="6.6" font-weight="bold" text-anchor="middle" letter-spacing="0" fill="#111">##</text>
<text x="505.4" y="181.9" font-size="8.6" font-weight="bold" text-anchor="middle" letter-spacing="1.3" fill="#111">***</text>
<text x="512.9" y="164.4" font-size="8.6" font-weight="bold" text-anchor="middle" letter-spacing="1.3" fill="#111">****</text>
<text x="474.4" y="263" font-size="6.0" font-weight="bold" text-anchor="middle" fill="#000">Ctrl</text>
<text x="490.1" y="263" font-size="6" font-weight="bold" text-anchor="middle">H<tspan font-size="3.7" dy="1.3">2</tspan><tspan dy="-1.3">O</tspan><tspan font-size="3.7" dy="1.3">2</tspan></text>
<text x="504.8" y="263" font-size="6.0" font-weight="bold" text-anchor="middle" fill="#000">1</text>
<text x="519.9" y="263" font-size="6.0" font-weight="bold" text-anchor="middle" fill="#000">2</text>
<text x="535.1" y="263" font-size="6.0" font-weight="bold" text-anchor="middle" fill="#000">4</text>
<line x1="501" y1="265.7" x2="538.6" y2="265.7" stroke="#000" stroke-width="0.8"/>
<text x="518.7" y="274" font-size="7.0" font-weight="bold" text-anchor="middle" fill="#000">AKG(mM)</text>
<text x="444.4" y="211.5" font-size="6.6" font-weight="bold" text-anchor="middle" fill="#000" transform="rotate(-90 444.4 211.5)">p-mTOR/mTOR/Tubulin</text>
<text x="451.2" y="211.5" font-size="6.6" font-weight="bold" text-anchor="middle" fill="#000" transform="rotate(-90 451.2 211.5)">(of Control%)</text>
<line x1="347.5" y1="322.8" x2="347.5" y2="389.7" stroke="#000" stroke-width="0.9"/>
<line x1="345.7" y1="389.7" x2="347.5" y2="389.7" stroke="#000" stroke-width="0.8"/>
<text x="345.1" y="391.4" font-size="4.8" font-weight="bold" text-anchor="end" fill="#000">0.0</text>
<line x1="345.7" y1="367.4" x2="347.5" y2="367.4" stroke="#000" stroke-width="0.8"/>
<text x="345.1" y="369.1" font-size="4.8" font-weight="bold" text-anchor="end" fill="#000">0.5</text>
<line x1="345.7" y1="345.1" x2="347.5" y2="345.1" stroke="#000" stroke-width="0.8"/>
<text x="345.1" y="346.8" font-size="4.8" font-weight="bold" text-anchor="end" fill="#000">1.0</text>
<line x1="345.7" y1="322.8" x2="347.5" y2="322.8" stroke="#000" stroke-width="0.8"/>
<text x="345.1" y="324.5" font-size="4.8" font-weight="bold" text-anchor="end" fill="#000">1.5</text>
<line x1="347.5" y1="389.7" x2="411.5" y2="389.7" stroke="#000" stroke-width="0.9"/>
<line x1="356.9" y1="342" x2="356.9" y2="345.1" stroke="#8a8a8a" stroke-width="0.7"/>
<line x1="355.1" y1="342" x2="358.7" y2="342" stroke="#8a8a8a" stroke-width="0.7"/>
<rect x="352.9" y="345.1" width="8" height="44.6" fill="#E87DB0" stroke="#1a1a1a" stroke-width="0.7"/>
<line x1="356.9" y1="389.7" x2="356.9" y2="391.9" stroke="#000" stroke-width="0.8"/>
<line x1="369.3" y1="358.5" x2="369.3" y2="364.7" stroke="#8a8a8a" stroke-width="0.7"/>
<line x1="367.5" y1="358.5" x2="371.1" y2="358.5" stroke="#8a8a8a" stroke-width="0.7"/>
<rect x="365.3" y="364.7" width="8" height="25" fill="#9A8CC6" stroke="#1a1a1a" stroke-width="0.7"/>
<line x1="369.3" y1="389.7" x2="369.3" y2="391.9" stroke="#000" stroke-width="0.8"/>
<line x1="381.5" y1="350" x2="381.5" y2="358.5" stroke="#8a8a8a" stroke-width="0.7"/>
<line x1="379.7" y1="350" x2="383.3" y2="350" stroke="#8a8a8a" stroke-width="0.7"/>
<rect x="377.5" y="358.5" width="8" height="31.2" fill="#D9E3F2" stroke="#1a1a1a" stroke-width="0.7"/>
<line x1="381.5" y1="389.7" x2="381.5" y2="391.9" stroke="#000" stroke-width="0.8"/>
<line x1="393.8" y1="328.2" x2="393.8" y2="338.4" stroke="#8a8a8a" stroke-width="0.7"/>
<line x1="392" y1="328.2" x2="395.6" y2="328.2" stroke="#8a8a8a" stroke-width="0.7"/>
<rect x="389.8" y="338.4" width="8" height="51.3" fill="#5BB3A5" stroke="#1a1a1a" stroke-width="0.7"/>
<line x1="393.8" y1="389.7" x2="393.8" y2="391.9" stroke="#000" stroke-width="0.8"/>
<line x1="406.5" y1="327.7" x2="406.5" y2="328.2" stroke="#8a8a8a" stroke-width="0.7"/>
<line x1="404.7" y1="327.7" x2="408.3" y2="327.7" stroke="#8a8a8a" stroke-width="0.7"/>
<rect x="402.5" y="328.2" width="8" height="61.5" fill="#FDD1B0" stroke="#1a1a1a" stroke-width="0.7"/>
<line x1="406.5" y1="389.7" x2="406.5" y2="391.9" stroke="#000" stroke-width="0.8"/>
<polyline points="357,340.4 357,333.6 365.4,333.6 365.4,357" fill="none" stroke="#555" stroke-width="0.75"/>
<polyline points="369.3,358 369.3,318.3 394.6,318.3 394.6,324.1" fill="none" stroke="#555" stroke-width="0.75"/>
<polyline points="369.3,312.6 369.3,307.6 406.7,307.6 406.7,323" fill="none" stroke="#555" stroke-width="0.75"/>
<text x="360.7" y="330.6" font-size="4.8" font-weight="bold" text-anchor="middle" letter-spacing="0" fill="#111">##</text>
<text x="382.2" y="316.6" font-size="7.4" font-weight="bold" text-anchor="middle" letter-spacing="1" fill="#111">**</text>
<text x="388.2" y="306.3" font-size="7.4" font-weight="bold" text-anchor="middle" letter-spacing="1" fill="#111">***</text>
<text x="357" y="398.2" font-size="4.9" font-weight="bold" text-anchor="middle" fill="#000">Ctrl</text>
<text x="369.8" y="398.2" font-size="4.9" font-weight="bold" text-anchor="middle">H<tspan font-size="3" dy="1.1">2</tspan><tspan dy="-1.1">O</tspan><tspan font-size="3" dy="1.1">2</tspan></text>
<text x="381.5" y="398.2" font-size="4.9" font-weight="bold" text-anchor="middle" fill="#000">1</text>
<text x="393.8" y="398.2" font-size="4.9" font-weight="bold" text-anchor="middle" fill="#000">2</text>
<text x="406.5" y="398.2" font-size="4.9" font-weight="bold" text-anchor="middle" fill="#000">4</text>
<line x1="378.6" y1="399.9" x2="409.9" y2="399.9" stroke="#000" stroke-width="0.8"/>
<text x="393.1" y="407" font-size="5.75" font-weight="bold" text-anchor="middle" fill="#000">AKG(mM)</text>
<text x="329" y="355.6" font-size="5.7" font-weight="bold" text-anchor="middle" fill="#000" transform="rotate(-90 329 355.6)">p-ULK/ULK/Tubulin</text>
<text x="335" y="355.6" font-size="5.7" font-weight="bold" text-anchor="middle" fill="#000" transform="rotate(-90 335 355.6)">(of Control%)</text>
<line x1="469.6" y1="315" x2="469.6" y2="387.4" stroke="#000" stroke-width="0.9"/>
<line x1="467.8" y1="387.4" x2="469.6" y2="387.4" stroke="#000" stroke-width="0.8"/>
<text x="467.2" y="389.1" font-size="4.8" font-weight="bold" text-anchor="end" fill="#000">0.0</text>
<line x1="467.8" y1="369.3" x2="469.6" y2="369.3" stroke="#000" stroke-width="0.8"/>
<text x="467.2" y="371" font-size="4.8" font-weight="bold" text-anchor="end" fill="#000">0.5</text>
<line x1="467.8" y1="351.2" x2="469.6" y2="351.2" stroke="#000" stroke-width="0.8"/>
<text x="467.2" y="352.9" font-size="4.8" font-weight="bold" text-anchor="end" fill="#000">1.0</text>
<line x1="467.8" y1="333.1" x2="469.6" y2="333.1" stroke="#000" stroke-width="0.8"/>
<text x="467.2" y="334.8" font-size="4.8" font-weight="bold" text-anchor="end" fill="#000">1.5</text>
<line x1="467.8" y1="315" x2="469.6" y2="315" stroke="#000" stroke-width="0.8"/>
<text x="467.2" y="316.7" font-size="4.8" font-weight="bold" text-anchor="end" fill="#000">2.0</text>
<line x1="469.6" y1="387.4" x2="540.5" y2="387.4" stroke="#000" stroke-width="0.9"/>
<line x1="481.2" y1="344" x2="481.2" y2="351.2" stroke="#8a8a8a" stroke-width="0.7"/>
<line x1="479.4" y1="344" x2="483" y2="344" stroke="#8a8a8a" stroke-width="0.7"/>
<rect x="476.8" y="351.2" width="8.8" height="36.2" fill="#E87DB0" stroke="#1a1a1a" stroke-width="0.7"/>
<line x1="481.2" y1="387.4" x2="481.2" y2="389.6" stroke="#000" stroke-width="0.8"/>
<line x1="494.4" y1="328.4" x2="494.4" y2="332" stroke="#8a8a8a" stroke-width="0.7"/>
<line x1="492.6" y1="328.4" x2="496.2" y2="328.4" stroke="#8a8a8a" stroke-width="0.7"/>
<rect x="490" y="332" width="8.8" height="55.4" fill="#9A8CC6" stroke="#1a1a1a" stroke-width="0.7"/>
<line x1="494.4" y1="387.4" x2="494.4" y2="389.6" stroke="#000" stroke-width="0.8"/>
<line x1="507.6" y1="335.3" x2="507.6" y2="344" stroke="#8a8a8a" stroke-width="0.7"/>
<line x1="505.8" y1="335.3" x2="509.4" y2="335.3" stroke="#8a8a8a" stroke-width="0.7"/>
<rect x="503.2" y="344" width="8.8" height="43.4" fill="#D9E3F2" stroke="#1a1a1a" stroke-width="0.7"/>
<line x1="507.6" y1="387.4" x2="507.6" y2="389.6" stroke="#000" stroke-width="0.8"/>
<line x1="520.8" y1="339.3" x2="520.8" y2="352.6" stroke="#8a8a8a" stroke-width="0.7"/>
<line x1="519" y1="339.3" x2="522.6" y2="339.3" stroke="#8a8a8a" stroke-width="0.7"/>
<rect x="516.4" y="352.6" width="8.8" height="34.8" fill="#5BB3A5" stroke="#1a1a1a" stroke-width="0.7"/>
<line x1="520.8" y1="387.4" x2="520.8" y2="389.6" stroke="#000" stroke-width="0.8"/>
<line x1="534.3" y1="357" x2="534.3" y2="359.2" stroke="#8a8a8a" stroke-width="0.7"/>
<line x1="532.5" y1="357" x2="536.1" y2="357" stroke="#8a8a8a" stroke-width="0.7"/>
<rect x="529.9" y="359.2" width="8.8" height="28.2" fill="#FDD1B0" stroke="#1a1a1a" stroke-width="0.7"/>
<line x1="534.3" y1="387.4" x2="534.3" y2="389.6" stroke="#000" stroke-width="0.8"/>
<polyline points="481,341 481,320.2 491.1,320.2 491.1,323.5" fill="none" stroke="#555" stroke-width="0.75"/>
<polyline points="494.4,323.5 494.4,320.2 521.3,320.2 521.3,334.3" fill="none" stroke="#555" stroke-width="0.75"/>
<polyline points="494.4,314.8 494.4,304.1 534.7,304.1 534.7,354" fill="none" stroke="#555" stroke-width="0.75"/>
<text x="485.6" y="316" font-size="4.8" font-weight="bold" text-anchor="middle" letter-spacing="0" fill="#111">##</text>
<text x="507.9" y="319.6" font-size="7.4" font-weight="bold" text-anchor="middle" letter-spacing="0" fill="#111">*</text>
<text x="515" y="304.2" font-size="7.4" font-weight="bold" text-anchor="middle" letter-spacing="1" fill="#111">**</text>
<text x="481.3" y="395.3" font-size="5.1" font-weight="bold" text-anchor="middle" fill="#000">Ctrl</text>
<text x="494.9" y="395.3" font-size="5.1" font-weight="bold" text-anchor="middle">H<tspan font-size="3.2" dy="1.1">2</tspan><tspan dy="-1.1">O</tspan><tspan font-size="3.2" dy="1.1">2</tspan></text>
<text x="507.6" y="395.3" font-size="5.1" font-weight="bold" text-anchor="middle" fill="#000">1</text>
<text x="520.8" y="395.3" font-size="5.1" font-weight="bold" text-anchor="middle" fill="#000">2</text>
<text x="534.3" y="395.3" font-size="5.1" font-weight="bold" text-anchor="middle" fill="#000">4</text>
<line x1="504.8" y1="398.1" x2="537.3" y2="398.1" stroke="#000" stroke-width="0.8"/>
<text x="519.3" y="406.1" font-size="5.8" font-weight="bold" text-anchor="middle" fill="#000">AKG(mM)</text>
<text x="448.6" y="350.6" font-size="5.8" font-weight="bold" text-anchor="middle" fill="#000" transform="rotate(-90 448.6 350.6)">p-4EBP/4EBP/Tubulin</text>
<text x="454.2" y="350.6" font-size="5.8" font-weight="bold" text-anchor="middle" fill="#000" transform="rotate(-90 454.2 350.6)">(%of Control)</text>
</svg>
</body></html>
